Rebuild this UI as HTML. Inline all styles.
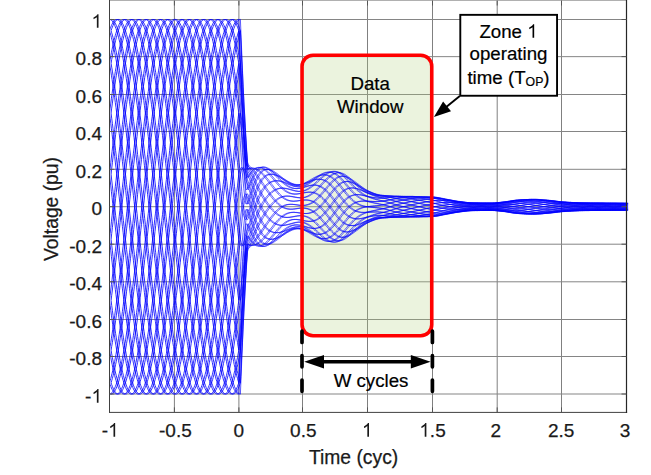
<!DOCTYPE html>
<html><head><meta charset="utf-8"><title>CVT transient</title>
<style>
html,body{margin:0;padding:0;background:#fff;}
body{width:651px;height:475px;overflow:hidden;}
svg{display:block;font-family:"Liberation Sans",sans-serif;}
.gv{stroke:#808080;stroke-width:1;}
.gh{stroke:#858585;stroke-width:1;}
.tk{stroke:#555;stroke-width:1;}
.tl{font-size:19px;fill:#1a1a1a;stroke:#1a1a1a;stroke-width:0.25;}
.al{font-size:19.3px;fill:#1a1a1a;stroke:#1a1a1a;stroke-width:0.25;}
.an{font-size:18.7px;fill:#000;stroke:#000;stroke-width:0.2;}
.cv path{fill:none;stroke:#0000ff;stroke-width:0.82;stroke-linejoin:round;}
.c2 path{stroke-width:0.65;}
</style></head><body>
<svg width="651" height="475" viewBox="0 0 651 475">
<rect x="0" y="0" width="651" height="475" fill="#fff"/>
<g><line x1="174.4" y1="0.5" x2="174.4" y2="412.4" class="gv"/><line x1="238.9" y1="0.5" x2="238.9" y2="412.4" class="gv"/><line x1="302.5" y1="0.5" x2="302.5" y2="412.4" class="gv"/><line x1="367.5" y1="0.5" x2="367.5" y2="412.4" class="gv"/><line x1="432.5" y1="0.5" x2="432.5" y2="412.4" class="gv"/><line x1="497.2" y1="0.5" x2="497.2" y2="412.4" class="gv"/><line x1="561.5" y1="0.5" x2="561.5" y2="412.4" class="gv"/><line x1="109.5" y1="19.50" x2="626.5" y2="19.50" class="gh"/><line x1="109.5" y1="56.65" x2="626.5" y2="56.65" class="gh"/><line x1="109.5" y1="94.50" x2="626.5" y2="94.50" class="gh"/><line x1="109.5" y1="131.50" x2="626.5" y2="131.50" class="gh"/><line x1="109.5" y1="169.30" x2="626.5" y2="169.30" class="gh"/><line x1="109.5" y1="206.70" x2="626.5" y2="206.70" class="gh"/><line x1="109.5" y1="244.20" x2="626.5" y2="244.20" class="gh"/><line x1="109.5" y1="281.80" x2="626.5" y2="281.80" class="gh"/><line x1="109.5" y1="319.50" x2="626.5" y2="319.50" class="gh"/><line x1="109.5" y1="356.50" x2="626.5" y2="356.50" class="gh"/><line x1="109.5" y1="394.00" x2="626.5" y2="394.00" class="gh"/></g>
<rect x="302.05" y="55.3" width="129.7" height="280.4" rx="11" ry="11" fill="rgba(175,207,123,0.25)"/>
<g class="cv" id="cv">
<path d="M109.5,19.4 L110.1,19.5 L110.8,19.8 L111.4,20.3 L112.1,20.9 L112.7,21.8 L113.4,22.8 L114.0,24.0 L114.7,25.3 L115.3,26.9 L116.0,28.6 L116.6,30.5 L117.3,32.6 L117.9,34.9 L118.5,37.3 L119.2,39.9 L119.8,42.6 L120.5,45.5 L121.1,48.6 L121.8,51.8 L122.4,55.2 L123.1,58.8 L123.7,62.4 L124.4,66.3 L125.0,70.2 L125.7,74.3 L126.3,78.5 L126.9,82.9 L127.6,87.4 L128.2,92.0 L128.9,96.7 L129.5,101.5 L130.2,106.4 L130.8,111.4 L131.5,116.5 L132.1,121.7 L132.8,127.0 L133.4,132.4 L134.1,137.8 L134.7,143.3 L135.4,148.9 L136.0,154.5 L136.6,160.2 L137.3,165.9 L137.9,171.7 L138.6,177.4 L139.2,183.3 L139.9,189.1 L140.5,195.0 L141.2,200.9 L141.8,206.8 L142.5,212.6 L143.1,218.5 L143.8,224.4 L144.4,230.2 L145.0,236.1 L145.7,241.8 L146.3,247.6 L147.0,253.3 L147.6,259.0 L148.3,264.6 L148.9,270.2 L149.6,275.7 L150.2,281.1 L150.9,286.5 L151.5,291.8 L152.2,297.0 L152.8,302.1 L153.4,307.1 L154.1,312.0 L154.7,316.8 L155.4,321.5 L156.0,326.1 L156.7,330.6 L157.3,335.0 L158.0,339.2 L158.6,343.3 L159.3,347.2 L159.9,351.1 L160.6,354.7 L161.2,358.3 L161.8,361.7 L162.5,364.9 L163.1,368.0 L163.8,370.9 L164.4,373.6 L165.1,376.2 L165.7,378.6 L166.4,380.9 L167.0,383.0 L167.7,384.9 L168.3,386.6 L169.0,388.2 L169.6,389.5 L170.2,390.7 L170.9,391.7 L171.5,392.6 L172.2,393.2 L172.8,393.7 L173.5,394.0 L174.1,394.1 L174.8,394.0 L175.4,393.7 L176.1,393.2 L176.7,392.6 L177.4,391.7 L178.0,390.7 L178.6,389.5 L179.3,388.2 L179.9,386.6 L180.6,384.9 L181.2,383.0 L181.9,380.9 L182.5,378.6 L183.2,376.2 L183.8,373.6 L184.5,370.9 L185.1,368.0 L185.8,364.9 L186.4,361.7 L187.1,358.3 L187.7,354.7 L188.3,351.1 L189.0,347.2 L189.6,343.3 L190.3,339.2 L190.9,335.0 L191.6,330.6 L192.2,326.1 L192.9,321.5 L193.5,316.8 L194.2,312.0 L194.8,307.1 L195.5,302.1 L196.1,297.0 L196.7,291.8 L197.4,286.5 L198.0,281.1 L198.7,275.7 L199.3,270.2 L200.0,264.6 L200.6,259.0 L201.3,253.3 L201.9,247.6 L202.6,241.8 L203.2,236.1 L203.9,230.2 L204.5,224.4 L205.1,218.5 L205.8,212.6 L206.4,206.7 L207.1,200.9 L207.7,195.0 L208.4,189.1 L209.0,183.3 L209.7,177.4 L210.3,171.7 L211.0,165.9 L211.6,160.2 L212.3,154.5 L212.9,148.9 L213.5,143.3 L214.2,137.8 L214.8,132.4 L215.5,127.0 L216.1,121.7 L216.8,116.5 L217.4,111.4 L218.1,106.4 L218.7,101.5 L219.4,96.7 L220.0,92.0 L220.7,87.4 L221.3,82.9 L221.9,78.5 L222.6,74.3 L223.2,70.2 L223.9,66.3 L224.5,62.4 L225.2,58.8 L225.8,55.2 L226.5,51.8 L227.1,48.6 L227.8,45.5 L228.4,42.6 L229.1,39.9 L229.7,37.3 L230.3,34.9 L231.0,32.6 L231.6,30.5 L232.3,28.6 L232.9,26.9 L233.6,25.3 L234.2,24.0 L234.9,22.8 L235.5,21.8 L236.2,20.9 L236.8,20.3 L237.5,19.8 L238.1,19.5 L238.8,19.4"/>
<path d="M109.5,30.7 L110.1,32.8 L110.8,35.1 L111.4,37.6 L112.1,40.2 L112.7,42.9 L113.4,45.9 L114.0,49.0 L114.7,52.2 L115.3,55.6 L116.0,59.2 L116.6,62.9 L117.3,66.7 L117.9,70.7 L118.5,74.8 L119.2,79.0 L119.8,83.4 L120.5,87.9 L121.1,92.5 L121.8,97.2 L122.4,102.0 L123.1,106.9 L123.7,112.0 L124.4,117.1 L125.0,122.3 L125.7,127.6 L126.3,133.0 L126.9,138.4 L127.6,143.9 L128.2,149.5 L128.9,155.1 L129.5,160.8 L130.2,166.5 L130.8,172.3 L131.5,178.1 L132.1,183.9 L132.8,189.8 L133.4,195.6 L134.1,201.5 L134.7,207.4 L135.4,213.3 L136.0,219.2 L136.6,225.0 L137.3,230.9 L137.9,236.7 L138.6,242.5 L139.2,248.2 L139.9,254.0 L140.5,259.6 L141.2,265.3 L141.8,270.8 L142.5,276.3 L143.1,281.7 L143.8,287.1 L144.4,292.4 L145.0,297.6 L145.7,302.7 L146.3,307.7 L147.0,312.6 L147.6,317.4 L148.3,322.1 L148.9,326.6 L149.6,331.1 L150.2,335.4 L150.9,339.7 L151.5,343.7 L152.2,347.7 L152.8,351.5 L153.4,355.1 L154.1,358.7 L154.7,362.0 L155.4,365.2 L156.0,368.3 L156.7,371.2 L157.3,373.9 L158.0,376.5 L158.6,378.9 L159.3,381.1 L159.9,383.2 L160.6,385.1 L161.2,386.8 L161.8,388.3 L162.5,389.7 L163.1,390.9 L163.8,391.8 L164.4,392.7 L165.1,393.3 L165.7,393.7 L166.4,394.0 L167.0,394.0 L167.7,393.9 L168.3,393.6 L169.0,393.2 L169.6,392.5 L170.2,391.6 L170.9,390.6 L171.5,389.4 L172.2,388.0 L172.8,386.4 L173.5,384.7 L174.1,382.8 L174.8,380.7 L175.4,378.4 L176.1,375.9 L176.7,373.3 L177.4,370.6 L178.0,367.6 L178.6,364.5 L179.3,361.3 L179.9,357.9 L180.6,354.3 L181.2,350.6 L181.9,346.8 L182.5,342.8 L183.2,338.7 L183.8,334.5 L184.5,330.1 L185.1,325.6 L185.8,321.0 L186.4,316.3 L187.1,311.5 L187.7,306.6 L188.3,301.5 L189.0,296.4 L189.6,291.2 L190.3,285.9 L190.9,280.5 L191.6,275.1 L192.2,269.6 L192.9,264.0 L193.5,258.4 L194.2,252.7 L194.8,247.0 L195.5,241.2 L196.1,235.4 L196.7,229.6 L197.4,223.7 L198.0,217.9 L198.7,212.0 L199.3,206.1 L200.0,200.2 L200.6,194.3 L201.3,188.5 L201.9,182.6 L202.6,176.8 L203.2,171.0 L203.9,165.3 L204.5,159.5 L205.1,153.9 L205.8,148.2 L206.4,142.7 L207.1,137.2 L207.7,131.8 L208.4,126.4 L209.0,121.1 L209.7,115.9 L210.3,110.8 L211.0,105.8 L211.6,100.9 L212.3,96.1 L212.9,91.4 L213.5,86.9 L214.2,82.4 L214.8,78.1 L215.5,73.8 L216.1,69.8 L216.8,65.8 L217.4,62.0 L218.1,58.4 L218.7,54.8 L219.4,51.5 L220.0,48.3 L220.7,45.2 L221.3,42.3 L221.9,39.6 L222.6,37.0 L223.2,34.6 L223.9,32.4 L224.5,30.3 L225.2,28.4 L225.8,26.7 L226.5,25.2 L227.1,23.8 L227.8,22.6 L228.4,21.7 L229.1,20.8 L229.7,20.2 L230.3,19.8 L231.0,19.5 L231.6,19.5 L232.3,19.6 L232.9,19.9 L233.6,20.3 L234.2,21.0 L234.9,21.9 L235.5,22.9 L236.2,24.1 L236.8,25.5 L237.5,27.1 L238.1,28.8 L238.8,30.7"/>
<path d="M109.5,63.3 L110.1,67.1 L110.8,71.1 L111.4,75.2 L112.1,79.5 L112.7,83.9 L113.4,88.4 L114.0,93.0 L114.7,97.7 L115.3,102.6 L116.0,107.5 L116.6,112.5 L117.3,117.7 L117.9,122.9 L118.5,128.2 L119.2,133.6 L119.8,139.0 L120.5,144.5 L121.1,150.1 L121.8,155.8 L122.4,161.4 L123.1,167.2 L123.7,172.9 L124.4,178.7 L125.0,184.6 L125.7,190.4 L126.3,196.3 L126.9,202.2 L127.6,208.1 L128.2,213.9 L128.9,219.8 L129.5,225.7 L130.2,231.5 L130.8,237.3 L131.5,243.1 L132.1,248.9 L132.8,254.6 L133.4,260.3 L134.1,265.9 L134.7,271.4 L135.4,276.9 L136.0,282.3 L136.6,287.7 L137.3,292.9 L137.9,298.1 L138.6,303.2 L139.2,308.2 L139.9,313.1 L140.5,317.9 L141.2,322.6 L141.8,327.1 L142.5,331.6 L143.1,335.9 L143.8,340.1 L144.4,344.2 L145.0,348.1 L145.7,351.9 L146.3,355.5 L147.0,359.0 L147.6,362.4 L148.3,365.6 L148.9,368.6 L149.6,371.5 L150.2,374.2 L150.9,376.8 L151.5,379.2 L152.2,381.4 L152.8,383.4 L153.4,385.3 L154.1,387.0 L154.7,388.5 L155.4,389.8 L156.0,391.0 L156.7,391.9 L157.3,392.7 L158.0,393.3 L158.6,393.8 L159.3,394.0 L159.9,394.0 L160.6,393.9 L161.2,393.6 L161.8,393.1 L162.5,392.4 L163.1,391.5 L163.8,390.5 L164.4,389.2 L165.1,387.8 L165.7,386.2 L166.4,384.5 L167.0,382.5 L167.7,380.4 L168.3,378.1 L169.0,375.7 L169.6,373.0 L170.2,370.2 L170.9,367.3 L171.5,364.2 L172.2,360.9 L172.8,357.5 L173.5,353.9 L174.1,350.2 L174.8,346.4 L175.4,342.4 L176.1,338.3 L176.7,334.0 L177.4,329.6 L178.0,325.1 L178.6,320.5 L179.3,315.8 L179.9,310.9 L180.6,306.0 L181.2,301.0 L181.9,295.8 L182.5,290.6 L183.2,285.3 L183.8,279.9 L184.5,274.5 L185.1,269.0 L185.8,263.4 L186.4,257.7 L187.1,252.1 L187.7,246.3 L188.3,240.6 L189.0,234.8 L189.6,228.9 L190.3,223.1 L190.9,217.2 L191.6,211.3 L192.2,205.4 L192.9,199.6 L193.5,193.7 L194.2,187.8 L194.8,182.0 L195.5,176.2 L196.1,170.4 L196.7,164.6 L197.4,158.9 L198.0,153.2 L198.7,147.6 L199.3,142.1 L200.0,136.6 L200.6,131.2 L201.3,125.8 L201.9,120.6 L202.6,115.4 L203.2,110.3 L203.9,105.3 L204.5,100.4 L205.1,95.6 L205.8,90.9 L206.4,86.4 L207.1,81.9 L207.7,77.6 L208.4,73.4 L209.0,69.3 L209.7,65.4 L210.3,61.6 L211.0,58.0 L211.6,54.5 L212.3,51.1 L212.9,47.9 L213.5,44.9 L214.2,42.0 L214.8,39.3 L215.5,36.7 L216.1,34.3 L216.8,32.1 L217.4,30.1 L218.1,28.2 L218.7,26.5 L219.4,25.0 L220.0,23.7 L220.7,22.5 L221.3,21.6 L221.9,20.8 L222.6,20.2 L223.2,19.7 L223.9,19.5 L224.5,19.5 L225.2,19.6 L225.8,19.9 L226.5,20.4 L227.1,21.1 L227.8,22.0 L228.4,23.0 L229.1,24.3 L229.7,25.7 L230.3,27.3 L231.0,29.0 L231.6,31.0 L232.3,33.1 L232.9,35.4 L233.6,37.8 L234.2,40.5 L234.9,43.3 L235.5,46.2 L236.2,49.3 L236.8,52.6 L237.5,56.0 L238.1,59.6 L238.8,63.3"/>
<path d="M109.5,113.1 L110.1,118.2 L110.8,123.5 L111.4,128.8 L112.1,134.2 L112.7,139.6 L113.4,145.2 L114.0,150.7 L114.7,156.4 L115.3,162.1 L116.0,167.8 L116.6,173.6 L117.3,179.4 L117.9,185.2 L118.5,191.1 L119.2,196.9 L119.8,202.8 L120.5,208.7 L121.1,214.6 L121.8,220.5 L122.4,226.3 L123.1,232.2 L123.7,238.0 L124.4,243.8 L125.0,249.5 L125.7,255.2 L126.3,260.9 L126.9,266.5 L127.6,272.0 L128.2,277.5 L128.9,282.9 L129.5,288.3 L130.2,293.5 L130.8,298.7 L131.5,303.8 L132.1,308.8 L132.8,313.6 L133.4,318.4 L134.1,323.1 L134.7,327.6 L135.4,332.1 L136.0,336.4 L136.6,340.6 L137.3,344.6 L137.9,348.5 L138.6,352.3 L139.2,355.9 L139.9,359.4 L140.5,362.8 L141.2,365.9 L141.8,369.0 L142.5,371.8 L143.1,374.5 L143.8,377.0 L144.4,379.4 L145.0,381.6 L145.7,383.6 L146.3,385.5 L147.0,387.2 L147.6,388.6 L148.3,390.0 L148.9,391.1 L149.6,392.0 L150.2,392.8 L150.9,393.4 L151.5,393.8 L152.2,394.0 L152.8,394.0 L153.4,393.9 L154.1,393.5 L154.7,393.0 L155.4,392.3 L156.0,391.4 L156.7,390.4 L157.3,389.1 L158.0,387.7 L158.6,386.1 L159.3,384.3 L159.9,382.3 L160.6,380.2 L161.2,377.9 L161.8,375.4 L162.5,372.7 L163.1,369.9 L163.8,367.0 L164.4,363.8 L165.1,360.6 L165.7,357.1 L166.4,353.5 L167.0,349.8 L167.7,345.9 L168.3,341.9 L169.0,337.8 L169.6,333.5 L170.2,329.1 L170.9,324.6 L171.5,320.0 L172.2,315.2 L172.8,310.4 L173.5,305.4 L174.1,300.4 L174.8,295.3 L175.4,290.0 L176.1,284.7 L176.7,279.3 L177.4,273.9 L178.0,268.3 L178.6,262.8 L179.3,257.1 L179.9,251.4 L180.6,245.7 L181.2,239.9 L181.9,234.1 L182.5,228.3 L183.2,222.4 L183.8,216.6 L184.5,210.7 L185.1,204.8 L185.8,198.9 L186.4,193.0 L187.1,187.2 L187.7,181.3 L188.3,175.5 L189.0,169.7 L189.6,164.0 L190.3,158.3 L190.9,152.6 L191.6,147.0 L192.2,141.5 L192.9,136.0 L193.5,130.6 L194.2,125.2 L194.8,120.0 L195.5,114.8 L196.1,109.7 L196.7,104.7 L197.4,99.9 L198.0,95.1 L198.7,90.4 L199.3,85.9 L200.0,81.4 L200.6,77.1 L201.3,72.9 L201.9,68.9 L202.6,65.0 L203.2,61.2 L203.9,57.6 L204.5,54.1 L205.1,50.7 L205.8,47.6 L206.4,44.5 L207.1,41.7 L207.7,39.0 L208.4,36.5 L209.0,34.1 L209.7,31.9 L210.3,29.9 L211.0,28.0 L211.6,26.3 L212.3,24.9 L212.9,23.5 L213.5,22.4 L214.2,21.5 L214.8,20.7 L215.5,20.1 L216.1,19.7 L216.8,19.5 L217.4,19.5 L218.1,19.6 L218.7,20.0 L219.4,20.5 L220.0,21.2 L220.7,22.1 L221.3,23.1 L221.9,24.4 L222.6,25.8 L223.2,27.4 L223.9,29.2 L224.5,31.2 L225.2,33.3 L225.8,35.6 L226.5,38.1 L227.1,40.8 L227.8,43.6 L228.4,46.5 L229.1,49.7 L229.7,52.9 L230.3,56.4 L231.0,60.0 L231.6,63.7 L232.3,67.6 L232.9,71.6 L233.6,75.7 L234.2,80.0 L234.9,84.4 L235.5,88.9 L236.2,93.5 L236.8,98.3 L237.5,103.1 L238.1,108.1 L238.8,113.1"/>
<path d="M109.5,174.2 L110.1,180.0 L110.8,185.9 L111.4,191.7 L112.1,197.6 L112.7,203.5 L113.4,209.4 L114.0,215.2 L114.7,221.1 L115.3,227.0 L116.0,232.8 L116.6,238.6 L117.3,244.4 L117.9,250.2 L118.5,255.9 L119.2,261.5 L119.8,267.1 L120.5,272.6 L121.1,278.1 L121.8,283.5 L122.4,288.9 L123.1,294.1 L123.7,299.3 L124.4,304.3 L125.0,309.3 L125.7,314.2 L126.3,318.9 L126.9,323.6 L127.6,328.1 L128.2,332.6 L128.9,336.9 L129.5,341.0 L130.2,345.1 L130.8,349.0 L131.5,352.7 L132.1,356.3 L132.8,359.8 L133.4,363.1 L134.1,366.3 L134.7,369.3 L135.4,372.1 L136.0,374.8 L136.6,377.3 L137.3,379.7 L137.9,381.8 L138.6,383.8 L139.2,385.7 L139.9,387.3 L140.5,388.8 L141.2,390.1 L141.8,391.2 L142.5,392.1 L143.1,392.9 L143.8,393.4 L144.4,393.8 L145.0,394.0 L145.7,394.0 L146.3,393.9 L147.0,393.5 L147.6,393.0 L148.3,392.2 L148.9,391.3 L149.6,390.2 L150.2,389.0 L150.9,387.5 L151.5,385.9 L152.2,384.1 L152.8,382.1 L153.4,379.9 L154.1,377.6 L154.7,375.1 L155.4,372.4 L156.0,369.6 L156.7,366.6 L157.3,363.5 L158.0,360.2 L158.6,356.7 L159.3,353.1 L159.9,349.4 L160.6,345.5 L161.2,341.5 L161.8,337.3 L162.5,333.0 L163.1,328.6 L163.8,324.1 L164.4,319.5 L165.1,314.7 L165.7,309.9 L166.4,304.9 L167.0,299.8 L167.7,294.7 L168.3,289.4 L169.0,284.1 L169.6,278.7 L170.2,273.3 L170.9,267.7 L171.5,262.1 L172.2,256.5 L172.8,250.8 L173.5,245.1 L174.1,239.3 L174.8,233.5 L175.4,227.6 L176.1,221.8 L176.7,215.9 L177.4,210.0 L178.0,204.1 L178.6,198.3 L179.3,192.4 L179.9,186.5 L180.6,180.7 L181.2,174.9 L181.9,169.1 L182.5,163.3 L183.2,157.6 L183.8,152.0 L184.5,146.4 L185.1,140.9 L185.8,135.4 L186.4,130.0 L187.1,124.6 L187.7,119.4 L188.3,114.2 L189.0,109.2 L189.6,104.2 L190.3,99.3 L190.9,94.6 L191.6,89.9 L192.2,85.4 L192.9,80.9 L193.5,76.6 L194.2,72.5 L194.8,68.4 L195.5,64.5 L196.1,60.8 L196.7,57.2 L197.4,53.7 L198.0,50.4 L198.7,47.2 L199.3,44.2 L200.0,41.4 L200.6,38.7 L201.3,36.2 L201.9,33.8 L202.6,31.7 L203.2,29.7 L203.9,27.8 L204.5,26.2 L205.1,24.7 L205.8,23.4 L206.4,22.3 L207.1,21.4 L207.7,20.6 L208.4,20.1 L209.0,19.7 L209.7,19.5 L210.3,19.5 L211.0,19.6 L211.6,20.0 L212.3,20.5 L212.9,21.3 L213.5,22.2 L214.2,23.3 L214.8,24.5 L215.5,26.0 L216.1,27.6 L216.8,29.4 L217.4,31.4 L218.1,33.6 L218.7,35.9 L219.4,38.4 L220.0,41.1 L220.7,43.9 L221.3,46.9 L221.9,50.0 L222.6,53.3 L223.2,56.8 L223.9,60.4 L224.5,64.1 L225.2,68.0 L225.8,72.0 L226.5,76.2 L227.1,80.5 L227.8,84.9 L228.4,89.4 L229.1,94.0 L229.7,98.8 L230.3,103.6 L231.0,108.6 L231.6,113.7 L232.3,118.8 L232.9,124.1 L233.6,129.4 L234.2,134.8 L234.9,140.2 L235.5,145.8 L236.2,151.4 L236.8,157.0 L237.5,162.7 L238.1,168.4 L238.8,174.2"/>
<path d="M109.5,239.3 L110.1,245.1 L110.8,250.8 L111.4,256.5 L112.1,262.1 L112.7,267.7 L113.4,273.3 L114.0,278.7 L114.7,284.1 L115.3,289.4 L116.0,294.7 L116.6,299.8 L117.3,304.9 L117.9,309.9 L118.5,314.7 L119.2,319.5 L119.8,324.1 L120.5,328.6 L121.1,333.0 L121.8,337.3 L122.4,341.5 L123.1,345.5 L123.7,349.4 L124.4,353.1 L125.0,356.7 L125.7,360.2 L126.3,363.5 L126.9,366.6 L127.6,369.6 L128.2,372.4 L128.9,375.1 L129.5,377.6 L130.2,379.9 L130.8,382.1 L131.5,384.1 L132.1,385.9 L132.8,387.5 L133.4,389.0 L134.1,390.2 L134.7,391.3 L135.4,392.2 L136.0,393.0 L136.6,393.5 L137.3,393.9 L137.9,394.0 L138.6,394.0 L139.2,393.8 L139.9,393.4 L140.5,392.9 L141.2,392.1 L141.8,391.2 L142.5,390.1 L143.1,388.8 L143.8,387.3 L144.4,385.7 L145.0,383.8 L145.7,381.8 L146.3,379.7 L147.0,377.3 L147.6,374.8 L148.3,372.1 L148.9,369.3 L149.6,366.3 L150.2,363.1 L150.9,359.8 L151.5,356.3 L152.2,352.7 L152.8,349.0 L153.4,345.1 L154.1,341.0 L154.7,336.9 L155.4,332.6 L156.0,328.1 L156.7,323.6 L157.3,318.9 L158.0,314.2 L158.6,309.3 L159.3,304.3 L159.9,299.3 L160.6,294.1 L161.2,288.9 L161.8,283.5 L162.5,278.1 L163.1,272.6 L163.8,267.1 L164.4,261.5 L165.1,255.9 L165.7,250.2 L166.4,244.4 L167.0,238.6 L167.7,232.8 L168.3,227.0 L169.0,221.1 L169.6,215.2 L170.2,209.4 L170.9,203.5 L171.5,197.6 L172.2,191.7 L172.8,185.9 L173.5,180.0 L174.1,174.2 L174.8,168.4 L175.4,162.7 L176.1,157.0 L176.7,151.4 L177.4,145.8 L178.0,140.2 L178.6,134.8 L179.3,129.4 L179.9,124.1 L180.6,118.8 L181.2,113.7 L181.9,108.6 L182.5,103.6 L183.2,98.8 L183.8,94.0 L184.5,89.4 L185.1,84.9 L185.8,80.5 L186.4,76.2 L187.1,72.0 L187.7,68.0 L188.3,64.1 L189.0,60.4 L189.6,56.8 L190.3,53.3 L190.9,50.0 L191.6,46.9 L192.2,43.9 L192.9,41.1 L193.5,38.4 L194.2,35.9 L194.8,33.6 L195.5,31.4 L196.1,29.4 L196.7,27.6 L197.4,26.0 L198.0,24.5 L198.7,23.3 L199.3,22.2 L200.0,21.3 L200.6,20.5 L201.3,20.0 L201.9,19.6 L202.6,19.5 L203.2,19.5 L203.9,19.7 L204.5,20.1 L205.1,20.6 L205.8,21.4 L206.4,22.3 L207.1,23.4 L207.7,24.7 L208.4,26.2 L209.0,27.8 L209.7,29.7 L210.3,31.7 L211.0,33.8 L211.6,36.2 L212.3,38.7 L212.9,41.4 L213.5,44.2 L214.2,47.2 L214.8,50.4 L215.5,53.7 L216.1,57.2 L216.8,60.8 L217.4,64.5 L218.1,68.4 L218.7,72.5 L219.4,76.6 L220.0,80.9 L220.7,85.4 L221.3,89.9 L221.9,94.6 L222.6,99.3 L223.2,104.2 L223.9,109.2 L224.5,114.2 L225.2,119.4 L225.8,124.6 L226.5,130.0 L227.1,135.4 L227.8,140.9 L228.4,146.4 L229.1,152.0 L229.7,157.6 L230.3,163.3 L231.0,169.1 L231.6,174.9 L232.3,180.7 L232.9,186.5 L233.6,192.4 L234.2,198.3 L234.9,204.1 L235.5,210.0 L236.2,215.9 L236.8,221.8 L237.5,227.6 L238.1,233.5 L238.8,239.3"/>
<path d="M109.5,300.4 L110.1,305.4 L110.8,310.4 L111.4,315.2 L112.1,320.0 L112.7,324.6 L113.4,329.1 L114.0,333.5 L114.7,337.8 L115.3,341.9 L116.0,345.9 L116.6,349.8 L117.3,353.5 L117.9,357.1 L118.5,360.6 L119.2,363.8 L119.8,367.0 L120.5,369.9 L121.1,372.7 L121.8,375.4 L122.4,377.9 L123.1,380.2 L123.7,382.3 L124.4,384.3 L125.0,386.1 L125.7,387.7 L126.3,389.1 L126.9,390.4 L127.6,391.4 L128.2,392.3 L128.9,393.0 L129.5,393.5 L130.2,393.9 L130.8,394.0 L131.5,394.0 L132.1,393.8 L132.8,393.4 L133.4,392.8 L134.1,392.0 L134.7,391.1 L135.4,390.0 L136.0,388.6 L136.6,387.2 L137.3,385.5 L137.9,383.6 L138.6,381.6 L139.2,379.4 L139.9,377.0 L140.5,374.5 L141.2,371.8 L141.8,369.0 L142.5,365.9 L143.1,362.8 L143.8,359.4 L144.4,355.9 L145.0,352.3 L145.7,348.5 L146.3,344.6 L147.0,340.6 L147.6,336.4 L148.3,332.1 L148.9,327.6 L149.6,323.1 L150.2,318.4 L150.9,313.6 L151.5,308.8 L152.2,303.8 L152.8,298.7 L153.4,293.5 L154.1,288.3 L154.7,282.9 L155.4,277.5 L156.0,272.0 L156.7,266.5 L157.3,260.9 L158.0,255.2 L158.6,249.5 L159.3,243.8 L159.9,238.0 L160.6,232.2 L161.2,226.3 L161.8,220.5 L162.5,214.6 L163.1,208.7 L163.8,202.8 L164.4,196.9 L165.1,191.1 L165.7,185.2 L166.4,179.4 L167.0,173.6 L167.7,167.8 L168.3,162.1 L169.0,156.4 L169.6,150.7 L170.2,145.2 L170.9,139.6 L171.5,134.2 L172.2,128.8 L172.8,123.5 L173.5,118.2 L174.1,113.1 L174.8,108.1 L175.4,103.1 L176.1,98.3 L176.7,93.5 L177.4,88.9 L178.0,84.4 L178.6,80.0 L179.3,75.7 L179.9,71.6 L180.6,67.6 L181.2,63.7 L181.9,60.0 L182.5,56.4 L183.2,52.9 L183.8,49.7 L184.5,46.5 L185.1,43.6 L185.8,40.8 L186.4,38.1 L187.1,35.6 L187.7,33.3 L188.3,31.2 L189.0,29.2 L189.6,27.4 L190.3,25.8 L190.9,24.4 L191.6,23.1 L192.2,22.1 L192.9,21.2 L193.5,20.5 L194.2,20.0 L194.8,19.6 L195.5,19.5 L196.1,19.5 L196.7,19.7 L197.4,20.1 L198.0,20.7 L198.7,21.5 L199.3,22.4 L200.0,23.5 L200.6,24.9 L201.3,26.3 L201.9,28.0 L202.6,29.9 L203.2,31.9 L203.9,34.1 L204.5,36.5 L205.1,39.0 L205.8,41.7 L206.4,44.5 L207.1,47.6 L207.7,50.7 L208.4,54.1 L209.0,57.6 L209.7,61.2 L210.3,65.0 L211.0,68.9 L211.6,72.9 L212.3,77.1 L212.9,81.4 L213.5,85.9 L214.2,90.4 L214.8,95.1 L215.5,99.9 L216.1,104.7 L216.8,109.7 L217.4,114.8 L218.1,120.0 L218.7,125.2 L219.4,130.6 L220.0,136.0 L220.7,141.5 L221.3,147.0 L221.9,152.6 L222.6,158.3 L223.2,164.0 L223.9,169.7 L224.5,175.5 L225.2,181.3 L225.8,187.2 L226.5,193.0 L227.1,198.9 L227.8,204.8 L228.4,210.7 L229.1,216.6 L229.7,222.4 L230.3,228.3 L231.0,234.1 L231.6,239.9 L232.3,245.7 L232.9,251.4 L233.6,257.1 L234.2,262.8 L234.9,268.3 L235.5,273.9 L236.2,279.3 L236.8,284.7 L237.5,290.0 L238.1,295.3 L238.8,300.4"/>
<path d="M109.5,350.2 L110.1,353.9 L110.8,357.5 L111.4,360.9 L112.1,364.2 L112.7,367.3 L113.4,370.2 L114.0,373.0 L114.7,375.7 L115.3,378.1 L116.0,380.4 L116.6,382.5 L117.3,384.5 L117.9,386.2 L118.5,387.8 L119.2,389.2 L119.8,390.5 L120.5,391.5 L121.1,392.4 L121.8,393.1 L122.4,393.6 L123.1,393.9 L123.7,394.0 L124.4,394.0 L125.0,393.8 L125.7,393.3 L126.3,392.7 L126.9,391.9 L127.6,391.0 L128.2,389.8 L128.9,388.5 L129.5,387.0 L130.2,385.3 L130.8,383.4 L131.5,381.4 L132.1,379.2 L132.8,376.8 L133.4,374.2 L134.1,371.5 L134.7,368.6 L135.4,365.6 L136.0,362.4 L136.6,359.0 L137.3,355.5 L137.9,351.9 L138.6,348.1 L139.2,344.2 L139.9,340.1 L140.5,335.9 L141.2,331.6 L141.8,327.1 L142.5,322.6 L143.1,317.9 L143.8,313.1 L144.4,308.2 L145.0,303.2 L145.7,298.1 L146.3,292.9 L147.0,287.7 L147.6,282.3 L148.3,276.9 L148.9,271.4 L149.6,265.9 L150.2,260.3 L150.9,254.6 L151.5,248.9 L152.2,243.1 L152.8,237.3 L153.4,231.5 L154.1,225.7 L154.7,219.8 L155.4,213.9 L156.0,208.1 L156.7,202.2 L157.3,196.3 L158.0,190.4 L158.6,184.6 L159.3,178.7 L159.9,172.9 L160.6,167.2 L161.2,161.4 L161.8,155.8 L162.5,150.1 L163.1,144.5 L163.8,139.0 L164.4,133.6 L165.1,128.2 L165.7,122.9 L166.4,117.7 L167.0,112.5 L167.7,107.5 L168.3,102.6 L169.0,97.7 L169.6,93.0 L170.2,88.4 L170.9,83.9 L171.5,79.5 L172.2,75.2 L172.8,71.1 L173.5,67.1 L174.1,63.3 L174.8,59.6 L175.4,56.0 L176.1,52.6 L176.7,49.3 L177.4,46.2 L178.0,43.3 L178.6,40.5 L179.3,37.8 L179.9,35.4 L180.6,33.1 L181.2,31.0 L181.9,29.0 L182.5,27.3 L183.2,25.7 L183.8,24.3 L184.5,23.0 L185.1,22.0 L185.8,21.1 L186.4,20.4 L187.1,19.9 L187.7,19.6 L188.3,19.5 L189.0,19.5 L189.6,19.7 L190.3,20.2 L190.9,20.8 L191.6,21.6 L192.2,22.5 L192.9,23.7 L193.5,25.0 L194.2,26.5 L194.8,28.2 L195.5,30.1 L196.1,32.1 L196.7,34.3 L197.4,36.7 L198.0,39.3 L198.7,42.0 L199.3,44.9 L200.0,47.9 L200.6,51.1 L201.3,54.5 L201.9,58.0 L202.6,61.6 L203.2,65.4 L203.9,69.3 L204.5,73.4 L205.1,77.6 L205.8,81.9 L206.4,86.4 L207.1,90.9 L207.7,95.6 L208.4,100.4 L209.0,105.3 L209.7,110.3 L210.3,115.4 L211.0,120.6 L211.6,125.8 L212.3,131.2 L212.9,136.6 L213.5,142.1 L214.2,147.6 L214.8,153.2 L215.5,158.9 L216.1,164.6 L216.8,170.4 L217.4,176.2 L218.1,182.0 L218.7,187.8 L219.4,193.7 L220.0,199.6 L220.7,205.4 L221.3,211.3 L221.9,217.2 L222.6,223.1 L223.2,228.9 L223.9,234.8 L224.5,240.6 L225.2,246.3 L225.8,252.1 L226.5,257.7 L227.1,263.4 L227.8,269.0 L228.4,274.5 L229.1,279.9 L229.7,285.3 L230.3,290.6 L231.0,295.8 L231.6,301.0 L232.3,306.0 L232.9,310.9 L233.6,315.8 L234.2,320.5 L234.9,325.1 L235.5,329.6 L236.2,334.0 L236.8,338.3 L237.5,342.4 L238.1,346.4 L238.8,350.2"/>
<path d="M109.5,382.8 L110.1,384.7 L110.8,386.4 L111.4,388.0 L112.1,389.4 L112.7,390.6 L113.4,391.6 L114.0,392.5 L114.7,393.2 L115.3,393.6 L116.0,393.9 L116.6,394.0 L117.3,394.0 L117.9,393.7 L118.5,393.3 L119.2,392.7 L119.8,391.8 L120.5,390.9 L121.1,389.7 L121.8,388.3 L122.4,386.8 L123.1,385.1 L123.7,383.2 L124.4,381.1 L125.0,378.9 L125.7,376.5 L126.3,373.9 L126.9,371.2 L127.6,368.3 L128.2,365.2 L128.9,362.0 L129.5,358.7 L130.2,355.1 L130.8,351.5 L131.5,347.7 L132.1,343.7 L132.8,339.7 L133.4,335.4 L134.1,331.1 L134.7,326.6 L135.4,322.1 L136.0,317.4 L136.6,312.6 L137.3,307.7 L137.9,302.7 L138.6,297.6 L139.2,292.4 L139.9,287.1 L140.5,281.7 L141.2,276.3 L141.8,270.8 L142.5,265.3 L143.1,259.6 L143.8,254.0 L144.4,248.2 L145.0,242.5 L145.7,236.7 L146.3,230.9 L147.0,225.0 L147.6,219.2 L148.3,213.3 L148.9,207.4 L149.6,201.5 L150.2,195.6 L150.9,189.8 L151.5,183.9 L152.2,178.1 L152.8,172.3 L153.4,166.5 L154.1,160.8 L154.7,155.1 L155.4,149.5 L156.0,143.9 L156.7,138.4 L157.3,133.0 L158.0,127.6 L158.6,122.3 L159.3,117.1 L159.9,112.0 L160.6,106.9 L161.2,102.0 L161.8,97.2 L162.5,92.5 L163.1,87.9 L163.8,83.4 L164.4,79.0 L165.1,74.8 L165.7,70.7 L166.4,66.7 L167.0,62.9 L167.7,59.2 L168.3,55.6 L169.0,52.2 L169.6,49.0 L170.2,45.9 L170.9,42.9 L171.5,40.2 L172.2,37.6 L172.8,35.1 L173.5,32.8 L174.1,30.7 L174.8,28.8 L175.4,27.1 L176.1,25.5 L176.7,24.1 L177.4,22.9 L178.0,21.9 L178.6,21.0 L179.3,20.3 L179.9,19.9 L180.6,19.6 L181.2,19.5 L181.9,19.5 L182.5,19.8 L183.2,20.2 L183.8,20.8 L184.5,21.7 L185.1,22.6 L185.8,23.8 L186.4,25.2 L187.1,26.7 L187.7,28.4 L188.3,30.3 L189.0,32.4 L189.6,34.6 L190.3,37.0 L190.9,39.6 L191.6,42.3 L192.2,45.2 L192.9,48.3 L193.5,51.5 L194.2,54.8 L194.8,58.4 L195.5,62.0 L196.1,65.8 L196.7,69.8 L197.4,73.8 L198.0,78.1 L198.7,82.4 L199.3,86.9 L200.0,91.4 L200.6,96.1 L201.3,100.9 L201.9,105.8 L202.6,110.8 L203.2,115.9 L203.9,121.1 L204.5,126.4 L205.1,131.8 L205.8,137.2 L206.4,142.7 L207.1,148.2 L207.7,153.9 L208.4,159.5 L209.0,165.3 L209.7,171.0 L210.3,176.8 L211.0,182.6 L211.6,188.5 L212.3,194.3 L212.9,200.2 L213.5,206.1 L214.2,212.0 L214.8,217.9 L215.5,223.7 L216.1,229.6 L216.8,235.4 L217.4,241.2 L218.1,247.0 L218.7,252.7 L219.4,258.4 L220.0,264.0 L220.7,269.6 L221.3,275.1 L221.9,280.5 L222.6,285.9 L223.2,291.2 L223.9,296.4 L224.5,301.5 L225.2,306.6 L225.8,311.5 L226.5,316.3 L227.1,321.0 L227.8,325.6 L228.4,330.1 L229.1,334.5 L229.7,338.7 L230.3,342.8 L231.0,346.8 L231.6,350.6 L232.3,354.3 L232.9,357.9 L233.6,361.3 L234.2,364.5 L234.9,367.6 L235.5,370.6 L236.2,373.3 L236.8,375.9 L237.5,378.4 L238.1,380.7 L238.8,382.8"/>
<path d="M109.5,394.1 L110.1,394.0 L110.8,393.7 L111.4,393.2 L112.1,392.6 L112.7,391.7 L113.4,390.7 L114.0,389.5 L114.7,388.2 L115.3,386.6 L116.0,384.9 L116.6,383.0 L117.3,380.9 L117.9,378.6 L118.5,376.2 L119.2,373.6 L119.8,370.9 L120.5,368.0 L121.1,364.9 L121.8,361.7 L122.4,358.3 L123.1,354.7 L123.7,351.1 L124.4,347.2 L125.0,343.3 L125.7,339.2 L126.3,335.0 L126.9,330.6 L127.6,326.1 L128.2,321.5 L128.9,316.8 L129.5,312.0 L130.2,307.1 L130.8,302.1 L131.5,297.0 L132.1,291.8 L132.8,286.5 L133.4,281.1 L134.1,275.7 L134.7,270.2 L135.4,264.6 L136.0,259.0 L136.6,253.3 L137.3,247.6 L137.9,241.8 L138.6,236.1 L139.2,230.2 L139.9,224.4 L140.5,218.5 L141.2,212.6 L141.8,206.7 L142.5,200.9 L143.1,195.0 L143.8,189.1 L144.4,183.3 L145.0,177.4 L145.7,171.7 L146.3,165.9 L147.0,160.2 L147.6,154.5 L148.3,148.9 L148.9,143.3 L149.6,137.8 L150.2,132.4 L150.9,127.0 L151.5,121.7 L152.2,116.5 L152.8,111.4 L153.4,106.4 L154.1,101.5 L154.7,96.7 L155.4,92.0 L156.0,87.4 L156.7,82.9 L157.3,78.5 L158.0,74.3 L158.6,70.2 L159.3,66.3 L159.9,62.4 L160.6,58.8 L161.2,55.2 L161.8,51.8 L162.5,48.6 L163.1,45.5 L163.8,42.6 L164.4,39.9 L165.1,37.3 L165.7,34.9 L166.4,32.6 L167.0,30.5 L167.7,28.6 L168.3,26.9 L169.0,25.3 L169.6,24.0 L170.2,22.8 L170.9,21.8 L171.5,20.9 L172.2,20.3 L172.8,19.8 L173.5,19.5 L174.1,19.4 L174.8,19.5 L175.4,19.8 L176.1,20.3 L176.7,20.9 L177.4,21.8 L178.0,22.8 L178.6,24.0 L179.3,25.3 L179.9,26.9 L180.6,28.6 L181.2,30.5 L181.9,32.6 L182.5,34.9 L183.2,37.3 L183.8,39.9 L184.5,42.6 L185.1,45.5 L185.8,48.6 L186.4,51.8 L187.1,55.2 L187.7,58.8 L188.3,62.4 L189.0,66.3 L189.6,70.2 L190.3,74.3 L190.9,78.5 L191.6,82.9 L192.2,87.4 L192.9,92.0 L193.5,96.7 L194.2,101.5 L194.8,106.4 L195.5,111.4 L196.1,116.5 L196.7,121.7 L197.4,127.0 L198.0,132.4 L198.7,137.8 L199.3,143.3 L200.0,148.9 L200.6,154.5 L201.3,160.2 L201.9,165.9 L202.6,171.7 L203.2,177.4 L203.9,183.3 L204.5,189.1 L205.1,195.0 L205.8,200.9 L206.4,206.8 L207.1,212.6 L207.7,218.5 L208.4,224.4 L209.0,230.2 L209.7,236.1 L210.3,241.8 L211.0,247.6 L211.6,253.3 L212.3,259.0 L212.9,264.6 L213.5,270.2 L214.2,275.7 L214.8,281.1 L215.5,286.5 L216.1,291.8 L216.8,297.0 L217.4,302.1 L218.1,307.1 L218.7,312.0 L219.4,316.8 L220.0,321.5 L220.7,326.1 L221.3,330.6 L221.9,335.0 L222.6,339.2 L223.2,343.3 L223.9,347.2 L224.5,351.1 L225.2,354.7 L225.8,358.3 L226.5,361.7 L227.1,364.9 L227.8,368.0 L228.4,370.9 L229.1,373.6 L229.7,376.2 L230.3,378.6 L231.0,380.9 L231.6,383.0 L232.3,384.9 L232.9,386.6 L233.6,388.2 L234.2,389.5 L234.9,390.7 L235.5,391.7 L236.2,392.6 L236.8,393.2 L237.5,393.7 L238.1,394.0 L238.8,394.1"/>
<path d="M109.5,382.8 L110.1,380.7 L110.8,378.4 L111.4,375.9 L112.1,373.3 L112.7,370.6 L113.4,367.6 L114.0,364.5 L114.7,361.3 L115.3,357.9 L116.0,354.3 L116.6,350.6 L117.3,346.8 L117.9,342.8 L118.5,338.7 L119.2,334.5 L119.8,330.1 L120.5,325.6 L121.1,321.0 L121.8,316.3 L122.4,311.5 L123.1,306.6 L123.7,301.5 L124.4,296.4 L125.0,291.2 L125.7,285.9 L126.3,280.5 L126.9,275.1 L127.6,269.6 L128.2,264.0 L128.9,258.4 L129.5,252.7 L130.2,247.0 L130.8,241.2 L131.5,235.4 L132.1,229.6 L132.8,223.7 L133.4,217.9 L134.1,212.0 L134.7,206.1 L135.4,200.2 L136.0,194.3 L136.6,188.5 L137.3,182.6 L137.9,176.8 L138.6,171.0 L139.2,165.3 L139.9,159.5 L140.5,153.9 L141.2,148.2 L141.8,142.7 L142.5,137.2 L143.1,131.8 L143.8,126.4 L144.4,121.1 L145.0,115.9 L145.7,110.8 L146.3,105.8 L147.0,100.9 L147.6,96.1 L148.3,91.4 L148.9,86.9 L149.6,82.4 L150.2,78.1 L150.9,73.8 L151.5,69.8 L152.2,65.8 L152.8,62.0 L153.4,58.4 L154.1,54.8 L154.7,51.5 L155.4,48.3 L156.0,45.2 L156.7,42.3 L157.3,39.6 L158.0,37.0 L158.6,34.6 L159.3,32.4 L159.9,30.3 L160.6,28.4 L161.2,26.7 L161.8,25.2 L162.5,23.8 L163.1,22.6 L163.8,21.7 L164.4,20.8 L165.1,20.2 L165.7,19.8 L166.4,19.5 L167.0,19.5 L167.7,19.6 L168.3,19.9 L169.0,20.3 L169.6,21.0 L170.2,21.9 L170.9,22.9 L171.5,24.1 L172.2,25.5 L172.8,27.1 L173.5,28.8 L174.1,30.7 L174.8,32.8 L175.4,35.1 L176.1,37.6 L176.7,40.2 L177.4,42.9 L178.0,45.9 L178.6,49.0 L179.3,52.2 L179.9,55.6 L180.6,59.2 L181.2,62.9 L181.9,66.7 L182.5,70.7 L183.2,74.8 L183.8,79.0 L184.5,83.4 L185.1,87.9 L185.8,92.5 L186.4,97.2 L187.1,102.0 L187.7,106.9 L188.3,112.0 L189.0,117.1 L189.6,122.3 L190.3,127.6 L190.9,133.0 L191.6,138.4 L192.2,143.9 L192.9,149.5 L193.5,155.1 L194.2,160.8 L194.8,166.5 L195.5,172.3 L196.1,178.1 L196.7,183.9 L197.4,189.8 L198.0,195.6 L198.7,201.5 L199.3,207.4 L200.0,213.3 L200.6,219.2 L201.3,225.0 L201.9,230.9 L202.6,236.7 L203.2,242.5 L203.9,248.2 L204.5,254.0 L205.1,259.6 L205.8,265.3 L206.4,270.8 L207.1,276.3 L207.7,281.7 L208.4,287.1 L209.0,292.4 L209.7,297.6 L210.3,302.7 L211.0,307.7 L211.6,312.6 L212.3,317.4 L212.9,322.1 L213.5,326.6 L214.2,331.1 L214.8,335.4 L215.5,339.7 L216.1,343.7 L216.8,347.7 L217.4,351.5 L218.1,355.1 L218.7,358.7 L219.4,362.0 L220.0,365.2 L220.7,368.3 L221.3,371.2 L221.9,373.9 L222.6,376.5 L223.2,378.9 L223.9,381.1 L224.5,383.2 L225.2,385.1 L225.8,386.8 L226.5,388.3 L227.1,389.7 L227.8,390.9 L228.4,391.8 L229.1,392.7 L229.7,393.3 L230.3,393.7 L231.0,394.0 L231.6,394.0 L232.3,393.9 L232.9,393.6 L233.6,393.2 L234.2,392.5 L234.9,391.6 L235.5,390.6 L236.2,389.4 L236.8,388.0 L237.5,386.4 L238.1,384.7 L238.8,382.8"/>
<path d="M109.5,350.2 L110.1,346.4 L110.8,342.4 L111.4,338.3 L112.1,334.0 L112.7,329.6 L113.4,325.1 L114.0,320.5 L114.7,315.8 L115.3,310.9 L116.0,306.0 L116.6,301.0 L117.3,295.8 L117.9,290.6 L118.5,285.3 L119.2,279.9 L119.8,274.5 L120.5,269.0 L121.1,263.4 L121.8,257.7 L122.4,252.1 L123.1,246.3 L123.7,240.6 L124.4,234.8 L125.0,228.9 L125.7,223.1 L126.3,217.2 L126.9,211.3 L127.6,205.4 L128.2,199.6 L128.9,193.7 L129.5,187.8 L130.2,182.0 L130.8,176.2 L131.5,170.4 L132.1,164.6 L132.8,158.9 L133.4,153.2 L134.1,147.6 L134.7,142.1 L135.4,136.6 L136.0,131.2 L136.6,125.8 L137.3,120.6 L137.9,115.4 L138.6,110.3 L139.2,105.3 L139.9,100.4 L140.5,95.6 L141.2,90.9 L141.8,86.4 L142.5,81.9 L143.1,77.6 L143.8,73.4 L144.4,69.3 L145.0,65.4 L145.7,61.6 L146.3,58.0 L147.0,54.5 L147.6,51.1 L148.3,47.9 L148.9,44.9 L149.6,42.0 L150.2,39.3 L150.9,36.7 L151.5,34.3 L152.2,32.1 L152.8,30.1 L153.4,28.2 L154.1,26.5 L154.7,25.0 L155.4,23.7 L156.0,22.5 L156.7,21.6 L157.3,20.8 L158.0,20.2 L158.6,19.7 L159.3,19.5 L159.9,19.5 L160.6,19.6 L161.2,19.9 L161.8,20.4 L162.5,21.1 L163.1,22.0 L163.8,23.0 L164.4,24.3 L165.1,25.7 L165.7,27.3 L166.4,29.0 L167.0,31.0 L167.7,33.1 L168.3,35.4 L169.0,37.8 L169.6,40.5 L170.2,43.3 L170.9,46.2 L171.5,49.3 L172.2,52.6 L172.8,56.0 L173.5,59.6 L174.1,63.3 L174.8,67.1 L175.4,71.1 L176.1,75.2 L176.7,79.5 L177.4,83.9 L178.0,88.4 L178.6,93.0 L179.3,97.7 L179.9,102.6 L180.6,107.5 L181.2,112.5 L181.9,117.7 L182.5,122.9 L183.2,128.2 L183.8,133.6 L184.5,139.0 L185.1,144.5 L185.8,150.1 L186.4,155.8 L187.1,161.4 L187.7,167.2 L188.3,172.9 L189.0,178.7 L189.6,184.6 L190.3,190.4 L190.9,196.3 L191.6,202.2 L192.2,208.1 L192.9,213.9 L193.5,219.8 L194.2,225.7 L194.8,231.5 L195.5,237.3 L196.1,243.1 L196.7,248.9 L197.4,254.6 L198.0,260.3 L198.7,265.9 L199.3,271.4 L200.0,276.9 L200.6,282.3 L201.3,287.7 L201.9,292.9 L202.6,298.1 L203.2,303.2 L203.9,308.2 L204.5,313.1 L205.1,317.9 L205.8,322.6 L206.4,327.1 L207.1,331.6 L207.7,335.9 L208.4,340.1 L209.0,344.2 L209.7,348.1 L210.3,351.9 L211.0,355.5 L211.6,359.0 L212.3,362.4 L212.9,365.6 L213.5,368.6 L214.2,371.5 L214.8,374.2 L215.5,376.8 L216.1,379.2 L216.8,381.4 L217.4,383.4 L218.1,385.3 L218.7,387.0 L219.4,388.5 L220.0,389.8 L220.7,391.0 L221.3,391.9 L221.9,392.7 L222.6,393.3 L223.2,393.8 L223.9,394.0 L224.5,394.0 L225.2,393.9 L225.8,393.6 L226.5,393.1 L227.1,392.4 L227.8,391.5 L228.4,390.5 L229.1,389.2 L229.7,387.8 L230.3,386.2 L231.0,384.5 L231.6,382.5 L232.3,380.4 L232.9,378.1 L233.6,375.7 L234.2,373.0 L234.9,370.2 L235.5,367.3 L236.2,364.2 L236.8,360.9 L237.5,357.5 L238.1,353.9 L238.8,350.2"/>
<path d="M109.5,300.4 L110.1,295.3 L110.8,290.0 L111.4,284.7 L112.1,279.3 L112.7,273.9 L113.4,268.3 L114.0,262.8 L114.7,257.1 L115.3,251.4 L116.0,245.7 L116.6,239.9 L117.3,234.1 L117.9,228.3 L118.5,222.4 L119.2,216.6 L119.8,210.7 L120.5,204.8 L121.1,198.9 L121.8,193.0 L122.4,187.2 L123.1,181.3 L123.7,175.5 L124.4,169.7 L125.0,164.0 L125.7,158.3 L126.3,152.6 L126.9,147.0 L127.6,141.5 L128.2,136.0 L128.9,130.6 L129.5,125.2 L130.2,120.0 L130.8,114.8 L131.5,109.7 L132.1,104.7 L132.8,99.9 L133.4,95.1 L134.1,90.4 L134.7,85.9 L135.4,81.4 L136.0,77.1 L136.6,72.9 L137.3,68.9 L137.9,65.0 L138.6,61.2 L139.2,57.6 L139.9,54.1 L140.5,50.7 L141.2,47.6 L141.8,44.5 L142.5,41.7 L143.1,39.0 L143.8,36.5 L144.4,34.1 L145.0,31.9 L145.7,29.9 L146.3,28.0 L147.0,26.3 L147.6,24.9 L148.3,23.5 L148.9,22.4 L149.6,21.5 L150.2,20.7 L150.9,20.1 L151.5,19.7 L152.2,19.5 L152.8,19.5 L153.4,19.6 L154.1,20.0 L154.7,20.5 L155.4,21.2 L156.0,22.1 L156.7,23.1 L157.3,24.4 L158.0,25.8 L158.6,27.4 L159.3,29.2 L159.9,31.2 L160.6,33.3 L161.2,35.6 L161.8,38.1 L162.5,40.8 L163.1,43.6 L163.8,46.5 L164.4,49.7 L165.1,52.9 L165.7,56.4 L166.4,60.0 L167.0,63.7 L167.7,67.6 L168.3,71.6 L169.0,75.7 L169.6,80.0 L170.2,84.4 L170.9,88.9 L171.5,93.5 L172.2,98.3 L172.8,103.1 L173.5,108.1 L174.1,113.1 L174.8,118.2 L175.4,123.5 L176.1,128.8 L176.7,134.2 L177.4,139.6 L178.0,145.2 L178.6,150.7 L179.3,156.4 L179.9,162.1 L180.6,167.8 L181.2,173.6 L181.9,179.4 L182.5,185.2 L183.2,191.1 L183.8,196.9 L184.5,202.8 L185.1,208.7 L185.8,214.6 L186.4,220.5 L187.1,226.3 L187.7,232.2 L188.3,238.0 L189.0,243.8 L189.6,249.5 L190.3,255.2 L190.9,260.9 L191.6,266.5 L192.2,272.0 L192.9,277.5 L193.5,282.9 L194.2,288.3 L194.8,293.5 L195.5,298.7 L196.1,303.8 L196.7,308.8 L197.4,313.6 L198.0,318.4 L198.7,323.1 L199.3,327.6 L200.0,332.1 L200.6,336.4 L201.3,340.6 L201.9,344.6 L202.6,348.5 L203.2,352.3 L203.9,355.9 L204.5,359.4 L205.1,362.8 L205.8,365.9 L206.4,369.0 L207.1,371.8 L207.7,374.5 L208.4,377.0 L209.0,379.4 L209.7,381.6 L210.3,383.6 L211.0,385.5 L211.6,387.2 L212.3,388.6 L212.9,390.0 L213.5,391.1 L214.2,392.0 L214.8,392.8 L215.5,393.4 L216.1,393.8 L216.8,394.0 L217.4,394.0 L218.1,393.9 L218.7,393.5 L219.4,393.0 L220.0,392.3 L220.7,391.4 L221.3,390.4 L221.9,389.1 L222.6,387.7 L223.2,386.1 L223.9,384.3 L224.5,382.3 L225.2,380.2 L225.8,377.9 L226.5,375.4 L227.1,372.7 L227.8,369.9 L228.4,367.0 L229.1,363.8 L229.7,360.6 L230.3,357.1 L231.0,353.5 L231.6,349.8 L232.3,345.9 L232.9,341.9 L233.6,337.8 L234.2,333.5 L234.9,329.1 L235.5,324.6 L236.2,320.0 L236.8,315.2 L237.5,310.4 L238.1,305.4 L238.8,300.4"/>
<path d="M109.5,239.3 L110.1,233.5 L110.8,227.6 L111.4,221.8 L112.1,215.9 L112.7,210.0 L113.4,204.1 L114.0,198.3 L114.7,192.4 L115.3,186.5 L116.0,180.7 L116.6,174.9 L117.3,169.1 L117.9,163.3 L118.5,157.6 L119.2,152.0 L119.8,146.4 L120.5,140.9 L121.1,135.4 L121.8,130.0 L122.4,124.6 L123.1,119.4 L123.7,114.2 L124.4,109.2 L125.0,104.2 L125.7,99.3 L126.3,94.6 L126.9,89.9 L127.6,85.4 L128.2,80.9 L128.9,76.6 L129.5,72.5 L130.2,68.4 L130.8,64.5 L131.5,60.8 L132.1,57.2 L132.8,53.7 L133.4,50.4 L134.1,47.2 L134.7,44.2 L135.4,41.4 L136.0,38.7 L136.6,36.2 L137.3,33.8 L137.9,31.7 L138.6,29.7 L139.2,27.8 L139.9,26.2 L140.5,24.7 L141.2,23.4 L141.8,22.3 L142.5,21.4 L143.1,20.6 L143.8,20.1 L144.4,19.7 L145.0,19.5 L145.7,19.5 L146.3,19.6 L147.0,20.0 L147.6,20.5 L148.3,21.3 L148.9,22.2 L149.6,23.3 L150.2,24.5 L150.9,26.0 L151.5,27.6 L152.2,29.4 L152.8,31.4 L153.4,33.6 L154.1,35.9 L154.7,38.4 L155.4,41.1 L156.0,43.9 L156.7,46.9 L157.3,50.0 L158.0,53.3 L158.6,56.8 L159.3,60.4 L159.9,64.1 L160.6,68.0 L161.2,72.0 L161.8,76.2 L162.5,80.5 L163.1,84.9 L163.8,89.4 L164.4,94.0 L165.1,98.8 L165.7,103.6 L166.4,108.6 L167.0,113.7 L167.7,118.8 L168.3,124.1 L169.0,129.4 L169.6,134.8 L170.2,140.2 L170.9,145.8 L171.5,151.4 L172.2,157.0 L172.8,162.7 L173.5,168.4 L174.1,174.2 L174.8,180.0 L175.4,185.9 L176.1,191.7 L176.7,197.6 L177.4,203.5 L178.0,209.4 L178.6,215.2 L179.3,221.1 L179.9,227.0 L180.6,232.8 L181.2,238.6 L181.9,244.4 L182.5,250.2 L183.2,255.9 L183.8,261.5 L184.5,267.1 L185.1,272.6 L185.8,278.1 L186.4,283.5 L187.1,288.9 L187.7,294.1 L188.3,299.3 L189.0,304.3 L189.6,309.3 L190.3,314.2 L190.9,318.9 L191.6,323.6 L192.2,328.1 L192.9,332.6 L193.5,336.9 L194.2,341.0 L194.8,345.1 L195.5,349.0 L196.1,352.7 L196.7,356.3 L197.4,359.8 L198.0,363.1 L198.7,366.3 L199.3,369.3 L200.0,372.1 L200.6,374.8 L201.3,377.3 L201.9,379.7 L202.6,381.8 L203.2,383.8 L203.9,385.7 L204.5,387.3 L205.1,388.8 L205.8,390.1 L206.4,391.2 L207.1,392.1 L207.7,392.9 L208.4,393.4 L209.0,393.8 L209.7,394.0 L210.3,394.0 L211.0,393.9 L211.6,393.5 L212.3,393.0 L212.9,392.2 L213.5,391.3 L214.2,390.2 L214.8,389.0 L215.5,387.5 L216.1,385.9 L216.8,384.1 L217.4,382.1 L218.1,379.9 L218.7,377.6 L219.4,375.1 L220.0,372.4 L220.7,369.6 L221.3,366.6 L221.9,363.5 L222.6,360.2 L223.2,356.7 L223.9,353.1 L224.5,349.4 L225.2,345.5 L225.8,341.5 L226.5,337.3 L227.1,333.0 L227.8,328.6 L228.4,324.1 L229.1,319.5 L229.7,314.7 L230.3,309.9 L231.0,304.9 L231.6,299.8 L232.3,294.7 L232.9,289.4 L233.6,284.1 L234.2,278.7 L234.9,273.3 L235.5,267.7 L236.2,262.1 L236.8,256.5 L237.5,250.8 L238.1,245.1 L238.8,239.3"/>
<path d="M109.5,174.2 L110.1,168.4 L110.8,162.7 L111.4,157.0 L112.1,151.4 L112.7,145.8 L113.4,140.2 L114.0,134.8 L114.7,129.4 L115.3,124.1 L116.0,118.8 L116.6,113.7 L117.3,108.6 L117.9,103.6 L118.5,98.8 L119.2,94.0 L119.8,89.4 L120.5,84.9 L121.1,80.5 L121.8,76.2 L122.4,72.0 L123.1,68.0 L123.7,64.1 L124.4,60.4 L125.0,56.8 L125.7,53.3 L126.3,50.0 L126.9,46.9 L127.6,43.9 L128.2,41.1 L128.9,38.4 L129.5,35.9 L130.2,33.6 L130.8,31.4 L131.5,29.4 L132.1,27.6 L132.8,26.0 L133.4,24.5 L134.1,23.3 L134.7,22.2 L135.4,21.3 L136.0,20.5 L136.6,20.0 L137.3,19.6 L137.9,19.5 L138.6,19.5 L139.2,19.7 L139.9,20.1 L140.5,20.6 L141.2,21.4 L141.8,22.3 L142.5,23.4 L143.1,24.7 L143.8,26.2 L144.4,27.8 L145.0,29.7 L145.7,31.7 L146.3,33.8 L147.0,36.2 L147.6,38.7 L148.3,41.4 L148.9,44.2 L149.6,47.2 L150.2,50.4 L150.9,53.7 L151.5,57.2 L152.2,60.8 L152.8,64.5 L153.4,68.4 L154.1,72.5 L154.7,76.6 L155.4,80.9 L156.0,85.4 L156.7,89.9 L157.3,94.6 L158.0,99.3 L158.6,104.2 L159.3,109.2 L159.9,114.2 L160.6,119.4 L161.2,124.6 L161.8,130.0 L162.5,135.4 L163.1,140.9 L163.8,146.4 L164.4,152.0 L165.1,157.6 L165.7,163.3 L166.4,169.1 L167.0,174.9 L167.7,180.7 L168.3,186.5 L169.0,192.4 L169.6,198.3 L170.2,204.1 L170.9,210.0 L171.5,215.9 L172.2,221.8 L172.8,227.6 L173.5,233.5 L174.1,239.3 L174.8,245.1 L175.4,250.8 L176.1,256.5 L176.7,262.1 L177.4,267.7 L178.0,273.3 L178.6,278.7 L179.3,284.1 L179.9,289.4 L180.6,294.7 L181.2,299.8 L181.9,304.9 L182.5,309.9 L183.2,314.7 L183.8,319.5 L184.5,324.1 L185.1,328.6 L185.8,333.0 L186.4,337.3 L187.1,341.5 L187.7,345.5 L188.3,349.4 L189.0,353.1 L189.6,356.7 L190.3,360.2 L190.9,363.5 L191.6,366.6 L192.2,369.6 L192.9,372.4 L193.5,375.1 L194.2,377.6 L194.8,379.9 L195.5,382.1 L196.1,384.1 L196.7,385.9 L197.4,387.5 L198.0,389.0 L198.7,390.2 L199.3,391.3 L200.0,392.2 L200.6,393.0 L201.3,393.5 L201.9,393.9 L202.6,394.0 L203.2,394.0 L203.9,393.8 L204.5,393.4 L205.1,392.9 L205.8,392.1 L206.4,391.2 L207.1,390.1 L207.7,388.8 L208.4,387.3 L209.0,385.7 L209.7,383.8 L210.3,381.8 L211.0,379.7 L211.6,377.3 L212.3,374.8 L212.9,372.1 L213.5,369.3 L214.2,366.3 L214.8,363.1 L215.5,359.8 L216.1,356.3 L216.8,352.7 L217.4,349.0 L218.1,345.1 L218.7,341.0 L219.4,336.9 L220.0,332.6 L220.7,328.1 L221.3,323.6 L221.9,318.9 L222.6,314.2 L223.2,309.3 L223.9,304.3 L224.5,299.3 L225.2,294.1 L225.8,288.9 L226.5,283.5 L227.1,278.1 L227.8,272.6 L228.4,267.1 L229.1,261.5 L229.7,255.9 L230.3,250.2 L231.0,244.4 L231.6,238.6 L232.3,232.8 L232.9,227.0 L233.6,221.1 L234.2,215.2 L234.9,209.4 L235.5,203.5 L236.2,197.6 L236.8,191.7 L237.5,185.9 L238.1,180.0 L238.8,174.2"/>
<path d="M109.5,113.1 L110.1,108.1 L110.8,103.1 L111.4,98.3 L112.1,93.5 L112.7,88.9 L113.4,84.4 L114.0,80.0 L114.7,75.7 L115.3,71.6 L116.0,67.6 L116.6,63.7 L117.3,60.0 L117.9,56.4 L118.5,52.9 L119.2,49.7 L119.8,46.5 L120.5,43.6 L121.1,40.8 L121.8,38.1 L122.4,35.6 L123.1,33.3 L123.7,31.2 L124.4,29.2 L125.0,27.4 L125.7,25.8 L126.3,24.4 L126.9,23.1 L127.6,22.1 L128.2,21.2 L128.9,20.5 L129.5,20.0 L130.2,19.6 L130.8,19.5 L131.5,19.5 L132.1,19.7 L132.8,20.1 L133.4,20.7 L134.1,21.5 L134.7,22.4 L135.4,23.5 L136.0,24.9 L136.6,26.3 L137.3,28.0 L137.9,29.9 L138.6,31.9 L139.2,34.1 L139.9,36.5 L140.5,39.0 L141.2,41.7 L141.8,44.5 L142.5,47.6 L143.1,50.7 L143.8,54.1 L144.4,57.6 L145.0,61.2 L145.7,65.0 L146.3,68.9 L147.0,72.9 L147.6,77.1 L148.3,81.4 L148.9,85.9 L149.6,90.4 L150.2,95.1 L150.9,99.9 L151.5,104.7 L152.2,109.7 L152.8,114.8 L153.4,120.0 L154.1,125.2 L154.7,130.6 L155.4,136.0 L156.0,141.5 L156.7,147.0 L157.3,152.6 L158.0,158.3 L158.6,164.0 L159.3,169.7 L159.9,175.5 L160.6,181.3 L161.2,187.2 L161.8,193.0 L162.5,198.9 L163.1,204.8 L163.8,210.7 L164.4,216.6 L165.1,222.4 L165.7,228.3 L166.4,234.1 L167.0,239.9 L167.7,245.7 L168.3,251.4 L169.0,257.1 L169.6,262.8 L170.2,268.3 L170.9,273.9 L171.5,279.3 L172.2,284.7 L172.8,290.0 L173.5,295.3 L174.1,300.4 L174.8,305.4 L175.4,310.4 L176.1,315.2 L176.7,320.0 L177.4,324.6 L178.0,329.1 L178.6,333.5 L179.3,337.8 L179.9,341.9 L180.6,345.9 L181.2,349.8 L181.9,353.5 L182.5,357.1 L183.2,360.6 L183.8,363.8 L184.5,367.0 L185.1,369.9 L185.8,372.7 L186.4,375.4 L187.1,377.9 L187.7,380.2 L188.3,382.3 L189.0,384.3 L189.6,386.1 L190.3,387.7 L190.9,389.1 L191.6,390.4 L192.2,391.4 L192.9,392.3 L193.5,393.0 L194.2,393.5 L194.8,393.9 L195.5,394.0 L196.1,394.0 L196.7,393.8 L197.4,393.4 L198.0,392.8 L198.7,392.0 L199.3,391.1 L200.0,390.0 L200.6,388.6 L201.3,387.2 L201.9,385.5 L202.6,383.6 L203.2,381.6 L203.9,379.4 L204.5,377.0 L205.1,374.5 L205.8,371.8 L206.4,369.0 L207.1,365.9 L207.7,362.8 L208.4,359.4 L209.0,355.9 L209.7,352.3 L210.3,348.5 L211.0,344.6 L211.6,340.6 L212.3,336.4 L212.9,332.1 L213.5,327.6 L214.2,323.1 L214.8,318.4 L215.5,313.6 L216.1,308.8 L216.8,303.8 L217.4,298.7 L218.1,293.5 L218.7,288.3 L219.4,282.9 L220.0,277.5 L220.7,272.0 L221.3,266.5 L221.9,260.9 L222.6,255.2 L223.2,249.5 L223.9,243.8 L224.5,238.0 L225.2,232.2 L225.8,226.3 L226.5,220.5 L227.1,214.6 L227.8,208.7 L228.4,202.8 L229.1,196.9 L229.7,191.1 L230.3,185.2 L231.0,179.4 L231.6,173.6 L232.3,167.8 L232.9,162.1 L233.6,156.4 L234.2,150.7 L234.9,145.2 L235.5,139.6 L236.2,134.2 L236.8,128.8 L237.5,123.5 L238.1,118.2 L238.8,113.1"/>
<path d="M109.5,63.3 L110.1,59.6 L110.8,56.0 L111.4,52.6 L112.1,49.3 L112.7,46.2 L113.4,43.3 L114.0,40.5 L114.7,37.8 L115.3,35.4 L116.0,33.1 L116.6,31.0 L117.3,29.0 L117.9,27.3 L118.5,25.7 L119.2,24.3 L119.8,23.0 L120.5,22.0 L121.1,21.1 L121.8,20.4 L122.4,19.9 L123.1,19.6 L123.7,19.5 L124.4,19.5 L125.0,19.7 L125.7,20.2 L126.3,20.8 L126.9,21.6 L127.6,22.5 L128.2,23.7 L128.9,25.0 L129.5,26.5 L130.2,28.2 L130.8,30.1 L131.5,32.1 L132.1,34.3 L132.8,36.7 L133.4,39.3 L134.1,42.0 L134.7,44.9 L135.4,47.9 L136.0,51.1 L136.6,54.5 L137.3,58.0 L137.9,61.6 L138.6,65.4 L139.2,69.3 L139.9,73.4 L140.5,77.6 L141.2,81.9 L141.8,86.4 L142.5,90.9 L143.1,95.6 L143.8,100.4 L144.4,105.3 L145.0,110.3 L145.7,115.4 L146.3,120.6 L147.0,125.8 L147.6,131.2 L148.3,136.6 L148.9,142.1 L149.6,147.6 L150.2,153.2 L150.9,158.9 L151.5,164.6 L152.2,170.4 L152.8,176.2 L153.4,182.0 L154.1,187.8 L154.7,193.7 L155.4,199.6 L156.0,205.4 L156.7,211.3 L157.3,217.2 L158.0,223.1 L158.6,228.9 L159.3,234.8 L159.9,240.6 L160.6,246.3 L161.2,252.1 L161.8,257.7 L162.5,263.4 L163.1,269.0 L163.8,274.5 L164.4,279.9 L165.1,285.3 L165.7,290.6 L166.4,295.8 L167.0,301.0 L167.7,306.0 L168.3,310.9 L169.0,315.8 L169.6,320.5 L170.2,325.1 L170.9,329.6 L171.5,334.0 L172.2,338.3 L172.8,342.4 L173.5,346.4 L174.1,350.2 L174.8,353.9 L175.4,357.5 L176.1,360.9 L176.7,364.2 L177.4,367.3 L178.0,370.2 L178.6,373.0 L179.3,375.7 L179.9,378.1 L180.6,380.4 L181.2,382.5 L181.9,384.5 L182.5,386.2 L183.2,387.8 L183.8,389.2 L184.5,390.5 L185.1,391.5 L185.8,392.4 L186.4,393.1 L187.1,393.6 L187.7,393.9 L188.3,394.0 L189.0,394.0 L189.6,393.8 L190.3,393.3 L190.9,392.7 L191.6,391.9 L192.2,391.0 L192.9,389.8 L193.5,388.5 L194.2,387.0 L194.8,385.3 L195.5,383.4 L196.1,381.4 L196.7,379.2 L197.4,376.8 L198.0,374.2 L198.7,371.5 L199.3,368.6 L200.0,365.6 L200.6,362.4 L201.3,359.0 L201.9,355.5 L202.6,351.9 L203.2,348.1 L203.9,344.2 L204.5,340.1 L205.1,335.9 L205.8,331.6 L206.4,327.1 L207.1,322.6 L207.7,317.9 L208.4,313.1 L209.0,308.2 L209.7,303.2 L210.3,298.1 L211.0,292.9 L211.6,287.7 L212.3,282.3 L212.9,276.9 L213.5,271.4 L214.2,265.9 L214.8,260.3 L215.5,254.6 L216.1,248.9 L216.8,243.1 L217.4,237.3 L218.1,231.5 L218.7,225.7 L219.4,219.8 L220.0,213.9 L220.7,208.1 L221.3,202.2 L221.9,196.3 L222.6,190.4 L223.2,184.6 L223.9,178.7 L224.5,172.9 L225.2,167.2 L225.8,161.4 L226.5,155.8 L227.1,150.1 L227.8,144.5 L228.4,139.0 L229.1,133.6 L229.7,128.2 L230.3,122.9 L231.0,117.7 L231.6,112.5 L232.3,107.5 L232.9,102.6 L233.6,97.7 L234.2,93.0 L234.9,88.4 L235.5,83.9 L236.2,79.5 L236.8,75.2 L237.5,71.1 L238.1,67.1 L238.8,63.3"/>
<path d="M109.5,30.7 L110.1,28.8 L110.8,27.1 L111.4,25.5 L112.1,24.1 L112.7,22.9 L113.4,21.9 L114.0,21.0 L114.7,20.3 L115.3,19.9 L116.0,19.6 L116.6,19.5 L117.3,19.5 L117.9,19.8 L118.5,20.2 L119.2,20.8 L119.8,21.7 L120.5,22.6 L121.1,23.8 L121.8,25.2 L122.4,26.7 L123.1,28.4 L123.7,30.3 L124.4,32.4 L125.0,34.6 L125.7,37.0 L126.3,39.6 L126.9,42.3 L127.6,45.2 L128.2,48.3 L128.9,51.5 L129.5,54.8 L130.2,58.4 L130.8,62.0 L131.5,65.8 L132.1,69.8 L132.8,73.8 L133.4,78.1 L134.1,82.4 L134.7,86.9 L135.4,91.4 L136.0,96.1 L136.6,100.9 L137.3,105.8 L137.9,110.8 L138.6,115.9 L139.2,121.1 L139.9,126.4 L140.5,131.8 L141.2,137.2 L141.8,142.7 L142.5,148.2 L143.1,153.9 L143.8,159.5 L144.4,165.3 L145.0,171.0 L145.7,176.8 L146.3,182.6 L147.0,188.5 L147.6,194.3 L148.3,200.2 L148.9,206.1 L149.6,212.0 L150.2,217.9 L150.9,223.7 L151.5,229.6 L152.2,235.4 L152.8,241.2 L153.4,247.0 L154.1,252.7 L154.7,258.4 L155.4,264.0 L156.0,269.6 L156.7,275.1 L157.3,280.5 L158.0,285.9 L158.6,291.2 L159.3,296.4 L159.9,301.5 L160.6,306.6 L161.2,311.5 L161.8,316.3 L162.5,321.0 L163.1,325.6 L163.8,330.1 L164.4,334.5 L165.1,338.7 L165.7,342.8 L166.4,346.8 L167.0,350.6 L167.7,354.3 L168.3,357.9 L169.0,361.3 L169.6,364.5 L170.2,367.6 L170.9,370.6 L171.5,373.3 L172.2,375.9 L172.8,378.4 L173.5,380.7 L174.1,382.8 L174.8,384.7 L175.4,386.4 L176.1,388.0 L176.7,389.4 L177.4,390.6 L178.0,391.6 L178.6,392.5 L179.3,393.2 L179.9,393.6 L180.6,393.9 L181.2,394.0 L181.9,394.0 L182.5,393.7 L183.2,393.3 L183.8,392.7 L184.5,391.8 L185.1,390.9 L185.8,389.7 L186.4,388.3 L187.1,386.8 L187.7,385.1 L188.3,383.2 L189.0,381.1 L189.6,378.9 L190.3,376.5 L190.9,373.9 L191.6,371.2 L192.2,368.3 L192.9,365.2 L193.5,362.0 L194.2,358.7 L194.8,355.1 L195.5,351.5 L196.1,347.7 L196.7,343.7 L197.4,339.7 L198.0,335.4 L198.7,331.1 L199.3,326.6 L200.0,322.1 L200.6,317.4 L201.3,312.6 L201.9,307.7 L202.6,302.7 L203.2,297.6 L203.9,292.4 L204.5,287.1 L205.1,281.7 L205.8,276.3 L206.4,270.8 L207.1,265.3 L207.7,259.6 L208.4,254.0 L209.0,248.2 L209.7,242.5 L210.3,236.7 L211.0,230.9 L211.6,225.0 L212.3,219.2 L212.9,213.3 L213.5,207.4 L214.2,201.5 L214.8,195.6 L215.5,189.8 L216.1,183.9 L216.8,178.1 L217.4,172.3 L218.1,166.5 L218.7,160.8 L219.4,155.1 L220.0,149.5 L220.7,143.9 L221.3,138.4 L221.9,133.0 L222.6,127.6 L223.2,122.3 L223.9,117.1 L224.5,112.0 L225.2,106.9 L225.8,102.0 L226.5,97.2 L227.1,92.5 L227.8,87.9 L228.4,83.4 L229.1,79.0 L229.7,74.8 L230.3,70.7 L231.0,66.7 L231.6,62.9 L232.3,59.2 L232.9,55.6 L233.6,52.2 L234.2,49.0 L234.9,45.9 L235.5,42.9 L236.2,40.2 L236.8,37.6 L237.5,35.1 L238.1,32.8 L238.8,30.7"/>
</g>
<use href="#cv" transform="translate(1.6,0)"/>
<g class="cv c2" id="cw">
<path d="M238.8,19.4 L239.5,37.1 L240.2,54.2 L240.9,70.7 L241.6,86.7 L242.3,102.1 L243.1,116.9 L243.8,130.8 L244.5,143.9 L245.2,155.9 L245.9,166.1 L246.6,169.1 L247.4,168.9 L248.1,168.6 L248.8,168.4 L249.5,168.3 L250.2,168.2 L251.0,168.1 L251.7,168.1 L252.4,168.2 L253.1,168.3 L253.8,168.5 L254.5,168.8 L255.3,169.0 L256.0,169.4 L256.7,169.8 L257.4,170.2 L258.1,170.7 L258.9,171.3 L259.6,171.8 L260.3,172.5 L261.0,173.2 L261.7,173.9 L262.4,174.6 L263.2,175.4 L263.9,176.2 L264.6,177.1 L265.3,177.9 L266.0,178.8 L266.8,179.7 L267.5,180.6 L268.2,181.6 L268.9,182.5 L269.6,183.5 L270.3,184.4 L271.1,185.4 L271.8,186.3 L272.5,187.2 L273.2,188.2 L273.9,189.1 L274.7,190.0 L275.4,190.8 L276.1,191.7 L276.8,192.5 L277.5,193.3 L278.2,194.0 L279.0,194.7 L279.7,195.4 L280.4,196.1 L281.1,196.7 L281.8,197.3 L282.6,197.8 L283.3,198.3 L284.0,198.8 L284.7,199.2 L285.4,199.5 L286.1,199.9 L286.9,200.2 L287.6,200.4 L288.3,200.6 L289.0,200.8 L289.7,200.9 L290.4,201.0 L291.2,201.1 L291.9,201.2 L292.6,201.2 L293.3,201.2 L294.0,201.1 L294.8,201.1 L295.5,201.0 L296.2,200.9 L296.9,200.9 L297.6,200.8 L298.3,200.6 L299.1,200.5 L299.8,200.4 L300.5,200.3 L301.2,200.2 L301.9,200.2 L302.7,200.1 L303.4,200.0 L304.1,200.0 L304.8,200.0 L305.5,200.0 L306.2,200.0 L307.0,200.1 L307.7,200.2 L308.4,200.3 L309.1,200.5 L309.8,200.7 L310.6,200.9 L311.3,201.2 L312.0,201.5 L312.7,201.8 L313.4,202.2 L314.1,202.7 L314.9,203.1 L315.6,203.7 L316.3,204.2 L317.0,204.8 L317.7,205.4 L318.5,206.1 L319.2,206.8 L319.9,207.5 L320.6,208.3 L321.3,209.1 L322.0,209.9 L322.8,210.7 L323.5,211.6 L324.2,212.5 L324.9,213.3 L325.6,214.3 L326.4,215.2 L327.1,216.1 L327.8,217.0 L328.5,217.9 L329.2,218.9 L329.9,219.8 L330.7,220.7 L331.4,221.6 L332.1,222.5 L332.8,223.3 L333.5,224.2 L334.3,225.0 L335.0,225.8 L335.7,226.5 L336.4,227.3 L337.1,227.9 L337.8,228.6 L338.6,229.1 L339.3,229.7 L340.0,230.1 L340.7,230.6 L341.4,230.9 L342.1,231.2 L342.9,231.5 L343.6,231.7 L344.3,231.8 L345.0,231.9 L345.7,232.0 L346.5,232.0 L347.2,231.9 L347.9,231.8 L348.6,231.7 L349.3,231.5 L350.0,231.3 L350.8,231.1 L351.5,230.8 L352.2,230.6 L352.9,230.2 L353.6,229.9 L354.4,229.6 L355.1,229.2 L355.8,228.9 L356.5,228.5 L357.2,228.1 L357.9,227.6 L358.7,227.2 L359.4,226.7 L360.1,226.3 L360.8,225.8 L361.5,225.4 L362.3,225.0 L363.0,224.5 L363.7,224.1 L364.4,223.7 L365.1,223.3 L365.8,223.0 L366.6,222.6 L367.3,222.3 L368.0,222.0 L368.7,221.7 L369.4,221.4 L370.2,221.1 L370.9,220.8 L371.6,220.5 L372.3,220.3 L373.0,220.0 L373.7,219.8 L374.5,219.5 L375.2,219.3 L375.9,219.1 L376.6,218.9 L377.3,218.8 L378.1,218.6 L378.8,218.5 L379.5,218.4 L380.2,218.3 L380.9,218.2 L381.6,218.2 L382.4,218.1 L383.1,218.0 L383.8,218.0 L384.5,217.9 L385.2,217.9 L386.0,217.8 L386.7,217.7 L387.4,217.7 L388.1,217.6 L388.8,217.5 L389.5,217.4 L390.3,217.4 L391.0,217.3 L391.7,217.2 L392.4,217.1 L393.1,217.0 L393.9,216.9 L394.6,216.9 L395.3,216.8 L396.0,216.7 L396.7,216.6 L397.4,216.5 L398.2,216.4 L398.9,216.3 L399.6,216.2 L400.3,216.1 L401.0,216.0 L401.7,215.9 L402.5,215.8 L403.2,215.7 L403.9,215.7 L404.6,215.6 L405.3,215.5 L406.1,215.4 L406.8,215.3 L407.5,215.1 L408.2,215.0 L408.9,214.9 L409.6,214.8 L410.4,214.7 L411.1,214.6 L411.8,214.5 L412.5,214.3 L413.2,214.2 L414.0,214.1 L414.7,214.0 L415.4,213.8 L416.1,213.7 L416.8,213.6 L417.5,213.4 L418.3,213.3 L419.0,213.2 L419.7,213.0 L420.4,212.9 L421.1,212.8 L421.9,212.6 L422.6,212.5 L423.3,212.3 L424.0,212.2 L424.7,212.0 L425.4,211.9 L426.2,211.7 L426.9,211.6 L427.6,211.4 L428.3,211.3 L429.0,211.1 L429.8,211.0 L430.5,210.8 L431.2,210.7 L431.9,210.5 L432.6,210.3 L433.3,210.2 L434.1,210.0 L434.8,209.8 L435.5,209.7 L436.2,209.5 L436.9,209.3 L437.7,209.1 L438.4,209.0 L439.1,208.8 L439.8,208.6 L440.5,208.4 L441.2,208.3 L442.0,208.1 L442.7,208.0 L443.4,207.8 L444.1,207.7 L444.8,207.5 L445.6,207.4 L446.3,207.3 L447.0,207.2 L447.7,207.0 L448.4,206.9 L449.1,206.8 L449.9,206.7 L450.6,206.6 L451.3,206.5 L452.0,206.4 L452.7,206.3 L453.4,206.2 L454.2,206.1 L454.9,206.1 L455.6,206.0 L456.3,205.9 L457.0,205.8 L457.8,205.8 L458.5,205.7 L459.2,205.6 L459.9,205.6 L460.6,205.5 L461.3,205.5 L462.1,205.4 L462.8,205.4 L463.5,205.3 L464.2,205.3 L464.9,205.3 L465.7,205.2 L466.4,205.2 L467.1,205.1 L467.8,205.1 L468.5,205.1 L469.2,205.0 L470.0,205.0 L470.7,204.9 L471.4,204.9 L472.1,204.8 L472.8,204.8 L473.6,204.8 L474.3,204.7 L475.0,204.7 L475.7,204.6 L476.4,204.6 L477.1,204.5 L477.9,204.5 L478.6,204.4 L479.3,204.4 L480.0,204.3 L480.7,204.3 L481.5,204.3 L482.2,204.2 L482.9,204.2 L483.6,204.1 L484.3,204.1 L485.0,204.1 L485.8,204.0 L486.5,204.0 L487.2,203.9 L487.9,203.9 L488.6,203.9 L489.4,203.8 L490.1,203.8 L490.8,203.8 L491.5,203.7 L492.2,203.7 L492.9,203.6 L493.7,203.5 L494.4,203.5 L495.1,203.4 L495.8,203.3 L496.5,203.2 L497.2,203.1 L498.0,203.0 L498.7,202.9 L499.4,202.8 L500.1,202.7 L500.8,202.6 L501.6,202.5 L502.3,202.4 L503.0,202.3 L503.7,202.2 L504.4,202.1 L505.1,202.0 L505.9,201.8 L506.6,201.7 L507.3,201.6 L508.0,201.4 L508.7,201.3 L509.5,201.2 L510.2,201.0 L510.9,200.9 L511.6,200.7 L512.3,200.6 L513.0,200.5 L513.8,200.4 L514.5,200.3 L515.2,200.2 L515.9,200.1 L516.6,200.0 L517.4,200.0 L518.1,199.9 L518.8,199.9 L519.5,199.8 L520.2,199.7 L520.9,199.7 L521.7,199.7 L522.4,199.6 L523.1,199.6 L523.8,199.6 L524.5,199.5 L525.3,199.5 L526.0,199.5 L526.7,199.5 L527.4,199.5 L528.1,199.5 L528.8,199.5 L529.6,199.5 L530.3,199.5 L531.0,199.5 L531.7,199.5 L532.4,199.6 L533.2,199.6 L533.9,199.6 L534.6,199.7 L535.3,199.8 L536.0,199.8 L536.7,199.9 L537.5,200.0 L538.2,200.1 L538.9,200.2 L539.6,200.3 L540.3,200.4 L541.1,200.5 L541.8,200.6 L542.5,200.7 L543.2,200.8 L543.9,200.9 L544.6,201.0 L545.4,201.1 L546.1,201.2 L546.8,201.4 L547.5,201.5 L548.2,201.6 L549.0,201.7 L549.7,201.8 L550.4,201.9 L551.1,202.1 L551.8,202.2 L552.5,202.3 L553.3,202.4 L554.0,202.6 L554.7,202.7 L555.4,202.8 L556.1,203.0 L556.8,203.1 L557.6,203.2 L558.3,203.4 L559.0,203.5 L559.7,203.6 L560.4,203.7 L561.2,203.8 L561.9,203.9 L562.6,204.0 L563.3,204.1 L564.0,204.2 L564.7,204.3 L565.5,204.3 L566.2,204.4 L566.9,204.5 L567.6,204.6 L568.3,204.7 L569.1,204.8 L569.8,204.8 L570.5,204.9 L571.2,205.0 L571.9,205.1 L572.6,205.2 L573.4,205.2 L574.1,205.3 L574.8,205.4 L575.5,205.4 L576.2,205.5 L577.0,205.6 L577.7,205.7 L578.4,205.7 L579.1,205.8 L579.8,205.9 L580.5,205.9 L581.3,206.0 L582.0,206.1 L582.7,206.1 L583.4,206.2 L584.1,206.2 L584.9,206.3 L585.6,206.4 L586.3,206.4 L587.0,206.5 L587.7,206.6 L588.4,206.6 L589.2,206.7 L589.9,206.7 L590.6,206.8 L591.3,206.9 L592.0,206.9 L592.8,207.0 L593.5,207.0 L594.2,207.1 L594.9,207.2 L595.6,207.2 L596.3,207.3 L597.1,207.3 L597.8,207.4 L598.5,207.5 L599.2,207.5 L599.9,207.6 L600.7,207.6 L601.4,207.7 L602.1,207.7 L602.8,207.8 L603.5,207.9 L604.2,207.9 L605.0,208.0 L605.7,208.0 L606.4,208.1 L607.1,208.1 L607.8,208.2 L608.5,208.2 L609.3,208.3 L610.0,208.3 L610.7,208.4 L611.4,208.4 L612.1,208.5 L612.9,208.5 L613.6,208.6 L614.3,208.6 L615.0,208.7 L615.7,208.7 L616.4,208.8 L617.2,208.8 L617.9,208.9 L618.6,208.9 L619.3,208.9 L620.0,209.0 L620.8,209.0 L621.5,209.1 L622.2,209.1 L622.9,209.2 L623.6,209.2 L624.3,209.2 L625.1,209.3 L625.8,209.3 L626.5,209.3"/>
<path d="M238.8,30.7 L239.5,45.1 L240.2,59.4 L240.9,73.6 L241.6,87.6 L242.3,101.3 L243.1,114.7 L243.8,127.7 L244.5,140.1 L245.2,151.6 L245.9,161.7 L246.6,165.1 L247.4,165.5 L248.1,166.0 L248.8,166.7 L249.5,167.4 L250.2,168.1 L251.0,168.9 L251.7,169.8 L252.4,170.6 L253.1,171.6 L253.8,172.5 L254.5,173.4 L255.3,174.4 L256.0,175.4 L256.7,176.4 L257.4,177.4 L258.1,178.4 L258.9,179.4 L259.6,180.4 L260.3,181.5 L261.0,182.5 L261.7,183.5 L262.4,184.6 L263.2,185.6 L263.9,186.7 L264.6,187.7 L265.3,188.7 L266.0,189.8 L266.8,190.8 L267.5,191.8 L268.2,192.8 L268.9,193.8 L269.6,194.8 L270.3,195.7 L271.1,196.7 L271.8,197.6 L272.5,198.5 L273.2,199.3 L273.9,200.2 L274.7,201.0 L275.4,201.8 L276.1,202.5 L276.8,203.2 L277.5,203.9 L278.2,204.5 L279.0,205.1 L279.7,205.7 L280.4,206.2 L281.1,206.6 L281.8,207.1 L282.6,207.5 L283.3,207.8 L284.0,208.1 L284.7,208.4 L285.4,208.6 L286.1,208.8 L286.9,208.9 L287.6,209.0 L288.3,209.1 L289.0,209.2 L289.7,209.2 L290.4,209.2 L291.2,209.2 L291.9,209.1 L292.6,209.1 L293.3,209.0 L294.0,208.9 L294.8,208.8 L295.5,208.7 L296.2,208.6 L296.9,208.5 L297.6,208.4 L298.3,208.3 L299.1,208.2 L299.8,208.1 L300.5,208.1 L301.2,208.1 L301.9,208.1 L302.7,208.1 L303.4,208.1 L304.1,208.2 L304.8,208.3 L305.5,208.4 L306.2,208.6 L307.0,208.8 L307.7,209.0 L308.4,209.3 L309.1,209.6 L309.8,209.9 L310.6,210.3 L311.3,210.7 L312.0,211.2 L312.7,211.7 L313.4,212.2 L314.1,212.8 L314.9,213.4 L315.6,214.0 L316.3,214.7 L317.0,215.4 L317.7,216.1 L318.5,216.9 L319.2,217.7 L319.9,218.5 L320.6,219.3 L321.3,220.1 L322.0,221.0 L322.8,221.8 L323.5,222.7 L324.2,223.5 L324.9,224.4 L325.6,225.3 L326.4,226.1 L327.1,227.0 L327.8,227.8 L328.5,228.6 L329.2,229.4 L329.9,230.2 L330.7,231.0 L331.4,231.7 L332.1,232.4 L332.8,233.0 L333.5,233.7 L334.3,234.2 L335.0,234.8 L335.7,235.3 L336.4,235.8 L337.1,236.2 L337.8,236.5 L338.6,236.8 L339.3,237.0 L340.0,237.2 L340.7,237.3 L341.4,237.3 L342.1,237.3 L342.9,237.2 L343.6,237.1 L344.3,237.0 L345.0,236.7 L345.7,236.5 L346.5,236.2 L347.2,235.8 L347.9,235.5 L348.6,235.1 L349.3,234.6 L350.0,234.2 L350.8,233.7 L351.5,233.2 L352.2,232.7 L352.9,232.2 L353.6,231.7 L354.4,231.1 L355.1,230.6 L355.8,230.1 L356.5,229.6 L357.2,229.0 L357.9,228.4 L358.7,227.9 L359.4,227.3 L360.1,226.8 L360.8,226.3 L361.5,225.7 L362.3,225.2 L363.0,224.7 L363.7,224.3 L364.4,223.8 L365.1,223.4 L365.8,223.0 L366.6,222.6 L367.3,222.2 L368.0,221.9 L368.7,221.6 L369.4,221.2 L370.2,220.9 L370.9,220.6 L371.6,220.3 L372.3,220.0 L373.0,219.8 L373.7,219.5 L374.5,219.2 L375.2,219.0 L375.9,218.8 L376.6,218.6 L377.3,218.4 L378.1,218.2 L378.8,218.0 L379.5,217.9 L380.2,217.7 L380.9,217.6 L381.6,217.5 L382.4,217.4 L383.1,217.3 L383.8,217.2 L384.5,217.1 L385.2,217.0 L386.0,216.8 L386.7,216.7 L387.4,216.6 L388.1,216.4 L388.8,216.3 L389.5,216.2 L390.3,216.0 L391.0,215.8 L391.7,215.7 L392.4,215.5 L393.1,215.4 L393.9,215.2 L394.6,215.1 L395.3,214.9 L396.0,214.8 L396.7,214.6 L397.4,214.5 L398.2,214.3 L398.9,214.2 L399.6,214.1 L400.3,213.9 L401.0,213.8 L401.7,213.6 L402.5,213.5 L403.2,213.4 L403.9,213.2 L404.6,213.1 L405.3,213.0 L406.1,212.8 L406.8,212.7 L407.5,212.5 L408.2,212.4 L408.9,212.2 L409.6,212.1 L410.4,211.9 L411.1,211.8 L411.8,211.6 L412.5,211.5 L413.2,211.3 L414.0,211.2 L414.7,211.0 L415.4,210.9 L416.1,210.7 L416.8,210.6 L417.5,210.4 L418.3,210.2 L419.0,210.1 L419.7,209.9 L420.4,209.8 L421.1,209.6 L421.9,209.4 L422.6,209.3 L423.3,209.1 L424.0,209.0 L424.7,208.8 L425.4,208.6 L426.2,208.5 L426.9,208.3 L427.6,208.1 L428.3,208.0 L429.0,207.8 L429.8,207.7 L430.5,207.5 L431.2,207.3 L431.9,207.2 L432.6,207.0 L433.3,206.9 L434.1,206.7 L434.8,206.6 L435.5,206.4 L436.2,206.3 L436.9,206.1 L437.7,206.0 L438.4,205.9 L439.1,205.7 L439.8,205.6 L440.5,205.5 L441.2,205.4 L442.0,205.3 L442.7,205.2 L443.4,205.1 L444.1,205.0 L444.8,204.9 L445.6,204.8 L446.3,204.7 L447.0,204.7 L447.7,204.6 L448.4,204.5 L449.1,204.5 L449.9,204.4 L450.6,204.4 L451.3,204.3 L452.0,204.3 L452.7,204.2 L453.4,204.2 L454.2,204.2 L454.9,204.1 L455.6,204.1 L456.3,204.1 L457.0,204.1 L457.8,204.0 L458.5,204.0 L459.2,204.0 L459.9,204.0 L460.6,204.0 L461.3,203.9 L462.1,203.9 L462.8,203.9 L463.5,203.9 L464.2,203.9 L464.9,203.9 L465.7,203.9 L466.4,203.9 L467.1,203.9 L467.8,203.9 L468.5,203.9 L469.2,203.9 L470.0,203.9 L470.7,203.9 L471.4,203.8 L472.1,203.8 L472.8,203.8 L473.6,203.7 L474.3,203.7 L475.0,203.7 L475.7,203.6 L476.4,203.6 L477.1,203.6 L477.9,203.6 L478.6,203.5 L479.3,203.5 L480.0,203.5 L480.7,203.5 L481.5,203.4 L482.2,203.4 L482.9,203.4 L483.6,203.4 L484.3,203.3 L485.0,203.3 L485.8,203.3 L486.5,203.3 L487.2,203.3 L487.9,203.2 L488.6,203.2 L489.4,203.2 L490.1,203.2 L490.8,203.2 L491.5,203.1 L492.2,203.1 L492.9,203.1 L493.7,203.0 L494.4,203.0 L495.1,202.9 L495.8,202.8 L496.5,202.7 L497.2,202.7 L498.0,202.6 L498.7,202.5 L499.4,202.4 L500.1,202.3 L500.8,202.2 L501.6,202.1 L502.3,202.0 L503.0,202.0 L503.7,201.9 L504.4,201.8 L505.1,201.7 L505.9,201.6 L506.6,201.5 L507.3,201.4 L508.0,201.3 L508.7,201.2 L509.5,201.1 L510.2,200.9 L510.9,200.8 L511.6,200.7 L512.3,200.6 L513.0,200.5 L513.8,200.5 L514.5,200.4 L515.2,200.3 L515.9,200.3 L516.6,200.3 L517.4,200.3 L518.1,200.2 L518.8,200.2 L519.5,200.2 L520.2,200.2 L520.9,200.2 L521.7,200.2 L522.4,200.2 L523.1,200.2 L523.8,200.2 L524.5,200.2 L525.3,200.2 L526.0,200.3 L526.7,200.3 L527.4,200.3 L528.1,200.4 L528.8,200.4 L529.6,200.5 L530.3,200.5 L531.0,200.6 L531.7,200.6 L532.4,200.7 L533.2,200.8 L533.9,200.9 L534.6,201.0 L535.3,201.1 L536.0,201.2 L536.7,201.3 L537.5,201.4 L538.2,201.5 L538.9,201.6 L539.6,201.7 L540.3,201.8 L541.1,202.0 L541.8,202.1 L542.5,202.2 L543.2,202.3 L543.9,202.5 L544.6,202.6 L545.4,202.7 L546.1,202.8 L546.8,203.0 L547.5,203.1 L548.2,203.2 L549.0,203.3 L549.7,203.4 L550.4,203.6 L551.1,203.7 L551.8,203.8 L552.5,203.9 L553.3,204.1 L554.0,204.2 L554.7,204.3 L555.4,204.4 L556.1,204.6 L556.8,204.7 L557.6,204.8 L558.3,204.9 L559.0,205.0 L559.7,205.1 L560.4,205.2 L561.2,205.3 L561.9,205.4 L562.6,205.5 L563.3,205.6 L564.0,205.7 L564.7,205.8 L565.5,205.8 L566.2,205.9 L566.9,206.0 L567.6,206.1 L568.3,206.2 L569.1,206.2 L569.8,206.3 L570.5,206.4 L571.2,206.4 L571.9,206.5 L572.6,206.6 L573.4,206.7 L574.1,206.7 L574.8,206.8 L575.5,206.9 L576.2,206.9 L577.0,207.0 L577.7,207.0 L578.4,207.1 L579.1,207.2 L579.8,207.2 L580.5,207.3 L581.3,207.4 L582.0,207.4 L582.7,207.5 L583.4,207.5 L584.1,207.6 L584.9,207.7 L585.6,207.7 L586.3,207.8 L587.0,207.8 L587.7,207.9 L588.4,207.9 L589.2,208.0 L589.9,208.1 L590.6,208.1 L591.3,208.2 L592.0,208.2 L592.8,208.3 L593.5,208.3 L594.2,208.4 L594.9,208.4 L595.6,208.5 L596.3,208.5 L597.1,208.6 L597.8,208.6 L598.5,208.7 L599.2,208.7 L599.9,208.8 L600.7,208.8 L601.4,208.9 L602.1,208.9 L602.8,209.0 L603.5,209.0 L604.2,209.1 L605.0,209.1 L605.7,209.1 L606.4,209.2 L607.1,209.2 L607.8,209.3 L608.5,209.3 L609.3,209.3 L610.0,209.4 L610.7,209.4 L611.4,209.4 L612.1,209.5 L612.9,209.5 L613.6,209.6 L614.3,209.6 L615.0,209.6 L615.7,209.6 L616.4,209.7 L617.2,209.7 L617.9,209.7 L618.6,209.8 L619.3,209.8 L620.0,209.8 L620.8,209.8 L621.5,209.9 L622.2,209.9 L622.9,209.9 L623.6,209.9 L624.3,210.0 L625.1,210.0 L625.8,210.0 L626.5,210.0"/>
<path d="M238.8,63.3 L239.5,72.7 L240.2,82.5 L240.9,92.5 L241.6,102.8 L242.3,113.3 L243.1,123.7 L243.8,134.1 L244.5,144.3 L245.2,153.9 L245.9,162.6 L246.6,166.1 L247.4,167.2 L248.1,168.4 L248.8,169.8 L249.5,171.2 L250.2,172.7 L251.0,174.3 L251.7,175.8 L252.4,177.4 L253.1,179.0 L253.8,180.6 L254.5,182.2 L255.3,183.7 L256.0,185.2 L256.7,186.7 L257.4,188.1 L258.1,189.5 L258.9,190.9 L259.6,192.2 L260.3,193.5 L261.0,194.8 L261.7,196.0 L262.4,197.2 L263.2,198.4 L263.9,199.5 L264.6,200.6 L265.3,201.7 L266.0,202.7 L266.8,203.8 L267.5,204.7 L268.2,205.7 L268.9,206.6 L269.6,207.5 L270.3,208.3 L271.1,209.2 L271.8,210.0 L272.5,210.7 L273.2,211.4 L273.9,212.1 L274.7,212.7 L275.4,213.3 L276.1,213.9 L276.8,214.4 L277.5,214.9 L278.2,215.3 L279.0,215.7 L279.7,216.0 L280.4,216.3 L281.1,216.6 L281.8,216.8 L282.6,217.0 L283.3,217.2 L284.0,217.3 L284.7,217.4 L285.4,217.4 L286.1,217.4 L286.9,217.4 L287.6,217.4 L288.3,217.3 L289.0,217.3 L289.7,217.2 L290.4,217.0 L291.2,216.9 L291.9,216.8 L292.6,216.7 L293.3,216.5 L294.0,216.4 L294.8,216.3 L295.5,216.1 L296.2,216.0 L296.9,215.9 L297.6,215.8 L298.3,215.8 L299.1,215.7 L299.8,215.7 L300.5,215.7 L301.2,215.7 L301.9,215.8 L302.7,215.9 L303.4,216.0 L304.1,216.2 L304.8,216.4 L305.5,216.6 L306.2,216.9 L307.0,217.2 L307.7,217.5 L308.4,217.9 L309.1,218.3 L309.8,218.8 L310.6,219.3 L311.3,219.8 L312.0,220.3 L312.7,220.9 L313.4,221.5 L314.1,222.2 L314.9,222.8 L315.6,223.5 L316.3,224.2 L317.0,225.0 L317.7,225.7 L318.5,226.5 L319.2,227.2 L319.9,228.0 L320.6,228.8 L321.3,229.6 L322.0,230.3 L322.8,231.1 L323.5,231.9 L324.2,232.6 L324.9,233.3 L325.6,234.1 L326.4,234.7 L327.1,235.4 L327.8,236.1 L328.5,236.7 L329.2,237.2 L329.9,237.8 L330.7,238.3 L331.4,238.7 L332.1,239.2 L332.8,239.6 L333.5,239.9 L334.3,240.2 L335.0,240.4 L335.7,240.6 L336.4,240.8 L337.1,240.9 L337.8,240.9 L338.6,240.8 L339.3,240.7 L340.0,240.5 L340.7,240.3 L341.4,240.0 L342.1,239.7 L342.9,239.3 L343.6,238.9 L344.3,238.4 L345.0,237.9 L345.7,237.4 L346.5,236.8 L347.2,236.2 L347.9,235.6 L348.6,235.0 L349.3,234.4 L350.0,233.7 L350.8,233.0 L351.5,232.4 L352.2,231.7 L352.9,231.1 L353.6,230.4 L354.4,229.8 L355.1,229.1 L355.8,228.5 L356.5,227.9 L357.2,227.3 L357.9,226.6 L358.7,226.0 L359.4,225.5 L360.1,224.9 L360.8,224.3 L361.5,223.8 L362.3,223.3 L363.0,222.8 L363.7,222.3 L364.4,221.9 L365.1,221.5 L365.8,221.1 L366.6,220.7 L367.3,220.3 L368.0,220.0 L368.7,219.7 L369.4,219.4 L370.2,219.1 L370.9,218.8 L371.6,218.5 L372.3,218.2 L373.0,217.9 L373.7,217.7 L374.5,217.4 L375.2,217.2 L375.9,217.0 L376.6,216.8 L377.3,216.6 L378.1,216.4 L378.8,216.2 L379.5,216.0 L380.2,215.9 L380.9,215.7 L381.6,215.6 L382.4,215.5 L383.1,215.3 L383.8,215.2 L384.5,215.0 L385.2,214.8 L386.0,214.7 L386.7,214.5 L387.4,214.3 L388.1,214.1 L388.8,213.9 L389.5,213.7 L390.3,213.5 L391.0,213.3 L391.7,213.1 L392.4,212.9 L393.1,212.7 L393.9,212.5 L394.6,212.3 L395.3,212.1 L396.0,211.9 L396.7,211.7 L397.4,211.6 L398.2,211.4 L398.9,211.2 L399.6,211.0 L400.3,210.9 L401.0,210.7 L401.7,210.5 L402.5,210.4 L403.2,210.2 L403.9,210.0 L404.6,209.9 L405.3,209.7 L406.1,209.6 L406.8,209.4 L407.5,209.2 L408.2,209.1 L408.9,208.9 L409.6,208.7 L410.4,208.6 L411.1,208.4 L411.8,208.2 L412.5,208.1 L413.2,207.9 L414.0,207.7 L414.7,207.6 L415.4,207.4 L416.1,207.2 L416.8,207.1 L417.5,206.9 L418.3,206.7 L419.0,206.6 L419.7,206.4 L420.4,206.3 L421.1,206.1 L421.9,205.9 L422.6,205.8 L423.3,205.6 L424.0,205.5 L424.7,205.3 L425.4,205.1 L426.2,205.0 L426.9,204.8 L427.6,204.7 L428.3,204.5 L429.0,204.4 L429.8,204.2 L430.5,204.1 L431.2,204.0 L431.9,203.8 L432.6,203.7 L433.3,203.5 L434.1,203.4 L434.8,203.3 L435.5,203.2 L436.2,203.1 L436.9,203.0 L437.7,202.9 L438.4,202.9 L439.1,202.8 L439.8,202.7 L440.5,202.7 L441.2,202.6 L442.0,202.6 L442.7,202.6 L443.4,202.5 L444.1,202.5 L444.8,202.5 L445.6,202.5 L446.3,202.4 L447.0,202.4 L447.7,202.4 L448.4,202.4 L449.1,202.4 L449.9,202.4 L450.6,202.4 L451.3,202.4 L452.0,202.4 L452.7,202.5 L453.4,202.5 L454.2,202.5 L454.9,202.5 L455.6,202.6 L456.3,202.6 L457.0,202.6 L457.8,202.6 L458.5,202.6 L459.2,202.7 L459.9,202.7 L460.6,202.7 L461.3,202.8 L462.1,202.8 L462.8,202.8 L463.5,202.9 L464.2,202.9 L464.9,202.9 L465.7,203.0 L466.4,203.0 L467.1,203.0 L467.8,203.1 L468.5,203.1 L469.2,203.1 L470.0,203.1 L470.7,203.1 L471.4,203.1 L472.1,203.1 L472.8,203.1 L473.6,203.1 L474.3,203.1 L475.0,203.1 L475.7,203.0 L476.4,203.0 L477.1,203.0 L477.9,203.0 L478.6,203.0 L479.3,203.0 L480.0,203.0 L480.7,203.0 L481.5,203.0 L482.2,203.0 L482.9,203.0 L483.6,203.0 L484.3,203.0 L485.0,203.0 L485.8,203.0 L486.5,203.0 L487.2,203.0 L487.9,203.0 L488.6,203.0 L489.4,203.0 L490.1,203.0 L490.8,203.0 L491.5,203.0 L492.2,203.0 L492.9,203.0 L493.7,202.9 L494.4,202.9 L495.1,202.9 L495.8,202.8 L496.5,202.8 L497.2,202.7 L498.0,202.6 L498.7,202.6 L499.4,202.5 L500.1,202.4 L500.8,202.4 L501.6,202.3 L502.3,202.3 L503.0,202.2 L503.7,202.2 L504.4,202.1 L505.1,202.0 L505.9,202.0 L506.6,201.9 L507.3,201.8 L508.0,201.8 L508.7,201.7 L509.5,201.6 L510.2,201.6 L510.9,201.5 L511.6,201.4 L512.3,201.4 L513.0,201.3 L513.8,201.3 L514.5,201.3 L515.2,201.3 L515.9,201.3 L516.6,201.3 L517.4,201.3 L518.1,201.3 L518.8,201.4 L519.5,201.4 L520.2,201.4 L520.9,201.5 L521.7,201.5 L522.4,201.6 L523.1,201.6 L523.8,201.7 L524.5,201.7 L525.3,201.8 L526.0,201.8 L526.7,201.9 L527.4,202.0 L528.1,202.1 L528.8,202.1 L529.6,202.2 L530.3,202.3 L531.0,202.4 L531.7,202.5 L532.4,202.6 L533.2,202.7 L533.9,202.8 L534.6,202.9 L535.3,203.0 L536.0,203.1 L536.7,203.3 L537.5,203.4 L538.2,203.5 L538.9,203.6 L539.6,203.8 L540.3,203.9 L541.1,204.0 L541.8,204.2 L542.5,204.3 L543.2,204.4 L543.9,204.5 L544.6,204.7 L545.4,204.8 L546.1,204.9 L546.8,205.0 L547.5,205.1 L548.2,205.3 L549.0,205.4 L549.7,205.5 L550.4,205.6 L551.1,205.7 L551.8,205.8 L552.5,205.9 L553.3,206.0 L554.0,206.1 L554.7,206.2 L555.4,206.3 L556.1,206.4 L556.8,206.5 L557.6,206.6 L558.3,206.7 L559.0,206.8 L559.7,206.9 L560.4,206.9 L561.2,207.0 L561.9,207.1 L562.6,207.2 L563.3,207.2 L564.0,207.3 L564.7,207.4 L565.5,207.4 L566.2,207.5 L566.9,207.6 L567.6,207.6 L568.3,207.7 L569.1,207.8 L569.8,207.8 L570.5,207.9 L571.2,207.9 L571.9,208.0 L572.6,208.0 L573.4,208.1 L574.1,208.1 L574.8,208.2 L575.5,208.2 L576.2,208.3 L577.0,208.3 L577.7,208.4 L578.4,208.4 L579.1,208.5 L579.8,208.5 L580.5,208.6 L581.3,208.6 L582.0,208.7 L582.7,208.7 L583.4,208.8 L584.1,208.8 L584.9,208.9 L585.6,208.9 L586.3,209.0 L587.0,209.0 L587.7,209.1 L588.4,209.1 L589.2,209.2 L589.9,209.2 L590.6,209.2 L591.3,209.3 L592.0,209.3 L592.8,209.4 L593.5,209.4 L594.2,209.5 L594.9,209.5 L595.6,209.5 L596.3,209.6 L597.1,209.6 L597.8,209.6 L598.5,209.7 L599.2,209.7 L599.9,209.7 L600.7,209.8 L601.4,209.8 L602.1,209.8 L602.8,209.9 L603.5,209.9 L604.2,209.9 L605.0,209.9 L605.7,210.0 L606.4,210.0 L607.1,210.0 L607.8,210.0 L608.5,210.1 L609.3,210.1 L610.0,210.1 L610.7,210.1 L611.4,210.1 L612.1,210.1 L612.9,210.2 L613.6,210.2 L614.3,210.2 L615.0,210.2 L615.7,210.2 L616.4,210.2 L617.2,210.2 L617.9,210.3 L618.6,210.3 L619.3,210.3 L620.0,210.3 L620.8,210.3 L621.5,210.3 L622.2,210.3 L622.9,210.3 L623.6,210.3 L624.3,210.3 L625.1,210.3 L625.8,210.3 L626.5,210.3"/>
<path d="M238.8,113.1 L239.5,116.4 L240.2,120.5 L240.9,125.3 L241.6,130.6 L242.3,136.5 L243.1,142.7 L243.8,149.3 L244.5,156.0 L245.2,162.6 L245.9,168.9 L246.6,171.9 L247.4,173.6 L248.1,175.4 L248.8,177.3 L249.5,179.3 L250.2,181.4 L251.0,183.5 L251.7,185.6 L252.4,187.7 L253.1,189.8 L253.8,191.9 L254.5,193.8 L255.3,195.7 L256.0,197.6 L256.7,199.4 L257.4,201.1 L258.1,202.7 L258.9,204.3 L259.6,205.8 L260.3,207.2 L261.0,208.5 L261.7,209.8 L262.4,211.0 L263.2,212.2 L263.9,213.3 L264.6,214.3 L265.3,215.3 L266.0,216.2 L266.8,217.1 L267.5,217.9 L268.2,218.7 L268.9,219.5 L269.6,220.1 L270.3,220.8 L271.1,221.4 L271.8,221.9 L272.5,222.5 L273.2,222.9 L273.9,223.4 L274.7,223.7 L275.4,224.1 L276.1,224.4 L276.8,224.6 L277.5,224.9 L278.2,225.0 L279.0,225.2 L279.7,225.3 L280.4,225.3 L281.1,225.4 L281.8,225.4 L282.6,225.3 L283.3,225.3 L284.0,225.2 L284.7,225.1 L285.4,225.0 L286.1,224.8 L286.9,224.6 L287.6,224.5 L288.3,224.3 L289.0,224.1 L289.7,223.9 L290.4,223.7 L291.2,223.5 L291.9,223.3 L292.6,223.1 L293.3,222.9 L294.0,222.7 L294.8,222.6 L295.5,222.4 L296.2,222.3 L296.9,222.2 L297.6,222.2 L298.3,222.1 L299.1,222.1 L299.8,222.2 L300.5,222.2 L301.2,222.3 L301.9,222.4 L302.7,222.6 L303.4,222.8 L304.1,223.0 L304.8,223.3 L305.5,223.6 L306.2,224.0 L307.0,224.3 L307.7,224.8 L308.4,225.2 L309.1,225.7 L309.8,226.2 L310.6,226.7 L311.3,227.3 L312.0,227.8 L312.7,228.4 L313.4,229.1 L314.1,229.7 L314.9,230.3 L315.6,231.0 L316.3,231.7 L317.0,232.3 L317.7,233.0 L318.5,233.7 L319.2,234.3 L319.9,235.0 L320.6,235.6 L321.3,236.3 L322.0,236.9 L322.8,237.5 L323.5,238.0 L324.2,238.6 L324.9,239.1 L325.6,239.5 L326.4,240.0 L327.1,240.4 L327.8,240.8 L328.5,241.1 L329.2,241.4 L329.9,241.6 L330.7,241.8 L331.4,242.0 L332.1,242.1 L332.8,242.1 L333.5,242.1 L334.3,242.1 L335.0,242.0 L335.7,241.9 L336.4,241.7 L337.1,241.4 L337.8,241.1 L338.6,240.7 L339.3,240.3 L340.0,239.8 L340.7,239.3 L341.4,238.7 L342.1,238.1 L342.9,237.5 L343.6,236.8 L344.3,236.1 L345.0,235.4 L345.7,234.6 L346.5,233.9 L347.2,233.1 L347.9,232.3 L348.6,231.5 L349.3,230.8 L350.0,230.0 L350.8,229.2 L351.5,228.5 L352.2,227.7 L352.9,227.0 L353.6,226.3 L354.4,225.6 L355.1,224.9 L355.8,224.3 L356.5,223.7 L357.2,223.0 L357.9,222.4 L358.7,221.9 L359.4,221.3 L360.1,220.8 L360.8,220.3 L361.5,219.8 L362.3,219.3 L363.0,218.9 L363.7,218.5 L364.4,218.1 L365.1,217.7 L365.8,217.4 L366.6,217.1 L367.3,216.8 L368.0,216.5 L368.7,216.2 L369.4,216.0 L370.2,215.7 L370.9,215.5 L371.6,215.2 L372.3,215.0 L373.0,214.8 L373.7,214.5 L374.5,214.3 L375.2,214.1 L375.9,213.9 L376.6,213.7 L377.3,213.6 L378.1,213.4 L378.8,213.2 L379.5,213.1 L380.2,212.9 L380.9,212.8 L381.6,212.6 L382.4,212.4 L383.1,212.3 L383.8,212.1 L384.5,211.9 L385.2,211.7 L386.0,211.5 L386.7,211.3 L387.4,211.1 L388.1,210.9 L388.8,210.7 L389.5,210.5 L390.3,210.2 L391.0,210.0 L391.7,209.8 L392.4,209.5 L393.1,209.3 L393.9,209.1 L394.6,208.9 L395.3,208.7 L396.0,208.4 L396.7,208.2 L397.4,208.0 L398.2,207.8 L398.9,207.7 L399.6,207.5 L400.3,207.3 L401.0,207.1 L401.7,207.0 L402.5,206.8 L403.2,206.6 L403.9,206.5 L404.6,206.3 L405.3,206.1 L406.1,206.0 L406.8,205.8 L407.5,205.6 L408.2,205.5 L408.9,205.3 L409.6,205.1 L410.4,205.0 L411.1,204.8 L411.8,204.7 L412.5,204.5 L413.2,204.3 L414.0,204.2 L414.7,204.0 L415.4,203.9 L416.1,203.7 L416.8,203.6 L417.5,203.4 L418.3,203.3 L419.0,203.1 L419.7,203.0 L420.4,202.8 L421.1,202.7 L421.9,202.5 L422.6,202.4 L423.3,202.3 L424.0,202.1 L424.7,202.0 L425.4,201.9 L426.2,201.7 L426.9,201.6 L427.6,201.5 L428.3,201.4 L429.0,201.2 L429.8,201.1 L430.5,201.0 L431.2,200.9 L431.9,200.8 L432.6,200.7 L433.3,200.6 L434.1,200.5 L434.8,200.5 L435.5,200.4 L436.2,200.4 L436.9,200.4 L437.7,200.3 L438.4,200.3 L439.1,200.3 L439.8,200.4 L440.5,200.4 L441.2,200.4 L442.0,200.4 L442.7,200.5 L443.4,200.5 L444.1,200.5 L444.8,200.6 L445.6,200.6 L446.3,200.7 L447.0,200.7 L447.7,200.7 L448.4,200.8 L449.1,200.9 L449.9,200.9 L450.6,201.0 L451.3,201.1 L452.0,201.1 L452.7,201.2 L453.4,201.3 L454.2,201.4 L454.9,201.4 L455.6,201.5 L456.3,201.6 L457.0,201.6 L457.8,201.7 L458.5,201.8 L459.2,201.8 L459.9,201.9 L460.6,202.0 L461.3,202.0 L462.1,202.1 L462.8,202.2 L463.5,202.3 L464.2,202.3 L464.9,202.4 L465.7,202.5 L466.4,202.5 L467.1,202.6 L467.8,202.7 L468.5,202.7 L469.2,202.7 L470.0,202.8 L470.7,202.8 L471.4,202.8 L472.1,202.8 L472.8,202.8 L473.6,202.9 L474.3,202.9 L475.0,202.9 L475.7,202.9 L476.4,202.9 L477.1,202.9 L477.9,202.9 L478.6,203.0 L479.3,203.0 L480.0,203.0 L480.7,203.0 L481.5,203.0 L482.2,203.0 L482.9,203.1 L483.6,203.1 L484.3,203.1 L485.0,203.1 L485.8,203.1 L486.5,203.2 L487.2,203.2 L487.9,203.2 L488.6,203.2 L489.4,203.3 L490.1,203.3 L490.8,203.3 L491.5,203.3 L492.2,203.3 L492.9,203.3 L493.7,203.3 L494.4,203.3 L495.1,203.3 L495.8,203.3 L496.5,203.2 L497.2,203.2 L498.0,203.2 L498.7,203.2 L499.4,203.1 L500.1,203.1 L500.8,203.1 L501.6,203.0 L502.3,203.0 L503.0,203.0 L503.7,203.0 L504.4,203.0 L505.1,203.0 L505.9,202.9 L506.6,202.9 L507.3,202.9 L508.0,202.9 L508.7,202.8 L509.5,202.8 L510.2,202.8 L510.9,202.8 L511.6,202.8 L512.3,202.8 L513.0,202.8 L513.8,202.8 L514.5,202.8 L515.2,202.9 L515.9,202.9 L516.6,203.0 L517.4,203.0 L518.1,203.1 L518.8,203.2 L519.5,203.2 L520.2,203.3 L520.9,203.4 L521.7,203.5 L522.4,203.6 L523.1,203.6 L523.8,203.7 L524.5,203.8 L525.3,203.9 L526.0,204.0 L526.7,204.1 L527.4,204.2 L528.1,204.3 L528.8,204.4 L529.6,204.5 L530.3,204.6 L531.0,204.7 L531.7,204.9 L532.4,205.0 L533.2,205.1 L533.9,205.2 L534.6,205.3 L535.3,205.5 L536.0,205.6 L536.7,205.7 L537.5,205.8 L538.2,205.9 L538.9,206.1 L539.6,206.2 L540.3,206.3 L541.1,206.4 L541.8,206.5 L542.5,206.6 L543.2,206.8 L543.9,206.9 L544.6,207.0 L545.4,207.1 L546.1,207.2 L546.8,207.3 L547.5,207.4 L548.2,207.5 L549.0,207.6 L549.7,207.7 L550.4,207.8 L551.1,207.8 L551.8,207.9 L552.5,208.0 L553.3,208.1 L554.0,208.1 L554.7,208.2 L555.4,208.3 L556.1,208.3 L556.8,208.4 L557.6,208.4 L558.3,208.5 L559.0,208.5 L559.7,208.6 L560.4,208.6 L561.2,208.7 L561.9,208.7 L562.6,208.8 L563.3,208.8 L564.0,208.9 L564.7,208.9 L565.5,209.0 L566.2,209.0 L566.9,209.0 L567.6,209.1 L568.3,209.1 L569.1,209.2 L569.8,209.2 L570.5,209.2 L571.2,209.3 L571.9,209.3 L572.6,209.3 L573.4,209.4 L574.1,209.4 L574.8,209.4 L575.5,209.5 L576.2,209.5 L577.0,209.5 L577.7,209.6 L578.4,209.6 L579.1,209.6 L579.8,209.6 L580.5,209.7 L581.3,209.7 L582.0,209.7 L582.7,209.8 L583.4,209.8 L584.1,209.8 L584.9,209.9 L585.6,209.9 L586.3,209.9 L587.0,210.0 L587.7,210.0 L588.4,210.0 L589.2,210.0 L589.9,210.1 L590.6,210.1 L591.3,210.1 L592.0,210.1 L592.8,210.2 L593.5,210.2 L594.2,210.2 L594.9,210.2 L595.6,210.2 L596.3,210.3 L597.1,210.3 L597.8,210.3 L598.5,210.3 L599.2,210.3 L599.9,210.3 L600.7,210.3 L601.4,210.4 L602.1,210.4 L602.8,210.4 L603.5,210.4 L604.2,210.4 L605.0,210.4 L605.7,210.4 L606.4,210.4 L607.1,210.4 L607.8,210.4 L608.5,210.4 L609.3,210.4 L610.0,210.4 L610.7,210.4 L611.4,210.4 L612.1,210.4 L612.9,210.4 L613.6,210.4 L614.3,210.4 L615.0,210.4 L615.7,210.4 L616.4,210.4 L617.2,210.4 L617.9,210.3 L618.6,210.3 L619.3,210.3 L620.0,210.3 L620.8,210.3 L621.5,210.3 L622.2,210.3 L622.9,210.2 L623.6,210.2 L624.3,210.2 L625.1,210.2 L625.8,210.2 L626.5,210.2"/>
<path d="M238.8,174.2 L239.5,171.1 L240.2,168.9 L240.9,167.8 L241.6,167.6 L242.3,168.1 L243.1,169.4 L243.8,171.4 L244.5,173.8 L245.2,176.7 L245.9,179.7 L246.6,182.0 L247.4,184.0 L248.1,186.1 L248.8,188.4 L249.5,190.8 L250.2,193.2 L251.0,195.6 L251.7,198.0 L252.4,200.4 L253.1,202.7 L253.8,204.9 L254.5,207.1 L255.3,209.1 L256.0,211.1 L256.7,213.0 L257.4,214.7 L258.1,216.4 L258.9,217.9 L259.6,219.4 L260.3,220.8 L261.0,222.0 L261.7,223.2 L262.4,224.3 L263.2,225.3 L263.9,226.2 L264.6,227.1 L265.3,227.8 L266.0,228.6 L266.8,229.2 L267.5,229.8 L268.2,230.3 L268.9,230.8 L269.6,231.2 L270.3,231.5 L271.1,231.8 L271.8,232.1 L272.5,232.3 L273.2,232.5 L273.9,232.6 L274.7,232.7 L275.4,232.7 L276.1,232.7 L276.8,232.7 L277.5,232.7 L278.2,232.6 L279.0,232.4 L279.7,232.3 L280.4,232.1 L281.1,231.9 L281.8,231.7 L282.6,231.4 L283.3,231.2 L284.0,230.9 L284.7,230.6 L285.4,230.3 L286.1,230.0 L286.9,229.7 L287.6,229.4 L288.3,229.1 L289.0,228.8 L289.7,228.5 L290.4,228.2 L291.2,228.0 L291.9,227.7 L292.6,227.5 L293.3,227.3 L294.0,227.1 L294.8,227.0 L295.5,226.8 L296.2,226.8 L296.9,226.7 L297.6,226.7 L298.3,226.7 L299.1,226.7 L299.8,226.8 L300.5,226.9 L301.2,227.0 L301.9,227.2 L302.7,227.4 L303.4,227.7 L304.1,228.0 L304.8,228.3 L305.5,228.6 L306.2,229.0 L307.0,229.4 L307.7,229.8 L308.4,230.3 L309.1,230.7 L309.8,231.2 L310.6,231.7 L311.3,232.3 L312.0,232.8 L312.7,233.3 L313.4,233.9 L314.1,234.4 L314.9,235.0 L315.6,235.5 L316.3,236.1 L317.0,236.6 L317.7,237.1 L318.5,237.6 L319.2,238.1 L319.9,238.6 L320.6,239.0 L321.3,239.4 L322.0,239.8 L322.8,240.1 L323.5,240.4 L324.2,240.7 L324.9,240.9 L325.6,241.1 L326.4,241.2 L327.1,241.3 L327.8,241.4 L328.5,241.4 L329.2,241.3 L329.9,241.2 L330.7,241.1 L331.4,240.9 L332.1,240.7 L332.8,240.4 L333.5,240.1 L334.3,239.7 L335.0,239.3 L335.7,238.9 L336.4,238.4 L337.1,237.8 L337.8,237.2 L338.6,236.6 L339.3,235.9 L340.0,235.1 L340.7,234.4 L341.4,233.6 L342.1,232.8 L342.9,231.9 L343.6,231.1 L344.3,230.2 L345.0,229.4 L345.7,228.5 L346.5,227.6 L347.2,226.8 L347.9,225.9 L348.6,225.1 L349.3,224.3 L350.0,223.5 L350.8,222.7 L351.5,221.9 L352.2,221.2 L352.9,220.5 L353.6,219.8 L354.4,219.2 L355.1,218.6 L355.8,218.0 L356.5,217.4 L357.2,216.9 L357.9,216.4 L358.7,215.9 L359.4,215.4 L360.1,215.0 L360.8,214.6 L361.5,214.2 L362.3,213.9 L363.0,213.5 L363.7,213.2 L364.4,213.0 L365.1,212.7 L365.8,212.5 L366.6,212.2 L367.3,212.0 L368.0,211.8 L368.7,211.6 L369.4,211.4 L370.2,211.3 L370.9,211.1 L371.6,210.9 L372.3,210.8 L373.0,210.6 L373.7,210.5 L374.5,210.3 L375.2,210.2 L375.9,210.0 L376.6,209.9 L377.3,209.8 L378.1,209.6 L378.8,209.5 L379.5,209.3 L380.2,209.2 L380.9,209.1 L381.6,208.9 L382.4,208.7 L383.1,208.6 L383.8,208.4 L384.5,208.2 L385.2,208.0 L386.0,207.8 L386.7,207.6 L387.4,207.4 L388.1,207.2 L388.8,207.0 L389.5,206.7 L390.3,206.5 L391.0,206.3 L391.7,206.1 L392.4,205.8 L393.1,205.6 L393.9,205.4 L394.6,205.2 L395.3,205.0 L396.0,204.8 L396.7,204.6 L397.4,204.4 L398.2,204.2 L398.9,204.0 L399.6,203.8 L400.3,203.7 L401.0,203.5 L401.7,203.4 L402.5,203.2 L403.2,203.1 L403.9,202.9 L404.6,202.8 L405.3,202.6 L406.1,202.5 L406.8,202.3 L407.5,202.2 L408.2,202.0 L408.9,201.9 L409.6,201.7 L410.4,201.6 L411.1,201.5 L411.8,201.3 L412.5,201.2 L413.2,201.1 L414.0,200.9 L414.7,200.8 L415.4,200.7 L416.1,200.6 L416.8,200.4 L417.5,200.3 L418.3,200.2 L419.0,200.1 L419.7,200.0 L420.4,199.9 L421.1,199.8 L421.9,199.6 L422.6,199.5 L423.3,199.4 L424.0,199.3 L424.7,199.3 L425.4,199.2 L426.2,199.1 L426.9,199.0 L427.6,198.9 L428.3,198.8 L429.0,198.8 L429.8,198.7 L430.5,198.6 L431.2,198.6 L431.9,198.5 L432.6,198.5 L433.3,198.4 L434.1,198.4 L434.8,198.4 L435.5,198.4 L436.2,198.4 L436.9,198.5 L437.7,198.5 L438.4,198.6 L439.1,198.7 L439.8,198.7 L440.5,198.8 L441.2,198.9 L442.0,199.0 L442.7,199.1 L443.4,199.2 L444.1,199.3 L444.8,199.4 L445.6,199.5 L446.3,199.6 L447.0,199.7 L447.7,199.8 L448.4,199.9 L449.1,200.0 L449.9,200.1 L450.6,200.3 L451.3,200.4 L452.0,200.5 L452.7,200.6 L453.4,200.7 L454.2,200.9 L454.9,201.0 L455.6,201.1 L456.3,201.2 L457.0,201.3 L457.8,201.4 L458.5,201.5 L459.2,201.6 L459.9,201.7 L460.6,201.8 L461.3,201.9 L462.1,202.0 L462.8,202.1 L463.5,202.2 L464.2,202.3 L464.9,202.4 L465.7,202.5 L466.4,202.6 L467.1,202.7 L467.8,202.7 L468.5,202.8 L469.2,202.9 L470.0,202.9 L470.7,203.0 L471.4,203.0 L472.1,203.0 L472.8,203.1 L473.6,203.1 L474.3,203.1 L475.0,203.2 L475.7,203.2 L476.4,203.2 L477.1,203.3 L477.9,203.3 L478.6,203.4 L479.3,203.4 L480.0,203.4 L480.7,203.5 L481.5,203.5 L482.2,203.5 L482.9,203.6 L483.6,203.6 L484.3,203.7 L485.0,203.7 L485.8,203.7 L486.5,203.8 L487.2,203.8 L487.9,203.8 L488.6,203.9 L489.4,203.9 L490.1,204.0 L490.8,204.0 L491.5,204.0 L492.2,204.1 L492.9,204.1 L493.7,204.1 L494.4,204.1 L495.1,204.1 L495.8,204.1 L496.5,204.2 L497.2,204.2 L498.0,204.2 L498.7,204.2 L499.4,204.2 L500.1,204.2 L500.8,204.2 L501.6,204.2 L502.3,204.2 L503.0,204.3 L503.7,204.3 L504.4,204.3 L505.1,204.3 L505.9,204.4 L506.6,204.4 L507.3,204.4 L508.0,204.4 L508.7,204.5 L509.5,204.5 L510.2,204.5 L510.9,204.6 L511.6,204.6 L512.3,204.7 L513.0,204.7 L513.8,204.8 L514.5,204.9 L515.2,205.0 L515.9,205.0 L516.6,205.1 L517.4,205.2 L518.1,205.3 L518.8,205.4 L519.5,205.5 L520.2,205.6 L520.9,205.7 L521.7,205.8 L522.4,205.9 L523.1,206.0 L523.8,206.2 L524.5,206.3 L525.3,206.4 L526.0,206.5 L526.7,206.6 L527.4,206.7 L528.1,206.8 L528.8,207.0 L529.6,207.1 L530.3,207.2 L531.0,207.3 L531.7,207.4 L532.4,207.6 L533.2,207.7 L533.9,207.8 L534.6,207.9 L535.3,208.0 L536.0,208.1 L536.7,208.3 L537.5,208.4 L538.2,208.5 L538.9,208.6 L539.6,208.7 L540.3,208.8 L541.1,208.9 L541.8,208.9 L542.5,209.0 L543.2,209.1 L543.9,209.2 L544.6,209.3 L545.4,209.3 L546.1,209.4 L546.8,209.5 L547.5,209.6 L548.2,209.6 L549.0,209.7 L549.7,209.7 L550.4,209.8 L551.1,209.8 L551.8,209.9 L552.5,209.9 L553.3,210.0 L554.0,210.0 L554.7,210.0 L555.4,210.0 L556.1,210.0 L556.8,210.0 L557.6,210.1 L558.3,210.1 L559.0,210.1 L559.7,210.1 L560.4,210.1 L561.2,210.1 L561.9,210.1 L562.6,210.2 L563.3,210.2 L564.0,210.2 L564.7,210.2 L565.5,210.2 L566.2,210.2 L566.9,210.2 L567.6,210.3 L568.3,210.3 L569.1,210.3 L569.8,210.3 L570.5,210.3 L571.2,210.3 L571.9,210.3 L572.6,210.3 L573.4,210.3 L574.1,210.3 L574.8,210.3 L575.5,210.3 L576.2,210.4 L577.0,210.4 L577.7,210.4 L578.4,210.4 L579.1,210.4 L579.8,210.4 L580.5,210.4 L581.3,210.4 L582.0,210.4 L582.7,210.4 L583.4,210.5 L584.1,210.5 L584.9,210.5 L585.6,210.5 L586.3,210.5 L587.0,210.5 L587.7,210.5 L588.4,210.5 L589.2,210.5 L589.9,210.5 L590.6,210.5 L591.3,210.5 L592.0,210.5 L592.8,210.5 L593.5,210.5 L594.2,210.5 L594.9,210.5 L595.6,210.5 L596.3,210.5 L597.1,210.5 L597.8,210.5 L598.5,210.5 L599.2,210.5 L599.9,210.5 L600.7,210.5 L601.4,210.5 L602.1,210.5 L602.8,210.5 L603.5,210.4 L604.2,210.4 L605.0,210.4 L605.7,210.4 L606.4,210.4 L607.1,210.4 L607.8,210.3 L608.5,210.3 L609.3,210.3 L610.0,210.3 L610.7,210.3 L611.4,210.2 L612.1,210.2 L612.9,210.2 L613.6,210.2 L614.3,210.1 L615.0,210.1 L615.7,210.1 L616.4,210.1 L617.2,210.0 L617.9,210.0 L618.6,210.0 L619.3,209.9 L620.0,209.9 L620.8,209.9 L621.5,209.8 L622.2,209.8 L622.9,209.8 L623.6,209.7 L624.3,209.7 L625.1,209.7 L625.8,209.6 L626.5,209.6"/>
<path d="M238.8,239.3 L239.5,230.0 L240.2,221.9 L240.9,215.0 L241.6,209.2 L242.3,204.5 L243.1,200.6 L243.8,197.7 L244.5,195.6 L245.2,194.3 L245.9,193.8 L246.6,195.1 L247.4,197.1 L248.1,199.4 L248.8,201.7 L249.5,204.1 L250.2,206.6 L251.0,209.0 L251.7,211.4 L252.4,213.7 L253.1,216.0 L253.8,218.2 L254.5,220.3 L255.3,222.2 L256.0,224.1 L256.7,225.8 L257.4,227.4 L258.1,228.9 L258.9,230.3 L259.6,231.5 L260.3,232.7 L261.0,233.7 L261.7,234.6 L262.4,235.5 L263.2,236.2 L263.9,236.8 L264.6,237.4 L265.3,237.9 L266.0,238.3 L266.8,238.6 L267.5,238.8 L268.2,239.0 L268.9,239.2 L269.6,239.3 L270.3,239.3 L271.1,239.3 L271.8,239.2 L272.5,239.1 L273.2,238.9 L273.9,238.8 L274.7,238.5 L275.4,238.3 L276.1,238.0 L276.8,237.7 L277.5,237.3 L278.2,237.0 L279.0,236.6 L279.7,236.2 L280.4,235.8 L281.1,235.4 L281.8,235.0 L282.6,234.5 L283.3,234.1 L284.0,233.7 L284.7,233.2 L285.4,232.8 L286.1,232.4 L286.9,232.0 L287.6,231.6 L288.3,231.2 L289.0,230.9 L289.7,230.5 L290.4,230.2 L291.2,229.9 L291.9,229.7 L292.6,229.4 L293.3,229.2 L294.0,229.1 L294.8,228.9 L295.5,228.8 L296.2,228.8 L296.9,228.7 L297.6,228.7 L298.3,228.8 L299.1,228.9 L299.8,229.0 L300.5,229.1 L301.2,229.3 L301.9,229.5 L302.7,229.7 L303.4,230.0 L304.1,230.3 L304.8,230.6 L305.5,231.0 L306.2,231.3 L307.0,231.7 L307.7,232.1 L308.4,232.5 L309.1,232.9 L309.8,233.3 L310.6,233.8 L311.3,234.2 L312.0,234.6 L312.7,235.0 L313.4,235.5 L314.1,235.9 L314.9,236.2 L315.6,236.6 L316.3,237.0 L317.0,237.3 L317.7,237.6 L318.5,237.9 L319.2,238.1 L319.9,238.3 L320.6,238.5 L321.3,238.6 L322.0,238.7 L322.8,238.7 L323.5,238.7 L324.2,238.7 L324.9,238.6 L325.6,238.5 L326.4,238.3 L327.1,238.1 L327.8,237.8 L328.5,237.5 L329.2,237.1 L329.9,236.7 L330.7,236.3 L331.4,235.8 L332.1,235.2 L332.8,234.7 L333.5,234.0 L334.3,233.4 L335.0,232.7 L335.7,232.0 L336.4,231.2 L337.1,230.5 L337.8,229.6 L338.6,228.8 L339.3,227.9 L340.0,227.0 L340.7,226.1 L341.4,225.2 L342.1,224.3 L342.9,223.3 L343.6,222.4 L344.3,221.5 L345.0,220.6 L345.7,219.7 L346.5,218.9 L347.2,218.0 L347.9,217.2 L348.6,216.4 L349.3,215.7 L350.0,214.9 L350.8,214.2 L351.5,213.6 L352.2,212.9 L352.9,212.3 L353.6,211.8 L354.4,211.2 L355.1,210.8 L355.8,210.3 L356.5,209.9 L357.2,209.5 L357.9,209.1 L358.7,208.8 L359.4,208.5 L360.1,208.2 L360.8,208.0 L361.5,207.7 L362.3,207.5 L363.0,207.4 L363.7,207.2 L364.4,207.1 L365.1,206.9 L365.8,206.8 L366.6,206.7 L367.3,206.6 L368.0,206.5 L368.7,206.4 L369.4,206.4 L370.2,206.3 L370.9,206.2 L371.6,206.1 L372.3,206.1 L373.0,206.0 L373.7,205.9 L374.5,205.9 L375.2,205.8 L375.9,205.7 L376.6,205.7 L377.3,205.6 L378.1,205.5 L378.8,205.4 L379.5,205.3 L380.2,205.2 L380.9,205.1 L381.6,204.9 L382.4,204.8 L383.1,204.7 L383.8,204.5 L384.5,204.3 L385.2,204.2 L386.0,204.0 L386.7,203.8 L387.4,203.6 L388.1,203.4 L388.8,203.2 L389.5,203.0 L390.3,202.8 L391.0,202.6 L391.7,202.4 L392.4,202.2 L393.1,202.0 L393.9,201.8 L394.6,201.7 L395.3,201.5 L396.0,201.3 L396.7,201.1 L397.4,201.0 L398.2,200.8 L398.9,200.7 L399.6,200.6 L400.3,200.4 L401.0,200.3 L401.7,200.2 L402.5,200.1 L403.2,199.9 L403.9,199.8 L404.6,199.7 L405.3,199.6 L406.1,199.5 L406.8,199.4 L407.5,199.2 L408.2,199.1 L408.9,199.0 L409.6,198.9 L410.4,198.8 L411.1,198.7 L411.8,198.6 L412.5,198.5 L413.2,198.5 L414.0,198.4 L414.7,198.3 L415.4,198.2 L416.1,198.1 L416.8,198.1 L417.5,198.0 L418.3,197.9 L419.0,197.9 L419.7,197.8 L420.4,197.7 L421.1,197.7 L421.9,197.6 L422.6,197.6 L423.3,197.5 L424.0,197.5 L424.7,197.4 L425.4,197.4 L426.2,197.3 L426.9,197.3 L427.6,197.3 L428.3,197.3 L429.0,197.2 L429.8,197.2 L430.5,197.2 L431.2,197.2 L431.9,197.2 L432.6,197.2 L433.3,197.2 L434.1,197.3 L434.8,197.3 L435.5,197.4 L436.2,197.5 L436.9,197.6 L437.7,197.7 L438.4,197.8 L439.1,198.0 L439.8,198.1 L440.5,198.2 L441.2,198.4 L442.0,198.5 L442.7,198.7 L443.4,198.9 L444.1,199.0 L444.8,199.1 L445.6,199.3 L446.3,199.4 L447.0,199.6 L447.7,199.7 L448.4,199.9 L449.1,200.0 L449.9,200.2 L450.6,200.3 L451.3,200.5 L452.0,200.6 L452.7,200.8 L453.4,200.9 L454.2,201.1 L454.9,201.2 L455.6,201.4 L456.3,201.5 L457.0,201.6 L457.8,201.8 L458.5,201.9 L459.2,202.0 L459.9,202.1 L460.6,202.2 L461.3,202.3 L462.1,202.5 L462.8,202.6 L463.5,202.7 L464.2,202.8 L464.9,202.9 L465.7,203.0 L466.4,203.1 L467.1,203.2 L467.8,203.3 L468.5,203.4 L469.2,203.5 L470.0,203.5 L470.7,203.6 L471.4,203.7 L472.1,203.7 L472.8,203.8 L473.6,203.8 L474.3,203.9 L475.0,203.9 L475.7,204.0 L476.4,204.0 L477.1,204.1 L477.9,204.1 L478.6,204.2 L479.3,204.2 L480.0,204.3 L480.7,204.3 L481.5,204.4 L482.2,204.4 L482.9,204.5 L483.6,204.5 L484.3,204.6 L485.0,204.6 L485.8,204.7 L486.5,204.7 L487.2,204.8 L487.9,204.8 L488.6,204.9 L489.4,204.9 L490.1,205.0 L490.8,205.0 L491.5,205.1 L492.2,205.1 L492.9,205.2 L493.7,205.2 L494.4,205.3 L495.1,205.3 L495.8,205.3 L496.5,205.4 L497.2,205.4 L498.0,205.5 L498.7,205.5 L499.4,205.5 L500.1,205.6 L500.8,205.6 L501.6,205.7 L502.3,205.7 L503.0,205.8 L503.7,205.9 L504.4,205.9 L505.1,206.0 L505.9,206.1 L506.6,206.1 L507.3,206.2 L508.0,206.3 L508.7,206.4 L509.5,206.4 L510.2,206.5 L510.9,206.6 L511.6,206.7 L512.3,206.8 L513.0,206.9 L513.8,207.0 L514.5,207.1 L515.2,207.2 L515.9,207.3 L516.6,207.5 L517.4,207.6 L518.1,207.7 L518.8,207.8 L519.5,207.9 L520.2,208.0 L520.9,208.2 L521.7,208.3 L522.4,208.4 L523.1,208.5 L523.8,208.7 L524.5,208.8 L525.3,208.9 L526.0,209.0 L526.7,209.1 L527.4,209.3 L528.1,209.4 L528.8,209.5 L529.6,209.6 L530.3,209.7 L531.0,209.8 L531.7,210.0 L532.4,210.1 L533.2,210.2 L533.9,210.3 L534.6,210.4 L535.3,210.5 L536.0,210.5 L536.7,210.6 L537.5,210.7 L538.2,210.8 L538.9,210.9 L539.6,210.9 L540.3,211.0 L541.1,211.0 L541.8,211.1 L542.5,211.1 L543.2,211.2 L543.9,211.2 L544.6,211.3 L545.4,211.3 L546.1,211.3 L546.8,211.4 L547.5,211.4 L548.2,211.4 L549.0,211.4 L549.7,211.5 L550.4,211.5 L551.1,211.5 L551.8,211.5 L552.5,211.5 L553.3,211.4 L554.0,211.4 L554.7,211.4 L555.4,211.4 L556.1,211.3 L556.8,211.3 L557.6,211.3 L558.3,211.2 L559.0,211.2 L559.7,211.2 L560.4,211.2 L561.2,211.1 L561.9,211.1 L562.6,211.1 L563.3,211.1 L564.0,211.1 L564.7,211.1 L565.5,211.1 L566.2,211.0 L566.9,211.0 L567.6,211.0 L568.3,211.0 L569.1,211.0 L569.8,210.9 L570.5,210.9 L571.2,210.9 L571.9,210.9 L572.6,210.9 L573.4,210.9 L574.1,210.8 L574.8,210.8 L575.5,210.8 L576.2,210.8 L577.0,210.8 L577.7,210.7 L578.4,210.7 L579.1,210.7 L579.8,210.7 L580.5,210.7 L581.3,210.7 L582.0,210.7 L582.7,210.7 L583.4,210.6 L584.1,210.6 L584.9,210.6 L585.6,210.6 L586.3,210.6 L587.0,210.6 L587.7,210.6 L588.4,210.6 L589.2,210.5 L589.9,210.5 L590.6,210.5 L591.3,210.5 L592.0,210.5 L592.8,210.5 L593.5,210.4 L594.2,210.4 L594.9,210.4 L595.6,210.4 L596.3,210.3 L597.1,210.3 L597.8,210.3 L598.5,210.3 L599.2,210.2 L599.9,210.2 L600.7,210.2 L601.4,210.2 L602.1,210.1 L602.8,210.1 L603.5,210.1 L604.2,210.0 L605.0,210.0 L605.7,210.0 L606.4,209.9 L607.1,209.9 L607.8,209.8 L608.5,209.8 L609.3,209.8 L610.0,209.7 L610.7,209.7 L611.4,209.7 L612.1,209.6 L612.9,209.6 L613.6,209.5 L614.3,209.5 L615.0,209.4 L615.7,209.4 L616.4,209.4 L617.2,209.3 L617.9,209.3 L618.6,209.2 L619.3,209.2 L620.0,209.1 L620.8,209.1 L621.5,209.0 L622.2,209.0 L622.9,208.9 L623.6,208.9 L624.3,208.8 L625.1,208.8 L625.8,208.7 L626.5,208.7"/>
<path d="M238.8,300.4 L239.5,286.1 L240.2,273.1 L240.9,261.3 L241.6,250.6 L242.3,241.1 L243.1,232.6 L243.8,225.2 L244.5,218.8 L245.2,213.5 L245.9,209.5 L246.6,209.5 L247.4,211.5 L248.1,213.5 L248.8,215.6 L249.5,217.8 L250.2,220.0 L251.0,222.1 L251.7,224.2 L252.4,226.3 L253.1,228.2 L253.8,230.1 L254.5,231.8 L255.3,233.5 L256.0,235.0 L256.7,236.3 L257.4,237.6 L258.1,238.7 L258.9,239.8 L259.6,240.7 L260.3,241.4 L261.0,242.1 L261.7,242.7 L262.4,243.1 L263.2,243.5 L263.9,243.8 L264.6,244.0 L265.3,244.1 L266.0,244.2 L266.8,244.1 L267.5,244.0 L268.2,243.9 L268.9,243.7 L269.6,243.4 L270.3,243.1 L271.1,242.8 L271.8,242.4 L272.5,242.0 L273.2,241.5 L273.9,241.0 L274.7,240.5 L275.4,240.0 L276.1,239.5 L276.8,238.9 L277.5,238.3 L278.2,237.8 L279.0,237.2 L279.7,236.6 L280.4,236.0 L281.1,235.4 L281.8,234.8 L282.6,234.3 L283.3,233.7 L284.0,233.2 L284.7,232.7 L285.4,232.2 L286.1,231.7 L286.9,231.2 L287.6,230.8 L288.3,230.4 L289.0,230.0 L289.7,229.7 L290.4,229.4 L291.2,229.1 L291.9,228.8 L292.6,228.6 L293.3,228.5 L294.0,228.3 L294.8,228.2 L295.5,228.2 L296.2,228.1 L296.9,228.1 L297.6,228.2 L298.3,228.2 L299.1,228.4 L299.8,228.5 L300.5,228.6 L301.2,228.8 L301.9,229.0 L302.7,229.3 L303.4,229.5 L304.1,229.8 L304.8,230.1 L305.5,230.4 L306.2,230.7 L307.0,231.0 L307.7,231.3 L308.4,231.6 L309.1,231.9 L309.8,232.2 L310.6,232.5 L311.3,232.8 L312.0,233.1 L312.7,233.3 L313.4,233.6 L314.1,233.8 L314.9,233.9 L315.6,234.1 L316.3,234.2 L317.0,234.3 L317.7,234.3 L318.5,234.3 L319.2,234.3 L319.9,234.2 L320.6,234.1 L321.3,233.9 L322.0,233.7 L322.8,233.5 L323.5,233.2 L324.2,232.9 L324.9,232.5 L325.6,232.0 L326.4,231.6 L327.1,231.0 L327.8,230.5 L328.5,229.9 L329.2,229.2 L329.9,228.6 L330.7,227.9 L331.4,227.1 L332.1,226.3 L332.8,225.5 L333.5,224.7 L334.3,223.8 L335.0,223.0 L335.7,222.1 L336.4,221.2 L337.1,220.2 L337.8,219.3 L338.6,218.3 L339.3,217.4 L340.0,216.4 L340.7,215.5 L341.4,214.6 L342.1,213.7 L342.9,212.8 L343.6,211.9 L344.3,211.0 L345.0,210.2 L345.7,209.4 L346.5,208.7 L347.2,207.9 L347.9,207.2 L348.6,206.6 L349.3,206.0 L350.0,205.4 L350.8,204.9 L351.5,204.4 L352.2,203.9 L352.9,203.5 L353.6,203.1 L354.4,202.8 L355.1,202.5 L355.8,202.2 L356.5,201.9 L357.2,201.7 L357.9,201.6 L358.7,201.4 L359.4,201.3 L360.1,201.2 L360.8,201.2 L361.5,201.1 L362.3,201.1 L363.0,201.1 L363.7,201.1 L364.4,201.1 L365.1,201.2 L365.8,201.2 L366.6,201.2 L367.3,201.2 L368.0,201.3 L368.7,201.3 L369.4,201.3 L370.2,201.4 L370.9,201.4 L371.6,201.4 L372.3,201.5 L373.0,201.5 L373.7,201.5 L374.5,201.5 L375.2,201.6 L375.9,201.6 L376.6,201.6 L377.3,201.6 L378.1,201.5 L378.8,201.5 L379.5,201.4 L380.2,201.4 L380.9,201.3 L381.6,201.2 L382.4,201.1 L383.1,201.0 L383.8,200.9 L384.5,200.7 L385.2,200.6 L386.0,200.5 L386.7,200.3 L387.4,200.2 L388.1,200.1 L388.8,199.9 L389.5,199.8 L390.3,199.6 L391.0,199.5 L391.7,199.3 L392.4,199.2 L393.1,199.0 L393.9,198.9 L394.6,198.8 L395.3,198.6 L396.0,198.5 L396.7,198.4 L397.4,198.3 L398.2,198.2 L398.9,198.1 L399.6,198.0 L400.3,197.9 L401.0,197.9 L401.7,197.8 L402.5,197.7 L403.2,197.6 L403.9,197.6 L404.6,197.5 L405.3,197.4 L406.1,197.4 L406.8,197.3 L407.5,197.2 L408.2,197.2 L408.9,197.1 L409.6,197.1 L410.4,197.0 L411.1,197.0 L411.8,196.9 L412.5,196.9 L413.2,196.9 L414.0,196.8 L414.7,196.8 L415.4,196.8 L416.1,196.8 L416.8,196.7 L417.5,196.7 L418.3,196.7 L419.0,196.7 L419.7,196.7 L420.4,196.7 L421.1,196.7 L421.9,196.7 L422.6,196.7 L423.3,196.7 L424.0,196.7 L424.7,196.7 L425.4,196.7 L426.2,196.7 L426.9,196.8 L427.6,196.8 L428.3,196.8 L429.0,196.9 L429.8,196.9 L430.5,197.0 L431.2,197.0 L431.9,197.1 L432.6,197.1 L433.3,197.2 L434.1,197.3 L434.8,197.4 L435.5,197.5 L436.2,197.6 L436.9,197.8 L437.7,198.0 L438.4,198.1 L439.1,198.3 L439.8,198.5 L440.5,198.7 L441.2,198.9 L442.0,199.1 L442.7,199.2 L443.4,199.4 L444.1,199.6 L444.8,199.8 L445.6,200.0 L446.3,200.1 L447.0,200.3 L447.7,200.5 L448.4,200.6 L449.1,200.8 L449.9,201.0 L450.6,201.1 L451.3,201.3 L452.0,201.5 L452.7,201.7 L453.4,201.8 L454.2,202.0 L454.9,202.1 L455.6,202.3 L456.3,202.4 L457.0,202.6 L457.8,202.7 L458.5,202.8 L459.2,202.9 L459.9,203.1 L460.6,203.2 L461.3,203.3 L462.1,203.4 L462.8,203.6 L463.5,203.7 L464.2,203.8 L464.9,203.9 L465.7,204.0 L466.4,204.1 L467.1,204.2 L467.8,204.3 L468.5,204.4 L469.2,204.5 L470.0,204.5 L470.7,204.6 L471.4,204.7 L472.1,204.7 L472.8,204.8 L473.6,204.9 L474.3,204.9 L475.0,205.0 L475.7,205.0 L476.4,205.1 L477.1,205.2 L477.9,205.2 L478.6,205.3 L479.3,205.3 L480.0,205.4 L480.7,205.5 L481.5,205.5 L482.2,205.6 L482.9,205.6 L483.6,205.7 L484.3,205.8 L485.0,205.8 L485.8,205.9 L486.5,205.9 L487.2,206.0 L487.9,206.0 L488.6,206.1 L489.4,206.2 L490.1,206.2 L490.8,206.3 L491.5,206.3 L492.2,206.4 L492.9,206.5 L493.7,206.5 L494.4,206.6 L495.1,206.6 L495.8,206.7 L496.5,206.8 L497.2,206.8 L498.0,206.9 L498.7,207.0 L499.4,207.1 L500.1,207.1 L500.8,207.2 L501.6,207.3 L502.3,207.4 L503.0,207.5 L503.7,207.6 L504.4,207.6 L505.1,207.7 L505.9,207.8 L506.6,207.9 L507.3,208.1 L508.0,208.2 L508.7,208.3 L509.5,208.4 L510.2,208.5 L510.9,208.7 L511.6,208.8 L512.3,208.9 L513.0,209.1 L513.8,209.2 L514.5,209.3 L515.2,209.5 L515.9,209.6 L516.6,209.7 L517.4,209.8 L518.1,210.0 L518.8,210.1 L519.5,210.2 L520.2,210.3 L520.9,210.4 L521.7,210.6 L522.4,210.7 L523.1,210.8 L523.8,210.9 L524.5,211.0 L525.3,211.2 L526.0,211.3 L526.7,211.4 L527.4,211.5 L528.1,211.6 L528.8,211.7 L529.6,211.8 L530.3,211.9 L531.0,212.0 L531.7,212.1 L532.4,212.2 L533.2,212.2 L533.9,212.3 L534.6,212.4 L535.3,212.4 L536.0,212.5 L536.7,212.5 L537.5,212.6 L538.2,212.6 L538.9,212.6 L539.6,212.7 L540.3,212.7 L541.1,212.7 L541.8,212.7 L542.5,212.7 L543.2,212.7 L543.9,212.7 L544.6,212.7 L545.4,212.7 L546.1,212.7 L546.8,212.7 L547.5,212.7 L548.2,212.6 L549.0,212.6 L549.7,212.6 L550.4,212.6 L551.1,212.5 L551.8,212.5 L552.5,212.4 L553.3,212.4 L554.0,212.3 L554.7,212.2 L555.4,212.2 L556.1,212.1 L556.8,212.0 L557.6,212.0 L558.3,211.9 L559.0,211.8 L559.7,211.8 L560.4,211.7 L561.2,211.6 L561.9,211.6 L562.6,211.6 L563.3,211.5 L564.0,211.5 L564.7,211.4 L565.5,211.4 L566.2,211.3 L566.9,211.3 L567.6,211.2 L568.3,211.2 L569.1,211.2 L569.8,211.1 L570.5,211.1 L571.2,211.0 L571.9,211.0 L572.6,210.9 L573.4,210.9 L574.1,210.8 L574.8,210.8 L575.5,210.8 L576.2,210.7 L577.0,210.7 L577.7,210.6 L578.4,210.6 L579.1,210.6 L579.8,210.5 L580.5,210.5 L581.3,210.5 L582.0,210.4 L582.7,210.4 L583.4,210.4 L584.1,210.3 L584.9,210.3 L585.6,210.3 L586.3,210.2 L587.0,210.2 L587.7,210.2 L588.4,210.1 L589.2,210.1 L589.9,210.1 L590.6,210.0 L591.3,210.0 L592.0,210.0 L592.8,209.9 L593.5,209.9 L594.2,209.8 L594.9,209.8 L595.6,209.8 L596.3,209.7 L597.1,209.7 L597.8,209.6 L598.5,209.6 L599.2,209.5 L599.9,209.5 L600.7,209.5 L601.4,209.4 L602.1,209.4 L602.8,209.3 L603.5,209.3 L604.2,209.2 L605.0,209.2 L605.7,209.1 L606.4,209.1 L607.1,209.0 L607.8,209.0 L608.5,208.9 L609.3,208.9 L610.0,208.8 L610.7,208.8 L611.4,208.7 L612.1,208.7 L612.9,208.6 L613.6,208.6 L614.3,208.5 L615.0,208.5 L615.7,208.4 L616.4,208.3 L617.2,208.3 L617.9,208.2 L618.6,208.2 L619.3,208.1 L620.0,208.1 L620.8,208.0 L621.5,208.0 L622.2,207.9 L622.9,207.8 L623.6,207.8 L624.3,207.7 L625.1,207.7 L625.8,207.6 L626.5,207.6"/>
<path d="M238.8,350.2 L239.5,332.7 L240.2,316.2 L240.9,300.9 L241.6,286.7 L242.3,273.5 L243.1,261.4 L243.8,250.4 L244.5,240.5 L245.2,231.8 L245.9,224.8 L246.6,223.7 L247.4,225.2 L248.1,226.8 L248.8,228.5 L249.5,230.2 L250.2,231.8 L251.0,233.4 L251.7,235.0 L252.4,236.5 L253.1,237.9 L253.8,239.2 L254.5,240.4 L255.3,241.5 L256.0,242.4 L256.7,243.3 L257.4,244.1 L258.1,244.7 L258.9,245.3 L259.6,245.7 L260.3,246.0 L261.0,246.3 L261.7,246.4 L262.4,246.5 L263.2,246.4 L263.9,246.3 L264.6,246.1 L265.3,245.9 L266.0,245.5 L266.8,245.2 L267.5,244.7 L268.2,244.3 L268.9,243.7 L269.6,243.2 L270.3,242.6 L271.1,241.9 L271.8,241.3 L272.5,240.6 L273.2,239.9 L273.9,239.2 L274.7,238.5 L275.4,237.7 L276.1,237.0 L276.8,236.2 L277.5,235.5 L278.2,234.8 L279.0,234.1 L279.7,233.4 L280.4,232.7 L281.1,232.0 L281.8,231.3 L282.6,230.7 L283.3,230.1 L284.0,229.5 L284.7,229.0 L285.4,228.5 L286.1,228.0 L286.9,227.5 L287.6,227.1 L288.3,226.7 L289.0,226.4 L289.7,226.1 L290.4,225.8 L291.2,225.5 L291.9,225.4 L292.6,225.2 L293.3,225.1 L294.0,225.0 L294.8,224.9 L295.5,224.9 L296.2,224.9 L296.9,225.0 L297.6,225.0 L298.3,225.1 L299.1,225.2 L299.8,225.4 L300.5,225.5 L301.2,225.7 L301.9,225.9 L302.7,226.1 L303.4,226.3 L304.1,226.5 L304.8,226.7 L305.5,227.0 L306.2,227.2 L307.0,227.4 L307.7,227.6 L308.4,227.8 L309.1,227.9 L309.8,228.1 L310.6,228.2 L311.3,228.3 L312.0,228.4 L312.7,228.4 L313.4,228.4 L314.1,228.4 L314.9,228.4 L315.6,228.3 L316.3,228.1 L317.0,228.0 L317.7,227.7 L318.5,227.5 L319.2,227.2 L319.9,226.8 L320.6,226.5 L321.3,226.0 L322.0,225.6 L322.8,225.0 L323.5,224.5 L324.2,223.9 L324.9,223.2 L325.6,222.6 L326.4,221.8 L327.1,221.1 L327.8,220.3 L328.5,219.5 L329.2,218.7 L329.9,217.8 L330.7,216.9 L331.4,216.0 L332.1,215.1 L332.8,214.1 L333.5,213.2 L334.3,212.2 L335.0,211.3 L335.7,210.3 L336.4,209.3 L337.1,208.4 L337.8,207.4 L338.6,206.5 L339.3,205.6 L340.0,204.7 L340.7,203.8 L341.4,203.0 L342.1,202.2 L342.9,201.4 L343.6,200.7 L344.3,200.0 L345.0,199.4 L345.7,198.8 L346.5,198.2 L347.2,197.7 L347.9,197.2 L348.6,196.8 L349.3,196.4 L350.0,196.0 L350.8,195.7 L351.5,195.5 L352.2,195.3 L352.9,195.1 L353.6,194.9 L354.4,194.8 L355.1,194.7 L355.8,194.6 L356.5,194.6 L357.2,194.6 L357.9,194.7 L358.7,194.7 L359.4,194.8 L360.1,194.9 L360.8,195.1 L361.5,195.2 L362.3,195.4 L363.0,195.5 L363.7,195.7 L364.4,195.9 L365.1,196.0 L365.8,196.2 L366.6,196.4 L367.3,196.5 L368.0,196.7 L368.7,196.8 L369.4,196.9 L370.2,197.1 L370.9,197.2 L371.6,197.4 L372.3,197.5 L373.0,197.6 L373.7,197.7 L374.5,197.8 L375.2,197.9 L375.9,198.0 L376.6,198.1 L377.3,198.1 L378.1,198.2 L378.8,198.2 L379.5,198.2 L380.2,198.2 L380.9,198.2 L381.6,198.1 L382.4,198.1 L383.1,198.0 L383.8,197.9 L384.5,197.9 L385.2,197.8 L386.0,197.7 L386.7,197.7 L387.4,197.6 L388.1,197.5 L388.8,197.4 L389.5,197.3 L390.3,197.3 L391.0,197.2 L391.7,197.1 L392.4,197.0 L393.1,197.0 L393.9,196.9 L394.6,196.8 L395.3,196.8 L396.0,196.7 L396.7,196.7 L397.4,196.6 L398.2,196.6 L398.9,196.6 L399.6,196.5 L400.3,196.5 L401.0,196.5 L401.7,196.5 L402.5,196.4 L403.2,196.4 L403.9,196.4 L404.6,196.4 L405.3,196.4 L406.1,196.4 L406.8,196.4 L407.5,196.4 L408.2,196.4 L408.9,196.4 L409.6,196.4 L410.4,196.4 L411.1,196.4 L411.8,196.4 L412.5,196.4 L413.2,196.5 L414.0,196.5 L414.7,196.5 L415.4,196.6 L416.1,196.6 L416.8,196.6 L417.5,196.7 L418.3,196.7 L419.0,196.8 L419.7,196.8 L420.4,196.9 L421.1,196.9 L421.9,197.0 L422.6,197.0 L423.3,197.1 L424.0,197.1 L424.7,197.2 L425.4,197.3 L426.2,197.4 L426.9,197.4 L427.6,197.5 L428.3,197.6 L429.0,197.7 L429.8,197.8 L430.5,197.9 L431.2,198.0 L431.9,198.1 L432.6,198.2 L433.3,198.3 L434.1,198.4 L434.8,198.6 L435.5,198.7 L436.2,198.9 L436.9,199.1 L437.7,199.3 L438.4,199.5 L439.1,199.7 L439.8,199.9 L440.5,200.1 L441.2,200.3 L442.0,200.5 L442.7,200.7 L443.4,200.9 L444.1,201.1 L444.8,201.3 L445.6,201.4 L446.3,201.6 L447.0,201.8 L447.7,202.0 L448.4,202.1 L449.1,202.3 L449.9,202.5 L450.6,202.7 L451.3,202.8 L452.0,203.0 L452.7,203.1 L453.4,203.3 L454.2,203.4 L454.9,203.6 L455.6,203.7 L456.3,203.9 L457.0,204.0 L457.8,204.1 L458.5,204.2 L459.2,204.4 L459.9,204.5 L460.6,204.6 L461.3,204.7 L462.1,204.8 L462.8,204.9 L463.5,205.0 L464.2,205.1 L464.9,205.2 L465.7,205.3 L466.4,205.4 L467.1,205.5 L467.8,205.6 L468.5,205.7 L469.2,205.7 L470.0,205.8 L470.7,205.9 L471.4,205.9 L472.1,206.0 L472.8,206.1 L473.6,206.1 L474.3,206.2 L475.0,206.3 L475.7,206.3 L476.4,206.4 L477.1,206.4 L477.9,206.5 L478.6,206.6 L479.3,206.6 L480.0,206.7 L480.7,206.8 L481.5,206.8 L482.2,206.9 L482.9,206.9 L483.6,207.0 L484.3,207.1 L485.0,207.1 L485.8,207.2 L486.5,207.2 L487.2,207.3 L487.9,207.4 L488.6,207.4 L489.4,207.5 L490.1,207.5 L490.8,207.6 L491.5,207.6 L492.2,207.7 L492.9,207.8 L493.7,207.8 L494.4,207.9 L495.1,208.0 L495.8,208.1 L496.5,208.2 L497.2,208.2 L498.0,208.3 L498.7,208.4 L499.4,208.5 L500.1,208.6 L500.8,208.7 L501.6,208.8 L502.3,208.9 L503.0,209.0 L503.7,209.1 L504.4,209.3 L505.1,209.4 L505.9,209.5 L506.6,209.6 L507.3,209.8 L508.0,209.9 L508.7,210.0 L509.5,210.2 L510.2,210.3 L510.9,210.5 L511.6,210.6 L512.3,210.8 L513.0,210.9 L513.8,211.1 L514.5,211.2 L515.2,211.4 L515.9,211.5 L516.6,211.6 L517.4,211.7 L518.1,211.8 L518.8,211.9 L519.5,212.1 L520.2,212.2 L520.9,212.3 L521.7,212.4 L522.4,212.5 L523.1,212.6 L523.8,212.7 L524.5,212.8 L525.3,212.9 L526.0,213.0 L526.7,213.1 L527.4,213.1 L528.1,213.2 L528.8,213.3 L529.6,213.4 L530.3,213.4 L531.0,213.5 L531.7,213.6 L532.4,213.6 L533.2,213.7 L533.9,213.7 L534.6,213.7 L535.3,213.7 L536.0,213.7 L536.7,213.7 L537.5,213.7 L538.2,213.7 L538.9,213.7 L539.6,213.7 L540.3,213.7 L541.1,213.6 L541.8,213.6 L542.5,213.6 L543.2,213.5 L543.9,213.5 L544.6,213.4 L545.4,213.4 L546.1,213.3 L546.8,213.3 L547.5,213.2 L548.2,213.2 L549.0,213.1 L549.7,213.0 L550.4,213.0 L551.1,212.9 L551.8,212.8 L552.5,212.7 L553.3,212.6 L554.0,212.5 L554.7,212.4 L555.4,212.3 L556.1,212.2 L556.8,212.1 L557.6,212.0 L558.3,211.9 L559.0,211.8 L559.7,211.7 L560.4,211.6 L561.2,211.5 L561.9,211.5 L562.6,211.4 L563.3,211.3 L564.0,211.3 L564.7,211.2 L565.5,211.1 L566.2,211.1 L566.9,211.0 L567.6,210.9 L568.3,210.9 L569.1,210.8 L569.8,210.7 L570.5,210.7 L571.2,210.6 L571.9,210.5 L572.6,210.5 L573.4,210.4 L574.1,210.4 L574.8,210.3 L575.5,210.2 L576.2,210.2 L577.0,210.1 L577.7,210.1 L578.4,210.0 L579.1,210.0 L579.8,209.9 L580.5,209.9 L581.3,209.8 L582.0,209.8 L582.7,209.7 L583.4,209.7 L584.1,209.6 L584.9,209.6 L585.6,209.5 L586.3,209.5 L587.0,209.4 L587.7,209.4 L588.4,209.3 L589.2,209.3 L589.9,209.2 L590.6,209.2 L591.3,209.1 L592.0,209.1 L592.8,209.0 L593.5,209.0 L594.2,208.9 L594.9,208.9 L595.6,208.8 L596.3,208.7 L597.1,208.7 L597.8,208.6 L598.5,208.6 L599.2,208.5 L599.9,208.5 L600.7,208.4 L601.4,208.4 L602.1,208.3 L602.8,208.2 L603.5,208.2 L604.2,208.1 L605.0,208.1 L605.7,208.0 L606.4,208.0 L607.1,207.9 L607.8,207.8 L608.5,207.8 L609.3,207.7 L610.0,207.7 L610.7,207.6 L611.4,207.5 L612.1,207.5 L612.9,207.4 L613.6,207.4 L614.3,207.3 L615.0,207.3 L615.7,207.2 L616.4,207.1 L617.2,207.1 L617.9,207.0 L618.6,207.0 L619.3,206.9 L620.0,206.8 L620.8,206.8 L621.5,206.7 L622.2,206.7 L622.9,206.6 L623.6,206.6 L624.3,206.5 L625.1,206.4 L625.8,206.4 L626.5,206.3"/>
<path d="M238.8,382.8 L239.5,364.0 L240.2,346.2 L240.9,329.2 L241.6,313.2 L242.3,298.0 L243.1,283.7 L243.8,270.4 L244.5,258.1 L245.2,247.1 L245.9,238.0 L246.6,235.8 L247.4,236.7 L248.1,237.7 L248.8,238.7 L249.5,239.7 L250.2,240.6 L251.0,241.5 L251.7,242.3 L252.4,243.1 L253.1,243.7 L253.8,244.3 L254.5,244.9 L255.3,245.3 L256.0,245.6 L256.7,245.9 L257.4,246.0 L258.1,246.1 L258.9,246.1 L259.6,246.0 L260.3,245.9 L261.0,245.7 L261.7,245.4 L262.4,245.0 L263.2,244.5 L263.9,244.0 L264.6,243.5 L265.3,242.9 L266.0,242.3 L266.8,241.6 L267.5,240.9 L268.2,240.1 L268.9,239.3 L269.6,238.5 L270.3,237.7 L271.1,236.8 L271.8,236.0 L272.5,235.1 L273.2,234.3 L273.9,233.4 L274.7,232.6 L275.4,231.7 L276.1,230.9 L276.8,230.0 L277.5,229.2 L278.2,228.4 L279.0,227.7 L279.7,226.9 L280.4,226.2 L281.1,225.5 L281.8,224.9 L282.6,224.3 L283.3,223.7 L284.0,223.1 L284.7,222.6 L285.4,222.1 L286.1,221.7 L286.9,221.3 L287.6,220.9 L288.3,220.6 L289.0,220.4 L289.7,220.1 L290.4,219.9 L291.2,219.7 L291.9,219.6 L292.6,219.5 L293.3,219.5 L294.0,219.4 L294.8,219.4 L295.5,219.5 L296.2,219.5 L296.9,219.6 L297.6,219.7 L298.3,219.8 L299.1,219.9 L299.8,220.0 L300.5,220.2 L301.2,220.3 L301.9,220.5 L302.7,220.6 L303.4,220.7 L304.1,220.9 L304.8,221.0 L305.5,221.1 L306.2,221.2 L307.0,221.3 L307.7,221.3 L308.4,221.4 L309.1,221.4 L309.8,221.3 L310.6,221.3 L311.3,221.2 L312.0,221.1 L312.7,220.9 L313.4,220.7 L314.1,220.4 L314.9,220.2 L315.6,219.8 L316.3,219.5 L317.0,219.1 L317.7,218.6 L318.5,218.1 L319.2,217.6 L319.9,217.0 L320.6,216.4 L321.3,215.8 L322.0,215.1 L322.8,214.4 L323.5,213.6 L324.2,212.8 L324.9,212.0 L325.6,211.2 L326.4,210.3 L327.1,209.4 L327.8,208.5 L328.5,207.6 L329.2,206.6 L329.9,205.7 L330.7,204.7 L331.4,203.8 L332.1,202.8 L332.8,201.9 L333.5,200.9 L334.3,200.0 L335.0,199.0 L335.7,198.1 L336.4,197.2 L337.1,196.3 L337.8,195.5 L338.6,194.7 L339.3,193.9 L340.0,193.2 L340.7,192.5 L341.4,191.9 L342.1,191.3 L342.9,190.8 L343.6,190.3 L344.3,189.8 L345.0,189.4 L345.7,189.1 L346.5,188.8 L347.2,188.5 L347.9,188.3 L348.6,188.2 L349.3,188.1 L350.0,188.0 L350.8,187.9 L351.5,187.9 L352.2,188.0 L352.9,188.0 L353.6,188.1 L354.4,188.2 L355.1,188.4 L355.8,188.5 L356.5,188.7 L357.2,189.0 L357.9,189.2 L358.7,189.5 L359.4,189.8 L360.1,190.1 L360.8,190.4 L361.5,190.7 L362.3,191.0 L363.0,191.3 L363.7,191.6 L364.4,191.9 L365.1,192.2 L365.8,192.5 L366.6,192.8 L367.3,193.0 L368.0,193.3 L368.7,193.5 L369.4,193.7 L370.2,194.0 L370.9,194.2 L371.6,194.4 L372.3,194.6 L373.0,194.8 L373.7,195.0 L374.5,195.2 L375.2,195.4 L375.9,195.5 L376.6,195.7 L377.3,195.8 L378.1,195.9 L378.8,196.0 L379.5,196.0 L380.2,196.1 L380.9,196.1 L381.6,196.1 L382.4,196.1 L383.1,196.1 L383.8,196.1 L384.5,196.1 L385.2,196.1 L386.0,196.1 L386.7,196.1 L387.4,196.1 L388.1,196.1 L388.8,196.1 L389.5,196.1 L390.3,196.1 L391.0,196.1 L391.7,196.1 L392.4,196.1 L393.1,196.1 L393.9,196.1 L394.6,196.1 L395.3,196.1 L396.0,196.1 L396.7,196.1 L397.4,196.2 L398.2,196.2 L398.9,196.2 L399.6,196.3 L400.3,196.3 L401.0,196.4 L401.7,196.4 L402.5,196.4 L403.2,196.5 L403.9,196.5 L404.6,196.6 L405.3,196.6 L406.1,196.7 L406.8,196.7 L407.5,196.8 L408.2,196.8 L408.9,196.9 L409.6,196.9 L410.4,197.0 L411.1,197.1 L411.8,197.2 L412.5,197.2 L413.2,197.3 L414.0,197.4 L414.7,197.5 L415.4,197.6 L416.1,197.6 L416.8,197.7 L417.5,197.8 L418.3,197.9 L419.0,198.0 L419.7,198.1 L420.4,198.2 L421.1,198.3 L421.9,198.4 L422.6,198.5 L423.3,198.6 L424.0,198.8 L424.7,198.9 L425.4,199.0 L426.2,199.1 L426.9,199.2 L427.6,199.3 L428.3,199.5 L429.0,199.6 L429.8,199.7 L430.5,199.9 L431.2,200.0 L431.9,200.1 L432.6,200.3 L433.3,200.4 L434.1,200.6 L434.8,200.8 L435.5,200.9 L436.2,201.1 L436.9,201.3 L437.7,201.5 L438.4,201.7 L439.1,201.9 L439.8,202.1 L440.5,202.3 L441.2,202.5 L442.0,202.7 L442.7,202.9 L443.4,203.1 L444.1,203.2 L444.8,203.4 L445.6,203.6 L446.3,203.7 L447.0,203.9 L447.7,204.1 L448.4,204.2 L449.1,204.4 L449.9,204.5 L450.6,204.7 L451.3,204.8 L452.0,204.9 L452.7,205.1 L453.4,205.2 L454.2,205.3 L454.9,205.4 L455.6,205.6 L456.3,205.7 L457.0,205.8 L457.8,205.9 L458.5,206.0 L459.2,206.1 L459.9,206.2 L460.6,206.3 L461.3,206.3 L462.1,206.4 L462.8,206.5 L463.5,206.6 L464.2,206.7 L464.9,206.7 L465.7,206.8 L466.4,206.9 L467.1,206.9 L467.8,207.0 L468.5,207.1 L469.2,207.1 L470.0,207.2 L470.7,207.2 L471.4,207.3 L472.1,207.4 L472.8,207.4 L473.6,207.5 L474.3,207.5 L475.0,207.6 L475.7,207.7 L476.4,207.7 L477.1,207.8 L477.9,207.8 L478.6,207.9 L479.3,207.9 L480.0,208.0 L480.7,208.1 L481.5,208.1 L482.2,208.2 L482.9,208.2 L483.6,208.3 L484.3,208.3 L485.0,208.4 L485.8,208.4 L486.5,208.5 L487.2,208.5 L487.9,208.6 L488.6,208.6 L489.4,208.7 L490.1,208.7 L490.8,208.8 L491.5,208.8 L492.2,208.9 L492.9,209.0 L493.7,209.0 L494.4,209.1 L495.1,209.2 L495.8,209.3 L496.5,209.4 L497.2,209.5 L498.0,209.6 L498.7,209.7 L499.4,209.8 L500.1,209.9 L500.8,210.0 L501.6,210.1 L502.3,210.2 L503.0,210.3 L503.7,210.5 L504.4,210.6 L505.1,210.7 L505.9,210.8 L506.6,211.0 L507.3,211.1 L508.0,211.2 L508.7,211.4 L509.5,211.6 L510.2,211.7 L510.9,211.9 L511.6,212.0 L512.3,212.2 L513.0,212.3 L513.8,212.4 L514.5,212.6 L515.2,212.7 L515.9,212.8 L516.6,212.9 L517.4,213.0 L518.1,213.1 L518.8,213.2 L519.5,213.3 L520.2,213.4 L520.9,213.4 L521.7,213.5 L522.4,213.6 L523.1,213.7 L523.8,213.7 L524.5,213.8 L525.3,213.9 L526.0,213.9 L526.7,214.0 L527.4,214.0 L528.1,214.1 L528.8,214.1 L529.6,214.2 L530.3,214.2 L531.0,214.2 L531.7,214.2 L532.4,214.2 L533.2,214.2 L533.9,214.2 L534.6,214.2 L535.3,214.2 L536.0,214.1 L536.7,214.1 L537.5,214.1 L538.2,214.0 L538.9,214.0 L539.6,213.9 L540.3,213.8 L541.1,213.8 L541.8,213.7 L542.5,213.6 L543.2,213.5 L543.9,213.4 L544.6,213.4 L545.4,213.3 L546.1,213.2 L546.8,213.1 L547.5,213.0 L548.2,212.9 L549.0,212.8 L549.7,212.7 L550.4,212.6 L551.1,212.5 L551.8,212.4 L552.5,212.3 L553.3,212.2 L554.0,212.0 L554.7,211.9 L555.4,211.8 L556.1,211.7 L556.8,211.5 L557.6,211.4 L558.3,211.3 L559.0,211.2 L559.7,211.1 L560.4,211.0 L561.2,210.9 L561.9,210.8 L562.6,210.7 L563.3,210.6 L564.0,210.5 L564.7,210.4 L565.5,210.4 L566.2,210.3 L566.9,210.2 L567.6,210.1 L568.3,210.0 L569.1,210.0 L569.8,209.9 L570.5,209.8 L571.2,209.7 L571.9,209.7 L572.6,209.6 L573.4,209.5 L574.1,209.4 L574.8,209.4 L575.5,209.3 L576.2,209.2 L577.0,209.2 L577.7,209.1 L578.4,209.0 L579.1,209.0 L579.8,208.9 L580.5,208.8 L581.3,208.8 L582.0,208.7 L582.7,208.7 L583.4,208.6 L584.1,208.5 L584.9,208.5 L585.6,208.4 L586.3,208.4 L587.0,208.3 L587.7,208.2 L588.4,208.2 L589.2,208.1 L589.9,208.1 L590.6,208.0 L591.3,207.9 L592.0,207.9 L592.8,207.8 L593.5,207.8 L594.2,207.7 L594.9,207.6 L595.6,207.6 L596.3,207.5 L597.1,207.5 L597.8,207.4 L598.5,207.3 L599.2,207.3 L599.9,207.2 L600.7,207.2 L601.4,207.1 L602.1,207.0 L602.8,207.0 L603.5,206.9 L604.2,206.9 L605.0,206.8 L605.7,206.7 L606.4,206.7 L607.1,206.6 L607.8,206.6 L608.5,206.5 L609.3,206.4 L610.0,206.4 L610.7,206.3 L611.4,206.3 L612.1,206.2 L612.9,206.2 L613.6,206.1 L614.3,206.0 L615.0,206.0 L615.7,205.9 L616.4,205.9 L617.2,205.8 L617.9,205.8 L618.6,205.7 L619.3,205.7 L620.0,205.6 L620.8,205.6 L621.5,205.5 L622.2,205.4 L622.9,205.4 L623.6,205.3 L624.3,205.3 L625.1,205.2 L625.8,205.2 L626.5,205.1"/>
<path d="M238.8,394.1 L239.5,376.4 L240.2,359.3 L240.9,342.8 L241.6,326.8 L242.3,311.4 L243.1,296.6 L243.8,282.7 L244.5,269.6 L245.2,257.6 L245.9,247.4 L246.6,244.4 L247.4,244.6 L248.1,244.9 L248.8,245.1 L249.5,245.2 L250.2,245.3 L251.0,245.4 L251.7,245.4 L252.4,245.3 L253.1,245.2 L253.8,245.0 L254.5,244.7 L255.3,244.5 L256.0,244.1 L256.7,243.7 L257.4,243.3 L258.1,242.8 L258.9,242.2 L259.6,241.7 L260.3,241.0 L261.0,240.3 L261.7,239.6 L262.4,238.9 L263.2,238.1 L263.9,237.3 L264.6,236.4 L265.3,235.6 L266.0,234.7 L266.8,233.8 L267.5,232.9 L268.2,231.9 L268.9,231.0 L269.6,230.0 L270.3,229.1 L271.1,228.1 L271.8,227.2 L272.5,226.3 L273.2,225.3 L273.9,224.4 L274.7,223.5 L275.4,222.7 L276.1,221.8 L276.8,221.0 L277.5,220.2 L278.2,219.5 L279.0,218.8 L279.7,218.1 L280.4,217.4 L281.1,216.8 L281.8,216.2 L282.6,215.7 L283.3,215.2 L284.0,214.7 L284.7,214.3 L285.4,214.0 L286.1,213.6 L286.9,213.3 L287.6,213.1 L288.3,212.9 L289.0,212.7 L289.7,212.6 L290.4,212.5 L291.2,212.4 L291.9,212.3 L292.6,212.3 L293.3,212.3 L294.0,212.4 L294.8,212.4 L295.5,212.5 L296.2,212.6 L296.9,212.6 L297.6,212.7 L298.3,212.9 L299.1,213.0 L299.8,213.1 L300.5,213.2 L301.2,213.3 L301.9,213.3 L302.7,213.4 L303.4,213.5 L304.1,213.5 L304.8,213.5 L305.5,213.5 L306.2,213.5 L307.0,213.4 L307.7,213.3 L308.4,213.2 L309.1,213.0 L309.8,212.8 L310.6,212.6 L311.3,212.3 L312.0,212.0 L312.7,211.7 L313.4,211.3 L314.1,210.8 L314.9,210.4 L315.6,209.8 L316.3,209.3 L317.0,208.7 L317.7,208.1 L318.5,207.4 L319.2,206.7 L319.9,206.0 L320.6,205.2 L321.3,204.4 L322.0,203.6 L322.8,202.8 L323.5,201.9 L324.2,201.0 L324.9,200.2 L325.6,199.2 L326.4,198.3 L327.1,197.4 L327.8,196.5 L328.5,195.6 L329.2,194.6 L329.9,193.7 L330.7,192.8 L331.4,191.9 L332.1,191.0 L332.8,190.2 L333.5,189.3 L334.3,188.5 L335.0,187.7 L335.7,187.0 L336.4,186.2 L337.1,185.6 L337.8,184.9 L338.6,184.4 L339.3,183.8 L340.0,183.4 L340.7,182.9 L341.4,182.6 L342.1,182.3 L342.9,182.0 L343.6,181.8 L344.3,181.7 L345.0,181.6 L345.7,181.5 L346.5,181.5 L347.2,181.6 L347.9,181.7 L348.6,181.8 L349.3,182.0 L350.0,182.2 L350.8,182.4 L351.5,182.7 L352.2,182.9 L352.9,183.3 L353.6,183.6 L354.4,183.9 L355.1,184.3 L355.8,184.6 L356.5,185.0 L357.2,185.4 L357.9,185.9 L358.7,186.3 L359.4,186.8 L360.1,187.2 L360.8,187.7 L361.5,188.1 L362.3,188.5 L363.0,189.0 L363.7,189.4 L364.4,189.8 L365.1,190.2 L365.8,190.5 L366.6,190.9 L367.3,191.2 L368.0,191.5 L368.7,191.8 L369.4,192.1 L370.2,192.4 L370.9,192.7 L371.6,193.0 L372.3,193.2 L373.0,193.5 L373.7,193.7 L374.5,194.0 L375.2,194.2 L375.9,194.4 L376.6,194.6 L377.3,194.7 L378.1,194.9 L378.8,195.0 L379.5,195.1 L380.2,195.2 L380.9,195.3 L381.6,195.3 L382.4,195.4 L383.1,195.5 L383.8,195.5 L384.5,195.6 L385.2,195.6 L386.0,195.7 L386.7,195.8 L387.4,195.8 L388.1,195.9 L388.8,196.0 L389.5,196.1 L390.3,196.1 L391.0,196.2 L391.7,196.3 L392.4,196.4 L393.1,196.5 L393.9,196.6 L394.6,196.6 L395.3,196.7 L396.0,196.8 L396.7,196.9 L397.4,197.0 L398.2,197.1 L398.9,197.2 L399.6,197.3 L400.3,197.4 L401.0,197.5 L401.7,197.6 L402.5,197.7 L403.2,197.8 L403.9,197.8 L404.6,197.9 L405.3,198.0 L406.1,198.1 L406.8,198.2 L407.5,198.4 L408.2,198.5 L408.9,198.6 L409.6,198.7 L410.4,198.8 L411.1,198.9 L411.8,199.0 L412.5,199.2 L413.2,199.3 L414.0,199.4 L414.7,199.5 L415.4,199.7 L416.1,199.8 L416.8,199.9 L417.5,200.1 L418.3,200.2 L419.0,200.3 L419.7,200.5 L420.4,200.6 L421.1,200.7 L421.9,200.9 L422.6,201.0 L423.3,201.2 L424.0,201.3 L424.7,201.5 L425.4,201.6 L426.2,201.8 L426.9,201.9 L427.6,202.1 L428.3,202.2 L429.0,202.4 L429.8,202.5 L430.5,202.7 L431.2,202.8 L431.9,203.0 L432.6,203.2 L433.3,203.3 L434.1,203.5 L434.8,203.7 L435.5,203.8 L436.2,204.0 L436.9,204.2 L437.7,204.4 L438.4,204.5 L439.1,204.7 L439.8,204.9 L440.5,205.1 L441.2,205.2 L442.0,205.4 L442.7,205.5 L443.4,205.7 L444.1,205.8 L444.8,206.0 L445.6,206.1 L446.3,206.2 L447.0,206.3 L447.7,206.5 L448.4,206.6 L449.1,206.7 L449.9,206.8 L450.6,206.9 L451.3,207.0 L452.0,207.1 L452.7,207.2 L453.4,207.3 L454.2,207.4 L454.9,207.4 L455.6,207.5 L456.3,207.6 L457.0,207.7 L457.8,207.7 L458.5,207.8 L459.2,207.9 L459.9,207.9 L460.6,208.0 L461.3,208.0 L462.1,208.1 L462.8,208.1 L463.5,208.2 L464.2,208.2 L464.9,208.2 L465.7,208.3 L466.4,208.3 L467.1,208.4 L467.8,208.4 L468.5,208.4 L469.2,208.5 L470.0,208.5 L470.7,208.6 L471.4,208.6 L472.1,208.7 L472.8,208.7 L473.6,208.7 L474.3,208.8 L475.0,208.8 L475.7,208.9 L476.4,208.9 L477.1,209.0 L477.9,209.0 L478.6,209.1 L479.3,209.1 L480.0,209.2 L480.7,209.2 L481.5,209.2 L482.2,209.3 L482.9,209.3 L483.6,209.4 L484.3,209.4 L485.0,209.4 L485.8,209.5 L486.5,209.5 L487.2,209.6 L487.9,209.6 L488.6,209.6 L489.4,209.7 L490.1,209.7 L490.8,209.7 L491.5,209.8 L492.2,209.8 L492.9,209.9 L493.7,210.0 L494.4,210.0 L495.1,210.1 L495.8,210.2 L496.5,210.3 L497.2,210.4 L498.0,210.5 L498.7,210.6 L499.4,210.7 L500.1,210.8 L500.8,210.9 L501.6,211.0 L502.3,211.1 L503.0,211.2 L503.7,211.3 L504.4,211.4 L505.1,211.5 L505.9,211.7 L506.6,211.8 L507.3,211.9 L508.0,212.1 L508.7,212.2 L509.5,212.3 L510.2,212.5 L510.9,212.6 L511.6,212.8 L512.3,212.9 L513.0,213.0 L513.8,213.1 L514.5,213.2 L515.2,213.3 L515.9,213.4 L516.6,213.5 L517.4,213.5 L518.1,213.6 L518.8,213.6 L519.5,213.7 L520.2,213.8 L520.9,213.8 L521.7,213.8 L522.4,213.9 L523.1,213.9 L523.8,213.9 L524.5,214.0 L525.3,214.0 L526.0,214.0 L526.7,214.0 L527.4,214.0 L528.1,214.0 L528.8,214.0 L529.6,214.0 L530.3,214.0 L531.0,214.0 L531.7,214.0 L532.4,213.9 L533.2,213.9 L533.9,213.9 L534.6,213.8 L535.3,213.7 L536.0,213.7 L536.7,213.6 L537.5,213.5 L538.2,213.4 L538.9,213.3 L539.6,213.2 L540.3,213.1 L541.1,213.0 L541.8,212.9 L542.5,212.8 L543.2,212.7 L543.9,212.6 L544.6,212.5 L545.4,212.4 L546.1,212.3 L546.8,212.1 L547.5,212.0 L548.2,211.9 L549.0,211.8 L549.7,211.7 L550.4,211.6 L551.1,211.4 L551.8,211.3 L552.5,211.2 L553.3,211.1 L554.0,210.9 L554.7,210.8 L555.4,210.7 L556.1,210.5 L556.8,210.4 L557.6,210.3 L558.3,210.1 L559.0,210.0 L559.7,209.9 L560.4,209.8 L561.2,209.7 L561.9,209.6 L562.6,209.5 L563.3,209.4 L564.0,209.3 L564.7,209.2 L565.5,209.2 L566.2,209.1 L566.9,209.0 L567.6,208.9 L568.3,208.8 L569.1,208.7 L569.8,208.7 L570.5,208.6 L571.2,208.5 L571.9,208.4 L572.6,208.3 L573.4,208.3 L574.1,208.2 L574.8,208.1 L575.5,208.1 L576.2,208.0 L577.0,207.9 L577.7,207.8 L578.4,207.8 L579.1,207.7 L579.8,207.6 L580.5,207.6 L581.3,207.5 L582.0,207.4 L582.7,207.4 L583.4,207.3 L584.1,207.3 L584.9,207.2 L585.6,207.1 L586.3,207.1 L587.0,207.0 L587.7,206.9 L588.4,206.9 L589.2,206.8 L589.9,206.8 L590.6,206.7 L591.3,206.6 L592.0,206.6 L592.8,206.5 L593.5,206.5 L594.2,206.4 L594.9,206.3 L595.6,206.3 L596.3,206.2 L597.1,206.2 L597.8,206.1 L598.5,206.0 L599.2,206.0 L599.9,205.9 L600.7,205.9 L601.4,205.8 L602.1,205.8 L602.8,205.7 L603.5,205.6 L604.2,205.6 L605.0,205.5 L605.7,205.5 L606.4,205.4 L607.1,205.4 L607.8,205.3 L608.5,205.3 L609.3,205.2 L610.0,205.2 L610.7,205.1 L611.4,205.1 L612.1,205.0 L612.9,205.0 L613.6,204.9 L614.3,204.9 L615.0,204.8 L615.7,204.8 L616.4,204.7 L617.2,204.7 L617.9,204.6 L618.6,204.6 L619.3,204.6 L620.0,204.5 L620.8,204.5 L621.5,204.4 L622.2,204.4 L622.9,204.3 L623.6,204.3 L624.3,204.3 L625.1,204.2 L625.8,204.2 L626.5,204.2"/>
<path d="M238.8,382.8 L239.5,368.4 L240.2,354.1 L240.9,339.9 L241.6,325.9 L242.3,312.2 L243.1,298.8 L243.8,285.8 L244.5,273.4 L245.2,261.9 L245.9,251.8 L246.6,248.4 L247.4,248.0 L248.1,247.5 L248.8,246.8 L249.5,246.1 L250.2,245.4 L251.0,244.6 L251.7,243.7 L252.4,242.9 L253.1,241.9 L253.8,241.0 L254.5,240.1 L255.3,239.1 L256.0,238.1 L256.7,237.1 L257.4,236.1 L258.1,235.1 L258.9,234.1 L259.6,233.1 L260.3,232.0 L261.0,231.0 L261.7,230.0 L262.4,228.9 L263.2,227.9 L263.9,226.8 L264.6,225.8 L265.3,224.8 L266.0,223.7 L266.8,222.7 L267.5,221.7 L268.2,220.7 L268.9,219.7 L269.6,218.7 L270.3,217.8 L271.1,216.8 L271.8,215.9 L272.5,215.0 L273.2,214.2 L273.9,213.3 L274.7,212.5 L275.4,211.7 L276.1,211.0 L276.8,210.3 L277.5,209.6 L278.2,209.0 L279.0,208.4 L279.7,207.8 L280.4,207.3 L281.1,206.9 L281.8,206.4 L282.6,206.0 L283.3,205.7 L284.0,205.4 L284.7,205.1 L285.4,204.9 L286.1,204.7 L286.9,204.6 L287.6,204.5 L288.3,204.4 L289.0,204.3 L289.7,204.3 L290.4,204.3 L291.2,204.3 L291.9,204.4 L292.6,204.4 L293.3,204.5 L294.0,204.6 L294.8,204.7 L295.5,204.8 L296.2,204.9 L296.9,205.0 L297.6,205.1 L298.3,205.2 L299.1,205.3 L299.8,205.4 L300.5,205.4 L301.2,205.4 L301.9,205.4 L302.7,205.4 L303.4,205.4 L304.1,205.3 L304.8,205.2 L305.5,205.1 L306.2,204.9 L307.0,204.7 L307.7,204.5 L308.4,204.2 L309.1,203.9 L309.8,203.6 L310.6,203.2 L311.3,202.8 L312.0,202.3 L312.7,201.8 L313.4,201.3 L314.1,200.7 L314.9,200.1 L315.6,199.5 L316.3,198.8 L317.0,198.1 L317.7,197.4 L318.5,196.6 L319.2,195.8 L319.9,195.0 L320.6,194.2 L321.3,193.4 L322.0,192.5 L322.8,191.7 L323.5,190.8 L324.2,190.0 L324.9,189.1 L325.6,188.2 L326.4,187.4 L327.1,186.5 L327.8,185.7 L328.5,184.9 L329.2,184.1 L329.9,183.3 L330.7,182.5 L331.4,181.8 L332.1,181.1 L332.8,180.5 L333.5,179.8 L334.3,179.3 L335.0,178.7 L335.7,178.2 L336.4,177.7 L337.1,177.3 L337.8,177.0 L338.6,176.7 L339.3,176.5 L340.0,176.3 L340.7,176.2 L341.4,176.2 L342.1,176.2 L342.9,176.3 L343.6,176.4 L344.3,176.5 L345.0,176.8 L345.7,177.0 L346.5,177.3 L347.2,177.7 L347.9,178.0 L348.6,178.4 L349.3,178.9 L350.0,179.3 L350.8,179.8 L351.5,180.3 L352.2,180.8 L352.9,181.3 L353.6,181.8 L354.4,182.4 L355.1,182.9 L355.8,183.4 L356.5,183.9 L357.2,184.5 L357.9,185.1 L358.7,185.6 L359.4,186.2 L360.1,186.7 L360.8,187.2 L361.5,187.8 L362.3,188.3 L363.0,188.8 L363.7,189.2 L364.4,189.7 L365.1,190.1 L365.8,190.5 L366.6,190.9 L367.3,191.3 L368.0,191.6 L368.7,191.9 L369.4,192.3 L370.2,192.6 L370.9,192.9 L371.6,193.2 L372.3,193.5 L373.0,193.7 L373.7,194.0 L374.5,194.3 L375.2,194.5 L375.9,194.7 L376.6,194.9 L377.3,195.1 L378.1,195.3 L378.8,195.5 L379.5,195.6 L380.2,195.8 L380.9,195.9 L381.6,196.0 L382.4,196.1 L383.1,196.2 L383.8,196.3 L384.5,196.4 L385.2,196.5 L386.0,196.7 L386.7,196.8 L387.4,196.9 L388.1,197.1 L388.8,197.2 L389.5,197.3 L390.3,197.5 L391.0,197.7 L391.7,197.8 L392.4,198.0 L393.1,198.1 L393.9,198.3 L394.6,198.4 L395.3,198.6 L396.0,198.7 L396.7,198.9 L397.4,199.0 L398.2,199.2 L398.9,199.3 L399.6,199.4 L400.3,199.6 L401.0,199.7 L401.7,199.9 L402.5,200.0 L403.2,200.1 L403.9,200.3 L404.6,200.4 L405.3,200.5 L406.1,200.7 L406.8,200.8 L407.5,201.0 L408.2,201.1 L408.9,201.3 L409.6,201.4 L410.4,201.6 L411.1,201.7 L411.8,201.9 L412.5,202.0 L413.2,202.2 L414.0,202.3 L414.7,202.5 L415.4,202.6 L416.1,202.8 L416.8,202.9 L417.5,203.1 L418.3,203.3 L419.0,203.4 L419.7,203.6 L420.4,203.7 L421.1,203.9 L421.9,204.1 L422.6,204.2 L423.3,204.4 L424.0,204.5 L424.7,204.7 L425.4,204.9 L426.2,205.0 L426.9,205.2 L427.6,205.4 L428.3,205.5 L429.0,205.7 L429.8,205.8 L430.5,206.0 L431.2,206.2 L431.9,206.3 L432.6,206.5 L433.3,206.6 L434.1,206.8 L434.8,206.9 L435.5,207.1 L436.2,207.2 L436.9,207.4 L437.7,207.5 L438.4,207.6 L439.1,207.8 L439.8,207.9 L440.5,208.0 L441.2,208.1 L442.0,208.2 L442.7,208.3 L443.4,208.4 L444.1,208.5 L444.8,208.6 L445.6,208.7 L446.3,208.8 L447.0,208.8 L447.7,208.9 L448.4,209.0 L449.1,209.0 L449.9,209.1 L450.6,209.1 L451.3,209.2 L452.0,209.2 L452.7,209.3 L453.4,209.3 L454.2,209.3 L454.9,209.4 L455.6,209.4 L456.3,209.4 L457.0,209.4 L457.8,209.5 L458.5,209.5 L459.2,209.5 L459.9,209.5 L460.6,209.5 L461.3,209.6 L462.1,209.6 L462.8,209.6 L463.5,209.6 L464.2,209.6 L464.9,209.6 L465.7,209.6 L466.4,209.6 L467.1,209.6 L467.8,209.6 L468.5,209.6 L469.2,209.6 L470.0,209.6 L470.7,209.6 L471.4,209.7 L472.1,209.7 L472.8,209.7 L473.6,209.8 L474.3,209.8 L475.0,209.8 L475.7,209.9 L476.4,209.9 L477.1,209.9 L477.9,209.9 L478.6,210.0 L479.3,210.0 L480.0,210.0 L480.7,210.0 L481.5,210.1 L482.2,210.1 L482.9,210.1 L483.6,210.1 L484.3,210.2 L485.0,210.2 L485.8,210.2 L486.5,210.2 L487.2,210.2 L487.9,210.3 L488.6,210.3 L489.4,210.3 L490.1,210.3 L490.8,210.3 L491.5,210.4 L492.2,210.4 L492.9,210.4 L493.7,210.5 L494.4,210.5 L495.1,210.6 L495.8,210.7 L496.5,210.8 L497.2,210.8 L498.0,210.9 L498.7,211.0 L499.4,211.1 L500.1,211.2 L500.8,211.3 L501.6,211.4 L502.3,211.5 L503.0,211.5 L503.7,211.6 L504.4,211.7 L505.1,211.8 L505.9,211.9 L506.6,212.0 L507.3,212.1 L508.0,212.2 L508.7,212.3 L509.5,212.4 L510.2,212.6 L510.9,212.7 L511.6,212.8 L512.3,212.9 L513.0,213.0 L513.8,213.0 L514.5,213.1 L515.2,213.2 L515.9,213.2 L516.6,213.2 L517.4,213.2 L518.1,213.3 L518.8,213.3 L519.5,213.3 L520.2,213.3 L520.9,213.3 L521.7,213.3 L522.4,213.3 L523.1,213.3 L523.8,213.3 L524.5,213.3 L525.3,213.3 L526.0,213.2 L526.7,213.2 L527.4,213.2 L528.1,213.1 L528.8,213.1 L529.6,213.0 L530.3,213.0 L531.0,212.9 L531.7,212.9 L532.4,212.8 L533.2,212.7 L533.9,212.6 L534.6,212.5 L535.3,212.4 L536.0,212.3 L536.7,212.2 L537.5,212.1 L538.2,212.0 L538.9,211.9 L539.6,211.8 L540.3,211.7 L541.1,211.5 L541.8,211.4 L542.5,211.3 L543.2,211.2 L543.9,211.0 L544.6,210.9 L545.4,210.8 L546.1,210.7 L546.8,210.5 L547.5,210.4 L548.2,210.3 L549.0,210.2 L549.7,210.1 L550.4,209.9 L551.1,209.8 L551.8,209.7 L552.5,209.6 L553.3,209.4 L554.0,209.3 L554.7,209.2 L555.4,209.1 L556.1,208.9 L556.8,208.8 L557.6,208.7 L558.3,208.6 L559.0,208.5 L559.7,208.4 L560.4,208.3 L561.2,208.2 L561.9,208.1 L562.6,208.0 L563.3,207.9 L564.0,207.8 L564.7,207.7 L565.5,207.7 L566.2,207.6 L566.9,207.5 L567.6,207.4 L568.3,207.3 L569.1,207.3 L569.8,207.2 L570.5,207.1 L571.2,207.1 L571.9,207.0 L572.6,206.9 L573.4,206.8 L574.1,206.8 L574.8,206.7 L575.5,206.6 L576.2,206.6 L577.0,206.5 L577.7,206.5 L578.4,206.4 L579.1,206.3 L579.8,206.3 L580.5,206.2 L581.3,206.1 L582.0,206.1 L582.7,206.0 L583.4,206.0 L584.1,205.9 L584.9,205.8 L585.6,205.8 L586.3,205.7 L587.0,205.7 L587.7,205.6 L588.4,205.6 L589.2,205.5 L589.9,205.4 L590.6,205.4 L591.3,205.3 L592.0,205.3 L592.8,205.2 L593.5,205.2 L594.2,205.1 L594.9,205.1 L595.6,205.0 L596.3,205.0 L597.1,204.9 L597.8,204.9 L598.5,204.8 L599.2,204.8 L599.9,204.7 L600.7,204.7 L601.4,204.6 L602.1,204.6 L602.8,204.5 L603.5,204.5 L604.2,204.4 L605.0,204.4 L605.7,204.4 L606.4,204.3 L607.1,204.3 L607.8,204.2 L608.5,204.2 L609.3,204.2 L610.0,204.1 L610.7,204.1 L611.4,204.1 L612.1,204.0 L612.9,204.0 L613.6,203.9 L614.3,203.9 L615.0,203.9 L615.7,203.9 L616.4,203.8 L617.2,203.8 L617.9,203.8 L618.6,203.7 L619.3,203.7 L620.0,203.7 L620.8,203.7 L621.5,203.6 L622.2,203.6 L622.9,203.6 L623.6,203.6 L624.3,203.5 L625.1,203.5 L625.8,203.5 L626.5,203.5"/>
<path d="M238.8,350.2 L239.5,340.8 L240.2,331.0 L240.9,321.0 L241.6,310.7 L242.3,300.2 L243.1,289.8 L243.8,279.4 L244.5,269.2 L245.2,259.6 L245.9,250.9 L246.6,247.4 L247.4,246.3 L248.1,245.1 L248.8,243.7 L249.5,242.3 L250.2,240.8 L251.0,239.2 L251.7,237.7 L252.4,236.1 L253.1,234.5 L253.8,232.9 L254.5,231.3 L255.3,229.8 L256.0,228.3 L256.7,226.8 L257.4,225.4 L258.1,224.0 L258.9,222.6 L259.6,221.3 L260.3,220.0 L261.0,218.7 L261.7,217.5 L262.4,216.3 L263.2,215.1 L263.9,214.0 L264.6,212.9 L265.3,211.8 L266.0,210.8 L266.8,209.7 L267.5,208.8 L268.2,207.8 L268.9,206.9 L269.6,206.0 L270.3,205.2 L271.1,204.3 L271.8,203.5 L272.5,202.8 L273.2,202.1 L273.9,201.4 L274.7,200.8 L275.4,200.2 L276.1,199.6 L276.8,199.1 L277.5,198.6 L278.2,198.2 L279.0,197.8 L279.7,197.5 L280.4,197.2 L281.1,196.9 L281.8,196.7 L282.6,196.5 L283.3,196.3 L284.0,196.2 L284.7,196.1 L285.4,196.1 L286.1,196.1 L286.9,196.1 L287.6,196.1 L288.3,196.2 L289.0,196.2 L289.7,196.3 L290.4,196.5 L291.2,196.6 L291.9,196.7 L292.6,196.8 L293.3,197.0 L294.0,197.1 L294.8,197.2 L295.5,197.4 L296.2,197.5 L296.9,197.6 L297.6,197.7 L298.3,197.7 L299.1,197.8 L299.8,197.8 L300.5,197.8 L301.2,197.8 L301.9,197.7 L302.7,197.6 L303.4,197.5 L304.1,197.3 L304.8,197.1 L305.5,196.9 L306.2,196.6 L307.0,196.3 L307.7,196.0 L308.4,195.6 L309.1,195.2 L309.8,194.7 L310.6,194.2 L311.3,193.7 L312.0,193.2 L312.7,192.6 L313.4,192.0 L314.1,191.3 L314.9,190.7 L315.6,190.0 L316.3,189.3 L317.0,188.5 L317.7,187.8 L318.5,187.0 L319.2,186.3 L319.9,185.5 L320.6,184.7 L321.3,183.9 L322.0,183.2 L322.8,182.4 L323.5,181.6 L324.2,180.9 L324.9,180.2 L325.6,179.4 L326.4,178.8 L327.1,178.1 L327.8,177.4 L328.5,176.8 L329.2,176.3 L329.9,175.7 L330.7,175.2 L331.4,174.8 L332.1,174.3 L332.8,173.9 L333.5,173.6 L334.3,173.3 L335.0,173.1 L335.7,172.9 L336.4,172.7 L337.1,172.6 L337.8,172.6 L338.6,172.7 L339.3,172.8 L340.0,173.0 L340.7,173.2 L341.4,173.5 L342.1,173.8 L342.9,174.2 L343.6,174.6 L344.3,175.1 L345.0,175.6 L345.7,176.1 L346.5,176.7 L347.2,177.3 L347.9,177.9 L348.6,178.5 L349.3,179.1 L350.0,179.8 L350.8,180.5 L351.5,181.1 L352.2,181.8 L352.9,182.4 L353.6,183.1 L354.4,183.7 L355.1,184.4 L355.8,185.0 L356.5,185.6 L357.2,186.2 L357.9,186.9 L358.7,187.5 L359.4,188.0 L360.1,188.6 L360.8,189.2 L361.5,189.7 L362.3,190.2 L363.0,190.7 L363.7,191.2 L364.4,191.6 L365.1,192.0 L365.8,192.4 L366.6,192.8 L367.3,193.2 L368.0,193.5 L368.7,193.8 L369.4,194.1 L370.2,194.4 L370.9,194.7 L371.6,195.0 L372.3,195.3 L373.0,195.6 L373.7,195.8 L374.5,196.1 L375.2,196.3 L375.9,196.5 L376.6,196.7 L377.3,196.9 L378.1,197.1 L378.8,197.3 L379.5,197.5 L380.2,197.6 L380.9,197.8 L381.6,197.9 L382.4,198.0 L383.1,198.2 L383.8,198.3 L384.5,198.5 L385.2,198.7 L386.0,198.8 L386.7,199.0 L387.4,199.2 L388.1,199.4 L388.8,199.6 L389.5,199.8 L390.3,200.0 L391.0,200.2 L391.7,200.4 L392.4,200.6 L393.1,200.8 L393.9,201.0 L394.6,201.2 L395.3,201.4 L396.0,201.6 L396.7,201.8 L397.4,201.9 L398.2,202.1 L398.9,202.3 L399.6,202.5 L400.3,202.6 L401.0,202.8 L401.7,203.0 L402.5,203.1 L403.2,203.3 L403.9,203.5 L404.6,203.6 L405.3,203.8 L406.1,203.9 L406.8,204.1 L407.5,204.3 L408.2,204.4 L408.9,204.6 L409.6,204.8 L410.4,204.9 L411.1,205.1 L411.8,205.3 L412.5,205.4 L413.2,205.6 L414.0,205.8 L414.7,205.9 L415.4,206.1 L416.1,206.3 L416.8,206.4 L417.5,206.6 L418.3,206.8 L419.0,206.9 L419.7,207.1 L420.4,207.2 L421.1,207.4 L421.9,207.6 L422.6,207.7 L423.3,207.9 L424.0,208.0 L424.7,208.2 L425.4,208.4 L426.2,208.5 L426.9,208.7 L427.6,208.8 L428.3,209.0 L429.0,209.1 L429.8,209.3 L430.5,209.4 L431.2,209.5 L431.9,209.7 L432.6,209.8 L433.3,210.0 L434.1,210.1 L434.8,210.2 L435.5,210.3 L436.2,210.4 L436.9,210.5 L437.7,210.6 L438.4,210.6 L439.1,210.7 L439.8,210.8 L440.5,210.8 L441.2,210.9 L442.0,210.9 L442.7,210.9 L443.4,211.0 L444.1,211.0 L444.8,211.0 L445.6,211.0 L446.3,211.1 L447.0,211.1 L447.7,211.1 L448.4,211.1 L449.1,211.1 L449.9,211.1 L450.6,211.1 L451.3,211.1 L452.0,211.1 L452.7,211.0 L453.4,211.0 L454.2,211.0 L454.9,211.0 L455.6,210.9 L456.3,210.9 L457.0,210.9 L457.8,210.9 L458.5,210.9 L459.2,210.8 L459.9,210.8 L460.6,210.8 L461.3,210.7 L462.1,210.7 L462.8,210.7 L463.5,210.6 L464.2,210.6 L464.9,210.6 L465.7,210.5 L466.4,210.5 L467.1,210.5 L467.8,210.4 L468.5,210.4 L469.2,210.4 L470.0,210.4 L470.7,210.4 L471.4,210.4 L472.1,210.4 L472.8,210.4 L473.6,210.4 L474.3,210.4 L475.0,210.4 L475.7,210.5 L476.4,210.5 L477.1,210.5 L477.9,210.5 L478.6,210.5 L479.3,210.5 L480.0,210.5 L480.7,210.5 L481.5,210.5 L482.2,210.5 L482.9,210.5 L483.6,210.5 L484.3,210.5 L485.0,210.5 L485.8,210.5 L486.5,210.5 L487.2,210.5 L487.9,210.5 L488.6,210.5 L489.4,210.5 L490.1,210.5 L490.8,210.5 L491.5,210.5 L492.2,210.5 L492.9,210.5 L493.7,210.6 L494.4,210.6 L495.1,210.6 L495.8,210.7 L496.5,210.7 L497.2,210.8 L498.0,210.9 L498.7,210.9 L499.4,211.0 L500.1,211.1 L500.8,211.1 L501.6,211.2 L502.3,211.2 L503.0,211.3 L503.7,211.3 L504.4,211.4 L505.1,211.5 L505.9,211.5 L506.6,211.6 L507.3,211.7 L508.0,211.7 L508.7,211.8 L509.5,211.9 L510.2,211.9 L510.9,212.0 L511.6,212.1 L512.3,212.1 L513.0,212.2 L513.8,212.2 L514.5,212.2 L515.2,212.2 L515.9,212.2 L516.6,212.2 L517.4,212.2 L518.1,212.2 L518.8,212.1 L519.5,212.1 L520.2,212.1 L520.9,212.0 L521.7,212.0 L522.4,211.9 L523.1,211.9 L523.8,211.8 L524.5,211.8 L525.3,211.7 L526.0,211.7 L526.7,211.6 L527.4,211.5 L528.1,211.4 L528.8,211.4 L529.6,211.3 L530.3,211.2 L531.0,211.1 L531.7,211.0 L532.4,210.9 L533.2,210.8 L533.9,210.7 L534.6,210.6 L535.3,210.5 L536.0,210.4 L536.7,210.2 L537.5,210.1 L538.2,210.0 L538.9,209.9 L539.6,209.7 L540.3,209.6 L541.1,209.5 L541.8,209.3 L542.5,209.2 L543.2,209.1 L543.9,209.0 L544.6,208.8 L545.4,208.7 L546.1,208.6 L546.8,208.5 L547.5,208.4 L548.2,208.2 L549.0,208.1 L549.7,208.0 L550.4,207.9 L551.1,207.8 L551.8,207.7 L552.5,207.6 L553.3,207.5 L554.0,207.4 L554.7,207.3 L555.4,207.2 L556.1,207.1 L556.8,207.0 L557.6,206.9 L558.3,206.8 L559.0,206.7 L559.7,206.6 L560.4,206.6 L561.2,206.5 L561.9,206.4 L562.6,206.3 L563.3,206.3 L564.0,206.2 L564.7,206.1 L565.5,206.1 L566.2,206.0 L566.9,205.9 L567.6,205.9 L568.3,205.8 L569.1,205.7 L569.8,205.7 L570.5,205.6 L571.2,205.6 L571.9,205.5 L572.6,205.5 L573.4,205.4 L574.1,205.4 L574.8,205.3 L575.5,205.3 L576.2,205.2 L577.0,205.2 L577.7,205.1 L578.4,205.1 L579.1,205.0 L579.8,205.0 L580.5,204.9 L581.3,204.9 L582.0,204.8 L582.7,204.8 L583.4,204.7 L584.1,204.7 L584.9,204.6 L585.6,204.6 L586.3,204.5 L587.0,204.5 L587.7,204.4 L588.4,204.4 L589.2,204.3 L589.9,204.3 L590.6,204.3 L591.3,204.2 L592.0,204.2 L592.8,204.1 L593.5,204.1 L594.2,204.0 L594.9,204.0 L595.6,204.0 L596.3,203.9 L597.1,203.9 L597.8,203.9 L598.5,203.8 L599.2,203.8 L599.9,203.8 L600.7,203.7 L601.4,203.7 L602.1,203.7 L602.8,203.6 L603.5,203.6 L604.2,203.6 L605.0,203.6 L605.7,203.5 L606.4,203.5 L607.1,203.5 L607.8,203.5 L608.5,203.4 L609.3,203.4 L610.0,203.4 L610.7,203.4 L611.4,203.4 L612.1,203.4 L612.9,203.3 L613.6,203.3 L614.3,203.3 L615.0,203.3 L615.7,203.3 L616.4,203.3 L617.2,203.3 L617.9,203.2 L618.6,203.2 L619.3,203.2 L620.0,203.2 L620.8,203.2 L621.5,203.2 L622.2,203.2 L622.9,203.2 L623.6,203.2 L624.3,203.2 L625.1,203.2 L625.8,203.2 L626.5,203.2"/>
<path d="M238.8,300.4 L239.5,297.1 L240.2,293.0 L240.9,288.2 L241.6,282.9 L242.3,277.0 L243.1,270.8 L243.8,264.2 L244.5,257.5 L245.2,250.9 L245.9,244.6 L246.6,241.6 L247.4,239.9 L248.1,238.1 L248.8,236.2 L249.5,234.2 L250.2,232.1 L251.0,230.0 L251.7,227.9 L252.4,225.8 L253.1,223.7 L253.8,221.6 L254.5,219.7 L255.3,217.8 L256.0,215.9 L256.7,214.1 L257.4,212.4 L258.1,210.8 L258.9,209.2 L259.6,207.7 L260.3,206.3 L261.0,205.0 L261.7,203.7 L262.4,202.5 L263.2,201.3 L263.9,200.2 L264.6,199.2 L265.3,198.2 L266.0,197.3 L266.8,196.4 L267.5,195.6 L268.2,194.8 L268.9,194.0 L269.6,193.4 L270.3,192.7 L271.1,192.1 L271.8,191.6 L272.5,191.0 L273.2,190.6 L273.9,190.1 L274.7,189.8 L275.4,189.4 L276.1,189.1 L276.8,188.9 L277.5,188.6 L278.2,188.5 L279.0,188.3 L279.7,188.2 L280.4,188.2 L281.1,188.1 L281.8,188.1 L282.6,188.2 L283.3,188.2 L284.0,188.3 L284.7,188.4 L285.4,188.5 L286.1,188.7 L286.9,188.9 L287.6,189.0 L288.3,189.2 L289.0,189.4 L289.7,189.6 L290.4,189.8 L291.2,190.0 L291.9,190.2 L292.6,190.4 L293.3,190.6 L294.0,190.8 L294.8,190.9 L295.5,191.1 L296.2,191.2 L296.9,191.3 L297.6,191.3 L298.3,191.4 L299.1,191.4 L299.8,191.3 L300.5,191.3 L301.2,191.2 L301.9,191.1 L302.7,190.9 L303.4,190.7 L304.1,190.5 L304.8,190.2 L305.5,189.9 L306.2,189.5 L307.0,189.2 L307.7,188.7 L308.4,188.3 L309.1,187.8 L309.8,187.3 L310.6,186.8 L311.3,186.2 L312.0,185.7 L312.7,185.1 L313.4,184.4 L314.1,183.8 L314.9,183.2 L315.6,182.5 L316.3,181.8 L317.0,181.2 L317.7,180.5 L318.5,179.8 L319.2,179.2 L319.9,178.5 L320.6,177.9 L321.3,177.2 L322.0,176.6 L322.8,176.0 L323.5,175.5 L324.2,174.9 L324.9,174.4 L325.6,174.0 L326.4,173.5 L327.1,173.1 L327.8,172.7 L328.5,172.4 L329.2,172.1 L329.9,171.9 L330.7,171.7 L331.4,171.5 L332.1,171.4 L332.8,171.4 L333.5,171.4 L334.3,171.4 L335.0,171.5 L335.7,171.6 L336.4,171.8 L337.1,172.1 L337.8,172.4 L338.6,172.8 L339.3,173.2 L340.0,173.7 L340.7,174.2 L341.4,174.8 L342.1,175.4 L342.9,176.0 L343.6,176.7 L344.3,177.4 L345.0,178.1 L345.7,178.9 L346.5,179.6 L347.2,180.4 L347.9,181.2 L348.6,182.0 L349.3,182.7 L350.0,183.5 L350.8,184.3 L351.5,185.0 L352.2,185.8 L352.9,186.5 L353.6,187.2 L354.4,187.9 L355.1,188.6 L355.8,189.2 L356.5,189.8 L357.2,190.5 L357.9,191.1 L358.7,191.6 L359.4,192.2 L360.1,192.7 L360.8,193.2 L361.5,193.7 L362.3,194.2 L363.0,194.6 L363.7,195.0 L364.4,195.4 L365.1,195.8 L365.8,196.1 L366.6,196.4 L367.3,196.7 L368.0,197.0 L368.7,197.3 L369.4,197.5 L370.2,197.8 L370.9,198.0 L371.6,198.3 L372.3,198.5 L373.0,198.7 L373.7,199.0 L374.5,199.2 L375.2,199.4 L375.9,199.6 L376.6,199.8 L377.3,199.9 L378.1,200.1 L378.8,200.3 L379.5,200.4 L380.2,200.6 L380.9,200.7 L381.6,200.9 L382.4,201.1 L383.1,201.2 L383.8,201.4 L384.5,201.6 L385.2,201.8 L386.0,202.0 L386.7,202.2 L387.4,202.4 L388.1,202.6 L388.8,202.8 L389.5,203.0 L390.3,203.3 L391.0,203.5 L391.7,203.7 L392.4,204.0 L393.1,204.2 L393.9,204.4 L394.6,204.6 L395.3,204.8 L396.0,205.1 L396.7,205.3 L397.4,205.5 L398.2,205.7 L398.9,205.8 L399.6,206.0 L400.3,206.2 L401.0,206.4 L401.7,206.5 L402.5,206.7 L403.2,206.9 L403.9,207.0 L404.6,207.2 L405.3,207.4 L406.1,207.5 L406.8,207.7 L407.5,207.9 L408.2,208.0 L408.9,208.2 L409.6,208.4 L410.4,208.5 L411.1,208.7 L411.8,208.8 L412.5,209.0 L413.2,209.2 L414.0,209.3 L414.7,209.5 L415.4,209.6 L416.1,209.8 L416.8,209.9 L417.5,210.1 L418.3,210.2 L419.0,210.4 L419.7,210.5 L420.4,210.7 L421.1,210.8 L421.9,211.0 L422.6,211.1 L423.3,211.2 L424.0,211.4 L424.7,211.5 L425.4,211.6 L426.2,211.8 L426.9,211.9 L427.6,212.0 L428.3,212.1 L429.0,212.3 L429.8,212.4 L430.5,212.5 L431.2,212.6 L431.9,212.7 L432.6,212.8 L433.3,212.9 L434.1,213.0 L434.8,213.0 L435.5,213.1 L436.2,213.1 L436.9,213.1 L437.7,213.2 L438.4,213.2 L439.1,213.2 L439.8,213.1 L440.5,213.1 L441.2,213.1 L442.0,213.1 L442.7,213.0 L443.4,213.0 L444.1,213.0 L444.8,212.9 L445.6,212.9 L446.3,212.8 L447.0,212.8 L447.7,212.8 L448.4,212.7 L449.1,212.6 L449.9,212.6 L450.6,212.5 L451.3,212.4 L452.0,212.4 L452.7,212.3 L453.4,212.2 L454.2,212.1 L454.9,212.1 L455.6,212.0 L456.3,211.9 L457.0,211.9 L457.8,211.8 L458.5,211.7 L459.2,211.7 L459.9,211.6 L460.6,211.5 L461.3,211.5 L462.1,211.4 L462.8,211.3 L463.5,211.2 L464.2,211.2 L464.9,211.1 L465.7,211.0 L466.4,211.0 L467.1,210.9 L467.8,210.8 L468.5,210.8 L469.2,210.8 L470.0,210.7 L470.7,210.7 L471.4,210.7 L472.1,210.7 L472.8,210.7 L473.6,210.6 L474.3,210.6 L475.0,210.6 L475.7,210.6 L476.4,210.6 L477.1,210.6 L477.9,210.6 L478.6,210.5 L479.3,210.5 L480.0,210.5 L480.7,210.5 L481.5,210.5 L482.2,210.5 L482.9,210.4 L483.6,210.4 L484.3,210.4 L485.0,210.4 L485.8,210.4 L486.5,210.3 L487.2,210.3 L487.9,210.3 L488.6,210.3 L489.4,210.2 L490.1,210.2 L490.8,210.2 L491.5,210.2 L492.2,210.2 L492.9,210.2 L493.7,210.2 L494.4,210.2 L495.1,210.2 L495.8,210.2 L496.5,210.3 L497.2,210.3 L498.0,210.3 L498.7,210.3 L499.4,210.4 L500.1,210.4 L500.8,210.4 L501.6,210.5 L502.3,210.5 L503.0,210.5 L503.7,210.5 L504.4,210.5 L505.1,210.5 L505.9,210.6 L506.6,210.6 L507.3,210.6 L508.0,210.6 L508.7,210.7 L509.5,210.7 L510.2,210.7 L510.9,210.7 L511.6,210.7 L512.3,210.7 L513.0,210.7 L513.8,210.7 L514.5,210.7 L515.2,210.6 L515.9,210.6 L516.6,210.5 L517.4,210.5 L518.1,210.4 L518.8,210.3 L519.5,210.3 L520.2,210.2 L520.9,210.1 L521.7,210.0 L522.4,209.9 L523.1,209.9 L523.8,209.8 L524.5,209.7 L525.3,209.6 L526.0,209.5 L526.7,209.4 L527.4,209.3 L528.1,209.2 L528.8,209.1 L529.6,209.0 L530.3,208.9 L531.0,208.8 L531.7,208.6 L532.4,208.5 L533.2,208.4 L533.9,208.3 L534.6,208.2 L535.3,208.0 L536.0,207.9 L536.7,207.8 L537.5,207.7 L538.2,207.6 L538.9,207.4 L539.6,207.3 L540.3,207.2 L541.1,207.1 L541.8,207.0 L542.5,206.9 L543.2,206.7 L543.9,206.6 L544.6,206.5 L545.4,206.4 L546.1,206.3 L546.8,206.2 L547.5,206.1 L548.2,206.0 L549.0,205.9 L549.7,205.8 L550.4,205.7 L551.1,205.7 L551.8,205.6 L552.5,205.5 L553.3,205.4 L554.0,205.4 L554.7,205.3 L555.4,205.2 L556.1,205.2 L556.8,205.1 L557.6,205.1 L558.3,205.0 L559.0,205.0 L559.7,204.9 L560.4,204.9 L561.2,204.8 L561.9,204.8 L562.6,204.7 L563.3,204.7 L564.0,204.6 L564.7,204.6 L565.5,204.5 L566.2,204.5 L566.9,204.5 L567.6,204.4 L568.3,204.4 L569.1,204.3 L569.8,204.3 L570.5,204.3 L571.2,204.2 L571.9,204.2 L572.6,204.2 L573.4,204.1 L574.1,204.1 L574.8,204.1 L575.5,204.0 L576.2,204.0 L577.0,204.0 L577.7,203.9 L578.4,203.9 L579.1,203.9 L579.8,203.9 L580.5,203.8 L581.3,203.8 L582.0,203.8 L582.7,203.7 L583.4,203.7 L584.1,203.7 L584.9,203.6 L585.6,203.6 L586.3,203.6 L587.0,203.5 L587.7,203.5 L588.4,203.5 L589.2,203.5 L589.9,203.4 L590.6,203.4 L591.3,203.4 L592.0,203.4 L592.8,203.3 L593.5,203.3 L594.2,203.3 L594.9,203.3 L595.6,203.3 L596.3,203.2 L597.1,203.2 L597.8,203.2 L598.5,203.2 L599.2,203.2 L599.9,203.2 L600.7,203.2 L601.4,203.1 L602.1,203.1 L602.8,203.1 L603.5,203.1 L604.2,203.1 L605.0,203.1 L605.7,203.1 L606.4,203.1 L607.1,203.1 L607.8,203.1 L608.5,203.1 L609.3,203.1 L610.0,203.1 L610.7,203.1 L611.4,203.1 L612.1,203.1 L612.9,203.1 L613.6,203.1 L614.3,203.1 L615.0,203.1 L615.7,203.1 L616.4,203.1 L617.2,203.1 L617.9,203.2 L618.6,203.2 L619.3,203.2 L620.0,203.2 L620.8,203.2 L621.5,203.2 L622.2,203.2 L622.9,203.3 L623.6,203.3 L624.3,203.3 L625.1,203.3 L625.8,203.3 L626.5,203.3"/>
<path d="M238.8,239.3 L239.5,242.4 L240.2,244.6 L240.9,245.7 L241.6,245.9 L242.3,245.4 L243.1,244.1 L243.8,242.1 L244.5,239.7 L245.2,236.8 L245.9,233.8 L246.6,231.5 L247.4,229.5 L248.1,227.4 L248.8,225.1 L249.5,222.7 L250.2,220.3 L251.0,217.9 L251.7,215.5 L252.4,213.1 L253.1,210.8 L253.8,208.6 L254.5,206.4 L255.3,204.4 L256.0,202.4 L256.7,200.5 L257.4,198.8 L258.1,197.1 L258.9,195.6 L259.6,194.1 L260.3,192.7 L261.0,191.5 L261.7,190.3 L262.4,189.2 L263.2,188.2 L263.9,187.3 L264.6,186.4 L265.3,185.7 L266.0,184.9 L266.8,184.3 L267.5,183.7 L268.2,183.2 L268.9,182.7 L269.6,182.3 L270.3,182.0 L271.1,181.7 L271.8,181.4 L272.5,181.2 L273.2,181.0 L273.9,180.9 L274.7,180.8 L275.4,180.8 L276.1,180.8 L276.8,180.8 L277.5,180.8 L278.2,180.9 L279.0,181.1 L279.7,181.2 L280.4,181.4 L281.1,181.6 L281.8,181.8 L282.6,182.1 L283.3,182.3 L284.0,182.6 L284.7,182.9 L285.4,183.2 L286.1,183.5 L286.9,183.8 L287.6,184.1 L288.3,184.4 L289.0,184.7 L289.7,185.0 L290.4,185.3 L291.2,185.5 L291.9,185.8 L292.6,186.0 L293.3,186.2 L294.0,186.4 L294.8,186.5 L295.5,186.7 L296.2,186.7 L296.9,186.8 L297.6,186.8 L298.3,186.8 L299.1,186.8 L299.8,186.7 L300.5,186.6 L301.2,186.5 L301.9,186.3 L302.7,186.1 L303.4,185.8 L304.1,185.5 L304.8,185.2 L305.5,184.9 L306.2,184.5 L307.0,184.1 L307.7,183.7 L308.4,183.2 L309.1,182.8 L309.8,182.3 L310.6,181.8 L311.3,181.2 L312.0,180.7 L312.7,180.2 L313.4,179.6 L314.1,179.1 L314.9,178.5 L315.6,178.0 L316.3,177.4 L317.0,176.9 L317.7,176.4 L318.5,175.9 L319.2,175.4 L319.9,174.9 L320.6,174.5 L321.3,174.1 L322.0,173.7 L322.8,173.4 L323.5,173.1 L324.2,172.8 L324.9,172.6 L325.6,172.4 L326.4,172.3 L327.1,172.2 L327.8,172.1 L328.5,172.1 L329.2,172.2 L329.9,172.3 L330.7,172.4 L331.4,172.6 L332.1,172.8 L332.8,173.1 L333.5,173.4 L334.3,173.8 L335.0,174.2 L335.7,174.6 L336.4,175.1 L337.1,175.7 L337.8,176.3 L338.6,176.9 L339.3,177.6 L340.0,178.4 L340.7,179.1 L341.4,179.9 L342.1,180.7 L342.9,181.6 L343.6,182.4 L344.3,183.3 L345.0,184.1 L345.7,185.0 L346.5,185.9 L347.2,186.7 L347.9,187.6 L348.6,188.4 L349.3,189.2 L350.0,190.0 L350.8,190.8 L351.5,191.6 L352.2,192.3 L352.9,193.0 L353.6,193.7 L354.4,194.3 L355.1,194.9 L355.8,195.5 L356.5,196.1 L357.2,196.6 L357.9,197.1 L358.7,197.6 L359.4,198.1 L360.1,198.5 L360.8,198.9 L361.5,199.3 L362.3,199.6 L363.0,200.0 L363.7,200.3 L364.4,200.5 L365.1,200.8 L365.8,201.0 L366.6,201.3 L367.3,201.5 L368.0,201.7 L368.7,201.9 L369.4,202.1 L370.2,202.2 L370.9,202.4 L371.6,202.6 L372.3,202.7 L373.0,202.9 L373.7,203.0 L374.5,203.2 L375.2,203.3 L375.9,203.5 L376.6,203.6 L377.3,203.7 L378.1,203.9 L378.8,204.0 L379.5,204.2 L380.2,204.3 L380.9,204.4 L381.6,204.6 L382.4,204.8 L383.1,204.9 L383.8,205.1 L384.5,205.3 L385.2,205.5 L386.0,205.7 L386.7,205.9 L387.4,206.1 L388.1,206.3 L388.8,206.5 L389.5,206.8 L390.3,207.0 L391.0,207.2 L391.7,207.4 L392.4,207.7 L393.1,207.9 L393.9,208.1 L394.6,208.3 L395.3,208.5 L396.0,208.7 L396.7,208.9 L397.4,209.1 L398.2,209.3 L398.9,209.5 L399.6,209.7 L400.3,209.8 L401.0,210.0 L401.7,210.1 L402.5,210.3 L403.2,210.4 L403.9,210.6 L404.6,210.7 L405.3,210.9 L406.1,211.0 L406.8,211.2 L407.5,211.3 L408.2,211.5 L408.9,211.6 L409.6,211.8 L410.4,211.9 L411.1,212.0 L411.8,212.2 L412.5,212.3 L413.2,212.4 L414.0,212.6 L414.7,212.7 L415.4,212.8 L416.1,212.9 L416.8,213.1 L417.5,213.2 L418.3,213.3 L419.0,213.4 L419.7,213.5 L420.4,213.6 L421.1,213.7 L421.9,213.9 L422.6,214.0 L423.3,214.1 L424.0,214.2 L424.7,214.2 L425.4,214.3 L426.2,214.4 L426.9,214.5 L427.6,214.6 L428.3,214.7 L429.0,214.7 L429.8,214.8 L430.5,214.9 L431.2,214.9 L431.9,215.0 L432.6,215.0 L433.3,215.1 L434.1,215.1 L434.8,215.1 L435.5,215.1 L436.2,215.1 L436.9,215.0 L437.7,215.0 L438.4,214.9 L439.1,214.8 L439.8,214.8 L440.5,214.7 L441.2,214.6 L442.0,214.5 L442.7,214.4 L443.4,214.3 L444.1,214.2 L444.8,214.1 L445.6,214.0 L446.3,213.9 L447.0,213.8 L447.7,213.7 L448.4,213.6 L449.1,213.5 L449.9,213.4 L450.6,213.2 L451.3,213.1 L452.0,213.0 L452.7,212.9 L453.4,212.8 L454.2,212.6 L454.9,212.5 L455.6,212.4 L456.3,212.3 L457.0,212.2 L457.8,212.1 L458.5,212.0 L459.2,211.9 L459.9,211.8 L460.6,211.7 L461.3,211.6 L462.1,211.5 L462.8,211.4 L463.5,211.3 L464.2,211.2 L464.9,211.1 L465.7,211.0 L466.4,210.9 L467.1,210.8 L467.8,210.8 L468.5,210.7 L469.2,210.6 L470.0,210.6 L470.7,210.5 L471.4,210.5 L472.1,210.5 L472.8,210.4 L473.6,210.4 L474.3,210.4 L475.0,210.3 L475.7,210.3 L476.4,210.3 L477.1,210.2 L477.9,210.2 L478.6,210.1 L479.3,210.1 L480.0,210.1 L480.7,210.0 L481.5,210.0 L482.2,210.0 L482.9,209.9 L483.6,209.9 L484.3,209.8 L485.0,209.8 L485.8,209.8 L486.5,209.7 L487.2,209.7 L487.9,209.7 L488.6,209.6 L489.4,209.6 L490.1,209.5 L490.8,209.5 L491.5,209.5 L492.2,209.4 L492.9,209.4 L493.7,209.4 L494.4,209.4 L495.1,209.4 L495.8,209.4 L496.5,209.3 L497.2,209.3 L498.0,209.3 L498.7,209.3 L499.4,209.3 L500.1,209.3 L500.8,209.3 L501.6,209.3 L502.3,209.3 L503.0,209.2 L503.7,209.2 L504.4,209.2 L505.1,209.2 L505.9,209.1 L506.6,209.1 L507.3,209.1 L508.0,209.1 L508.7,209.0 L509.5,209.0 L510.2,209.0 L510.9,208.9 L511.6,208.9 L512.3,208.8 L513.0,208.8 L513.8,208.7 L514.5,208.6 L515.2,208.5 L515.9,208.5 L516.6,208.4 L517.4,208.3 L518.1,208.2 L518.8,208.1 L519.5,208.0 L520.2,207.9 L520.9,207.8 L521.7,207.7 L522.4,207.6 L523.1,207.5 L523.8,207.3 L524.5,207.2 L525.3,207.1 L526.0,207.0 L526.7,206.9 L527.4,206.8 L528.1,206.7 L528.8,206.5 L529.6,206.4 L530.3,206.3 L531.0,206.2 L531.7,206.1 L532.4,205.9 L533.2,205.8 L533.9,205.7 L534.6,205.6 L535.3,205.5 L536.0,205.4 L536.7,205.2 L537.5,205.1 L538.2,205.0 L538.9,204.9 L539.6,204.8 L540.3,204.7 L541.1,204.6 L541.8,204.6 L542.5,204.5 L543.2,204.4 L543.9,204.3 L544.6,204.2 L545.4,204.2 L546.1,204.1 L546.8,204.0 L547.5,203.9 L548.2,203.9 L549.0,203.8 L549.7,203.8 L550.4,203.7 L551.1,203.7 L551.8,203.6 L552.5,203.6 L553.3,203.5 L554.0,203.5 L554.7,203.5 L555.4,203.5 L556.1,203.5 L556.8,203.5 L557.6,203.4 L558.3,203.4 L559.0,203.4 L559.7,203.4 L560.4,203.4 L561.2,203.4 L561.9,203.4 L562.6,203.3 L563.3,203.3 L564.0,203.3 L564.7,203.3 L565.5,203.3 L566.2,203.3 L566.9,203.3 L567.6,203.2 L568.3,203.2 L569.1,203.2 L569.8,203.2 L570.5,203.2 L571.2,203.2 L571.9,203.2 L572.6,203.2 L573.4,203.2 L574.1,203.2 L574.8,203.2 L575.5,203.2 L576.2,203.1 L577.0,203.1 L577.7,203.1 L578.4,203.1 L579.1,203.1 L579.8,203.1 L580.5,203.1 L581.3,203.1 L582.0,203.1 L582.7,203.1 L583.4,203.0 L584.1,203.0 L584.9,203.0 L585.6,203.0 L586.3,203.0 L587.0,203.0 L587.7,203.0 L588.4,203.0 L589.2,203.0 L589.9,203.0 L590.6,203.0 L591.3,203.0 L592.0,203.0 L592.8,203.0 L593.5,203.0 L594.2,203.0 L594.9,203.0 L595.6,203.0 L596.3,203.0 L597.1,203.0 L597.8,203.0 L598.5,203.0 L599.2,203.0 L599.9,203.0 L600.7,203.0 L601.4,203.0 L602.1,203.0 L602.8,203.0 L603.5,203.1 L604.2,203.1 L605.0,203.1 L605.7,203.1 L606.4,203.1 L607.1,203.1 L607.8,203.2 L608.5,203.2 L609.3,203.2 L610.0,203.2 L610.7,203.2 L611.4,203.3 L612.1,203.3 L612.9,203.3 L613.6,203.3 L614.3,203.4 L615.0,203.4 L615.7,203.4 L616.4,203.4 L617.2,203.5 L617.9,203.5 L618.6,203.5 L619.3,203.6 L620.0,203.6 L620.8,203.6 L621.5,203.7 L622.2,203.7 L622.9,203.7 L623.6,203.8 L624.3,203.8 L625.1,203.8 L625.8,203.9 L626.5,203.9"/>
<path d="M238.8,174.2 L239.5,183.5 L240.2,191.6 L240.9,198.5 L241.6,204.3 L242.3,209.0 L243.1,212.9 L243.8,215.8 L244.5,217.9 L245.2,219.2 L245.9,219.7 L246.6,218.4 L247.4,216.4 L248.1,214.1 L248.8,211.8 L249.5,209.4 L250.2,206.9 L251.0,204.5 L251.7,202.1 L252.4,199.8 L253.1,197.5 L253.8,195.3 L254.5,193.2 L255.3,191.3 L256.0,189.4 L256.7,187.7 L257.4,186.1 L258.1,184.6 L258.9,183.2 L259.6,182.0 L260.3,180.8 L261.0,179.8 L261.7,178.9 L262.4,178.0 L263.2,177.3 L263.9,176.7 L264.6,176.1 L265.3,175.6 L266.0,175.2 L266.8,174.9 L267.5,174.7 L268.2,174.5 L268.9,174.3 L269.6,174.2 L270.3,174.2 L271.1,174.2 L271.8,174.3 L272.5,174.4 L273.2,174.6 L273.9,174.7 L274.7,175.0 L275.4,175.2 L276.1,175.5 L276.8,175.8 L277.5,176.2 L278.2,176.5 L279.0,176.9 L279.7,177.3 L280.4,177.7 L281.1,178.1 L281.8,178.5 L282.6,179.0 L283.3,179.4 L284.0,179.8 L284.7,180.3 L285.4,180.7 L286.1,181.1 L286.9,181.5 L287.6,181.9 L288.3,182.3 L289.0,182.6 L289.7,183.0 L290.4,183.3 L291.2,183.6 L291.9,183.8 L292.6,184.1 L293.3,184.3 L294.0,184.4 L294.8,184.6 L295.5,184.7 L296.2,184.7 L296.9,184.8 L297.6,184.8 L298.3,184.7 L299.1,184.6 L299.8,184.5 L300.5,184.4 L301.2,184.2 L301.9,184.0 L302.7,183.8 L303.4,183.5 L304.1,183.2 L304.8,182.9 L305.5,182.5 L306.2,182.2 L307.0,181.8 L307.7,181.4 L308.4,181.0 L309.1,180.6 L309.8,180.2 L310.6,179.7 L311.3,179.3 L312.0,178.9 L312.7,178.5 L313.4,178.0 L314.1,177.6 L314.9,177.3 L315.6,176.9 L316.3,176.5 L317.0,176.2 L317.7,175.9 L318.5,175.6 L319.2,175.4 L319.9,175.2 L320.6,175.0 L321.3,174.9 L322.0,174.8 L322.8,174.8 L323.5,174.8 L324.2,174.8 L324.9,174.9 L325.6,175.0 L326.4,175.2 L327.1,175.4 L327.8,175.7 L328.5,176.0 L329.2,176.4 L329.9,176.8 L330.7,177.2 L331.4,177.7 L332.1,178.3 L332.8,178.8 L333.5,179.5 L334.3,180.1 L335.0,180.8 L335.7,181.5 L336.4,182.3 L337.1,183.0 L337.8,183.9 L338.6,184.7 L339.3,185.6 L340.0,186.5 L340.7,187.4 L341.4,188.3 L342.1,189.2 L342.9,190.2 L343.6,191.1 L344.3,192.0 L345.0,192.9 L345.7,193.8 L346.5,194.6 L347.2,195.5 L347.9,196.3 L348.6,197.1 L349.3,197.8 L350.0,198.6 L350.8,199.3 L351.5,199.9 L352.2,200.6 L352.9,201.2 L353.6,201.7 L354.4,202.3 L355.1,202.7 L355.8,203.2 L356.5,203.6 L357.2,204.0 L357.9,204.4 L358.7,204.7 L359.4,205.0 L360.1,205.3 L360.8,205.5 L361.5,205.8 L362.3,206.0 L363.0,206.1 L363.7,206.3 L364.4,206.4 L365.1,206.6 L365.8,206.7 L366.6,206.8 L367.3,206.9 L368.0,207.0 L368.7,207.1 L369.4,207.1 L370.2,207.2 L370.9,207.3 L371.6,207.4 L372.3,207.4 L373.0,207.5 L373.7,207.6 L374.5,207.6 L375.2,207.7 L375.9,207.8 L376.6,207.8 L377.3,207.9 L378.1,208.0 L378.8,208.1 L379.5,208.2 L380.2,208.3 L380.9,208.4 L381.6,208.6 L382.4,208.7 L383.1,208.8 L383.8,209.0 L384.5,209.2 L385.2,209.3 L386.0,209.5 L386.7,209.7 L387.4,209.9 L388.1,210.1 L388.8,210.3 L389.5,210.5 L390.3,210.7 L391.0,210.9 L391.7,211.1 L392.4,211.3 L393.1,211.5 L393.9,211.7 L394.6,211.8 L395.3,212.0 L396.0,212.2 L396.7,212.4 L397.4,212.5 L398.2,212.7 L398.9,212.8 L399.6,212.9 L400.3,213.1 L401.0,213.2 L401.7,213.3 L402.5,213.4 L403.2,213.6 L403.9,213.7 L404.6,213.8 L405.3,213.9 L406.1,214.0 L406.8,214.1 L407.5,214.3 L408.2,214.4 L408.9,214.5 L409.6,214.6 L410.4,214.7 L411.1,214.8 L411.8,214.9 L412.5,215.0 L413.2,215.0 L414.0,215.1 L414.7,215.2 L415.4,215.3 L416.1,215.4 L416.8,215.4 L417.5,215.5 L418.3,215.6 L419.0,215.6 L419.7,215.7 L420.4,215.8 L421.1,215.8 L421.9,215.9 L422.6,215.9 L423.3,216.0 L424.0,216.0 L424.7,216.1 L425.4,216.1 L426.2,216.2 L426.9,216.2 L427.6,216.2 L428.3,216.2 L429.0,216.3 L429.8,216.3 L430.5,216.3 L431.2,216.3 L431.9,216.3 L432.6,216.3 L433.3,216.3 L434.1,216.2 L434.8,216.2 L435.5,216.1 L436.2,216.0 L436.9,215.9 L437.7,215.8 L438.4,215.7 L439.1,215.5 L439.8,215.4 L440.5,215.3 L441.2,215.1 L442.0,215.0 L442.7,214.8 L443.4,214.6 L444.1,214.5 L444.8,214.4 L445.6,214.2 L446.3,214.1 L447.0,213.9 L447.7,213.8 L448.4,213.6 L449.1,213.5 L449.9,213.3 L450.6,213.2 L451.3,213.0 L452.0,212.9 L452.7,212.7 L453.4,212.6 L454.2,212.4 L454.9,212.3 L455.6,212.1 L456.3,212.0 L457.0,211.9 L457.8,211.7 L458.5,211.6 L459.2,211.5 L459.9,211.4 L460.6,211.3 L461.3,211.2 L462.1,211.0 L462.8,210.9 L463.5,210.8 L464.2,210.7 L464.9,210.6 L465.7,210.5 L466.4,210.4 L467.1,210.3 L467.8,210.2 L468.5,210.1 L469.2,210.0 L470.0,210.0 L470.7,209.9 L471.4,209.8 L472.1,209.8 L472.8,209.7 L473.6,209.7 L474.3,209.6 L475.0,209.6 L475.7,209.5 L476.4,209.5 L477.1,209.4 L477.9,209.4 L478.6,209.3 L479.3,209.3 L480.0,209.2 L480.7,209.2 L481.5,209.1 L482.2,209.1 L482.9,209.0 L483.6,209.0 L484.3,208.9 L485.0,208.9 L485.8,208.8 L486.5,208.8 L487.2,208.7 L487.9,208.7 L488.6,208.6 L489.4,208.6 L490.1,208.5 L490.8,208.5 L491.5,208.4 L492.2,208.4 L492.9,208.3 L493.7,208.3 L494.4,208.2 L495.1,208.2 L495.8,208.2 L496.5,208.1 L497.2,208.1 L498.0,208.0 L498.7,208.0 L499.4,208.0 L500.1,207.9 L500.8,207.9 L501.6,207.8 L502.3,207.8 L503.0,207.7 L503.7,207.6 L504.4,207.6 L505.1,207.5 L505.9,207.4 L506.6,207.4 L507.3,207.3 L508.0,207.2 L508.7,207.1 L509.5,207.1 L510.2,207.0 L510.9,206.9 L511.6,206.8 L512.3,206.7 L513.0,206.6 L513.8,206.5 L514.5,206.4 L515.2,206.3 L515.9,206.2 L516.6,206.0 L517.4,205.9 L518.1,205.8 L518.8,205.7 L519.5,205.6 L520.2,205.5 L520.9,205.3 L521.7,205.2 L522.4,205.1 L523.1,205.0 L523.8,204.8 L524.5,204.7 L525.3,204.6 L526.0,204.5 L526.7,204.4 L527.4,204.2 L528.1,204.1 L528.8,204.0 L529.6,203.9 L530.3,203.8 L531.0,203.7 L531.7,203.5 L532.4,203.4 L533.2,203.3 L533.9,203.2 L534.6,203.1 L535.3,203.0 L536.0,203.0 L536.7,202.9 L537.5,202.8 L538.2,202.7 L538.9,202.6 L539.6,202.6 L540.3,202.5 L541.1,202.5 L541.8,202.4 L542.5,202.4 L543.2,202.3 L543.9,202.3 L544.6,202.2 L545.4,202.2 L546.1,202.2 L546.8,202.1 L547.5,202.1 L548.2,202.1 L549.0,202.1 L549.7,202.0 L550.4,202.0 L551.1,202.0 L551.8,202.0 L552.5,202.0 L553.3,202.1 L554.0,202.1 L554.7,202.1 L555.4,202.1 L556.1,202.2 L556.8,202.2 L557.6,202.2 L558.3,202.3 L559.0,202.3 L559.7,202.3 L560.4,202.3 L561.2,202.4 L561.9,202.4 L562.6,202.4 L563.3,202.4 L564.0,202.4 L564.7,202.4 L565.5,202.4 L566.2,202.5 L566.9,202.5 L567.6,202.5 L568.3,202.5 L569.1,202.5 L569.8,202.6 L570.5,202.6 L571.2,202.6 L571.9,202.6 L572.6,202.6 L573.4,202.6 L574.1,202.7 L574.8,202.7 L575.5,202.7 L576.2,202.7 L577.0,202.7 L577.7,202.8 L578.4,202.8 L579.1,202.8 L579.8,202.8 L580.5,202.8 L581.3,202.8 L582.0,202.8 L582.7,202.8 L583.4,202.9 L584.1,202.9 L584.9,202.9 L585.6,202.9 L586.3,202.9 L587.0,202.9 L587.7,202.9 L588.4,202.9 L589.2,203.0 L589.9,203.0 L590.6,203.0 L591.3,203.0 L592.0,203.0 L592.8,203.0 L593.5,203.1 L594.2,203.1 L594.9,203.1 L595.6,203.1 L596.3,203.2 L597.1,203.2 L597.8,203.2 L598.5,203.2 L599.2,203.3 L599.9,203.3 L600.7,203.3 L601.4,203.3 L602.1,203.4 L602.8,203.4 L603.5,203.4 L604.2,203.5 L605.0,203.5 L605.7,203.5 L606.4,203.6 L607.1,203.6 L607.8,203.7 L608.5,203.7 L609.3,203.7 L610.0,203.8 L610.7,203.8 L611.4,203.8 L612.1,203.9 L612.9,203.9 L613.6,204.0 L614.3,204.0 L615.0,204.1 L615.7,204.1 L616.4,204.1 L617.2,204.2 L617.9,204.2 L618.6,204.3 L619.3,204.3 L620.0,204.4 L620.8,204.4 L621.5,204.5 L622.2,204.5 L622.9,204.6 L623.6,204.6 L624.3,204.7 L625.1,204.7 L625.8,204.8 L626.5,204.8"/>
<path d="M238.8,113.1 L239.5,127.4 L240.2,140.4 L240.9,152.2 L241.6,162.9 L242.3,172.4 L243.1,180.9 L243.8,188.3 L244.5,194.7 L245.2,200.0 L245.9,204.0 L246.6,204.0 L247.4,202.0 L248.1,200.0 L248.8,197.9 L249.5,195.7 L250.2,193.5 L251.0,191.4 L251.7,189.3 L252.4,187.2 L253.1,185.3 L253.8,183.4 L254.5,181.7 L255.3,180.0 L256.0,178.5 L256.7,177.2 L257.4,175.9 L258.1,174.8 L258.9,173.7 L259.6,172.8 L260.3,172.1 L261.0,171.4 L261.7,170.8 L262.4,170.4 L263.2,170.0 L263.9,169.7 L264.6,169.5 L265.3,169.4 L266.0,169.3 L266.8,169.4 L267.5,169.5 L268.2,169.6 L268.9,169.8 L269.6,170.1 L270.3,170.4 L271.1,170.7 L271.8,171.1 L272.5,171.5 L273.2,172.0 L273.9,172.5 L274.7,173.0 L275.4,173.5 L276.1,174.0 L276.8,174.6 L277.5,175.2 L278.2,175.7 L279.0,176.3 L279.7,176.9 L280.4,177.5 L281.1,178.1 L281.8,178.7 L282.6,179.2 L283.3,179.8 L284.0,180.3 L284.7,180.8 L285.4,181.3 L286.1,181.8 L286.9,182.3 L287.6,182.7 L288.3,183.1 L289.0,183.5 L289.7,183.8 L290.4,184.1 L291.2,184.4 L291.9,184.7 L292.6,184.9 L293.3,185.0 L294.0,185.2 L294.8,185.3 L295.5,185.3 L296.2,185.4 L296.9,185.4 L297.6,185.3 L298.3,185.3 L299.1,185.1 L299.8,185.0 L300.5,184.9 L301.2,184.7 L301.9,184.5 L302.7,184.2 L303.4,184.0 L304.1,183.7 L304.8,183.4 L305.5,183.1 L306.2,182.8 L307.0,182.5 L307.7,182.2 L308.4,181.9 L309.1,181.6 L309.8,181.3 L310.6,181.0 L311.3,180.7 L312.0,180.4 L312.7,180.2 L313.4,179.9 L314.1,179.7 L314.9,179.6 L315.6,179.4 L316.3,179.3 L317.0,179.2 L317.7,179.2 L318.5,179.2 L319.2,179.2 L319.9,179.3 L320.6,179.4 L321.3,179.6 L322.0,179.8 L322.8,180.0 L323.5,180.3 L324.2,180.6 L324.9,181.0 L325.6,181.5 L326.4,181.9 L327.1,182.5 L327.8,183.0 L328.5,183.6 L329.2,184.3 L329.9,184.9 L330.7,185.6 L331.4,186.4 L332.1,187.2 L332.8,188.0 L333.5,188.8 L334.3,189.7 L335.0,190.5 L335.7,191.4 L336.4,192.3 L337.1,193.3 L337.8,194.2 L338.6,195.2 L339.3,196.1 L340.0,197.1 L340.7,198.0 L341.4,198.9 L342.1,199.8 L342.9,200.7 L343.6,201.6 L344.3,202.5 L345.0,203.3 L345.7,204.1 L346.5,204.8 L347.2,205.6 L347.9,206.3 L348.6,206.9 L349.3,207.5 L350.0,208.1 L350.8,208.6 L351.5,209.1 L352.2,209.6 L352.9,210.0 L353.6,210.4 L354.4,210.7 L355.1,211.0 L355.8,211.3 L356.5,211.6 L357.2,211.8 L357.9,211.9 L358.7,212.1 L359.4,212.2 L360.1,212.3 L360.8,212.3 L361.5,212.4 L362.3,212.4 L363.0,212.4 L363.7,212.4 L364.4,212.4 L365.1,212.3 L365.8,212.3 L366.6,212.3 L367.3,212.3 L368.0,212.2 L368.7,212.2 L369.4,212.2 L370.2,212.1 L370.9,212.1 L371.6,212.1 L372.3,212.0 L373.0,212.0 L373.7,212.0 L374.5,212.0 L375.2,211.9 L375.9,211.9 L376.6,211.9 L377.3,211.9 L378.1,212.0 L378.8,212.0 L379.5,212.1 L380.2,212.1 L380.9,212.2 L381.6,212.3 L382.4,212.4 L383.1,212.5 L383.8,212.6 L384.5,212.8 L385.2,212.9 L386.0,213.0 L386.7,213.2 L387.4,213.3 L388.1,213.4 L388.8,213.6 L389.5,213.7 L390.3,213.9 L391.0,214.0 L391.7,214.2 L392.4,214.3 L393.1,214.5 L393.9,214.6 L394.6,214.7 L395.3,214.9 L396.0,215.0 L396.7,215.1 L397.4,215.2 L398.2,215.3 L398.9,215.4 L399.6,215.5 L400.3,215.6 L401.0,215.6 L401.7,215.7 L402.5,215.8 L403.2,215.9 L403.9,215.9 L404.6,216.0 L405.3,216.1 L406.1,216.1 L406.8,216.2 L407.5,216.3 L408.2,216.3 L408.9,216.4 L409.6,216.4 L410.4,216.5 L411.1,216.5 L411.8,216.6 L412.5,216.6 L413.2,216.6 L414.0,216.7 L414.7,216.7 L415.4,216.7 L416.1,216.7 L416.8,216.8 L417.5,216.8 L418.3,216.8 L419.0,216.8 L419.7,216.8 L420.4,216.8 L421.1,216.8 L421.9,216.8 L422.6,216.8 L423.3,216.8 L424.0,216.8 L424.7,216.8 L425.4,216.8 L426.2,216.8 L426.9,216.7 L427.6,216.7 L428.3,216.7 L429.0,216.6 L429.8,216.6 L430.5,216.5 L431.2,216.5 L431.9,216.4 L432.6,216.4 L433.3,216.3 L434.1,216.2 L434.8,216.1 L435.5,216.0 L436.2,215.9 L436.9,215.7 L437.7,215.5 L438.4,215.4 L439.1,215.2 L439.8,215.0 L440.5,214.8 L441.2,214.6 L442.0,214.4 L442.7,214.3 L443.4,214.1 L444.1,213.9 L444.8,213.7 L445.6,213.5 L446.3,213.4 L447.0,213.2 L447.7,213.0 L448.4,212.9 L449.1,212.7 L449.9,212.5 L450.6,212.4 L451.3,212.2 L452.0,212.0 L452.7,211.8 L453.4,211.7 L454.2,211.5 L454.9,211.4 L455.6,211.2 L456.3,211.1 L457.0,210.9 L457.8,210.8 L458.5,210.7 L459.2,210.6 L459.9,210.4 L460.6,210.3 L461.3,210.2 L462.1,210.1 L462.8,209.9 L463.5,209.8 L464.2,209.7 L464.9,209.6 L465.7,209.5 L466.4,209.4 L467.1,209.3 L467.8,209.2 L468.5,209.1 L469.2,209.0 L470.0,209.0 L470.7,208.9 L471.4,208.8 L472.1,208.8 L472.8,208.7 L473.6,208.6 L474.3,208.6 L475.0,208.5 L475.7,208.5 L476.4,208.4 L477.1,208.3 L477.9,208.3 L478.6,208.2 L479.3,208.2 L480.0,208.1 L480.7,208.0 L481.5,208.0 L482.2,207.9 L482.9,207.9 L483.6,207.8 L484.3,207.7 L485.0,207.7 L485.8,207.6 L486.5,207.6 L487.2,207.5 L487.9,207.5 L488.6,207.4 L489.4,207.3 L490.1,207.3 L490.8,207.2 L491.5,207.2 L492.2,207.1 L492.9,207.0 L493.7,207.0 L494.4,206.9 L495.1,206.9 L495.8,206.8 L496.5,206.7 L497.2,206.7 L498.0,206.6 L498.7,206.5 L499.4,206.4 L500.1,206.4 L500.8,206.3 L501.6,206.2 L502.3,206.1 L503.0,206.0 L503.7,205.9 L504.4,205.9 L505.1,205.8 L505.9,205.7 L506.6,205.6 L507.3,205.4 L508.0,205.3 L508.7,205.2 L509.5,205.1 L510.2,205.0 L510.9,204.8 L511.6,204.7 L512.3,204.6 L513.0,204.4 L513.8,204.3 L514.5,204.2 L515.2,204.0 L515.9,203.9 L516.6,203.8 L517.4,203.7 L518.1,203.5 L518.8,203.4 L519.5,203.3 L520.2,203.2 L520.9,203.1 L521.7,202.9 L522.4,202.8 L523.1,202.7 L523.8,202.6 L524.5,202.5 L525.3,202.3 L526.0,202.2 L526.7,202.1 L527.4,202.0 L528.1,201.9 L528.8,201.8 L529.6,201.7 L530.3,201.6 L531.0,201.5 L531.7,201.4 L532.4,201.3 L533.2,201.3 L533.9,201.2 L534.6,201.1 L535.3,201.1 L536.0,201.0 L536.7,201.0 L537.5,200.9 L538.2,200.9 L538.9,200.9 L539.6,200.8 L540.3,200.8 L541.1,200.8 L541.8,200.8 L542.5,200.8 L543.2,200.8 L543.9,200.8 L544.6,200.8 L545.4,200.8 L546.1,200.8 L546.8,200.8 L547.5,200.8 L548.2,200.9 L549.0,200.9 L549.7,200.9 L550.4,200.9 L551.1,201.0 L551.8,201.0 L552.5,201.1 L553.3,201.1 L554.0,201.2 L554.7,201.3 L555.4,201.3 L556.1,201.4 L556.8,201.5 L557.6,201.5 L558.3,201.6 L559.0,201.7 L559.7,201.7 L560.4,201.8 L561.2,201.9 L561.9,201.9 L562.6,201.9 L563.3,202.0 L564.0,202.0 L564.7,202.1 L565.5,202.1 L566.2,202.2 L566.9,202.2 L567.6,202.3 L568.3,202.3 L569.1,202.3 L569.8,202.4 L570.5,202.4 L571.2,202.5 L571.9,202.5 L572.6,202.6 L573.4,202.6 L574.1,202.7 L574.8,202.7 L575.5,202.7 L576.2,202.8 L577.0,202.8 L577.7,202.9 L578.4,202.9 L579.1,202.9 L579.8,203.0 L580.5,203.0 L581.3,203.0 L582.0,203.1 L582.7,203.1 L583.4,203.1 L584.1,203.2 L584.9,203.2 L585.6,203.2 L586.3,203.3 L587.0,203.3 L587.7,203.3 L588.4,203.4 L589.2,203.4 L589.9,203.4 L590.6,203.5 L591.3,203.5 L592.0,203.5 L592.8,203.6 L593.5,203.6 L594.2,203.7 L594.9,203.7 L595.6,203.7 L596.3,203.8 L597.1,203.8 L597.8,203.9 L598.5,203.9 L599.2,204.0 L599.9,204.0 L600.7,204.0 L601.4,204.1 L602.1,204.1 L602.8,204.2 L603.5,204.2 L604.2,204.3 L605.0,204.3 L605.7,204.4 L606.4,204.4 L607.1,204.5 L607.8,204.5 L608.5,204.6 L609.3,204.6 L610.0,204.7 L610.7,204.7 L611.4,204.8 L612.1,204.8 L612.9,204.9 L613.6,204.9 L614.3,205.0 L615.0,205.0 L615.7,205.1 L616.4,205.2 L617.2,205.2 L617.9,205.3 L618.6,205.3 L619.3,205.4 L620.0,205.4 L620.8,205.5 L621.5,205.5 L622.2,205.6 L622.9,205.7 L623.6,205.7 L624.3,205.8 L625.1,205.8 L625.8,205.9 L626.5,205.9"/>
<path d="M238.8,63.3 L239.5,80.8 L240.2,97.3 L240.9,112.6 L241.6,126.8 L242.3,140.0 L243.1,152.1 L243.8,163.1 L244.5,173.0 L245.2,181.7 L245.9,188.7 L246.6,189.8 L247.4,188.3 L248.1,186.7 L248.8,185.0 L249.5,183.3 L250.2,181.7 L251.0,180.1 L251.7,178.5 L252.4,177.0 L253.1,175.6 L253.8,174.3 L254.5,173.1 L255.3,172.0 L256.0,171.1 L256.7,170.2 L257.4,169.4 L258.1,168.8 L258.9,168.2 L259.6,167.8 L260.3,167.5 L261.0,167.2 L261.7,167.1 L262.4,167.0 L263.2,167.1 L263.9,167.2 L264.6,167.4 L265.3,167.6 L266.0,168.0 L266.8,168.3 L267.5,168.8 L268.2,169.2 L268.9,169.8 L269.6,170.3 L270.3,170.9 L271.1,171.6 L271.8,172.2 L272.5,172.9 L273.2,173.6 L273.9,174.3 L274.7,175.0 L275.4,175.8 L276.1,176.5 L276.8,177.3 L277.5,178.0 L278.2,178.7 L279.0,179.4 L279.7,180.1 L280.4,180.8 L281.1,181.5 L281.8,182.2 L282.6,182.8 L283.3,183.4 L284.0,184.0 L284.7,184.5 L285.4,185.0 L286.1,185.5 L286.9,186.0 L287.6,186.4 L288.3,186.8 L289.0,187.1 L289.7,187.4 L290.4,187.7 L291.2,188.0 L291.9,188.1 L292.6,188.3 L293.3,188.4 L294.0,188.5 L294.8,188.6 L295.5,188.6 L296.2,188.6 L296.9,188.5 L297.6,188.5 L298.3,188.4 L299.1,188.3 L299.8,188.1 L300.5,188.0 L301.2,187.8 L301.9,187.6 L302.7,187.4 L303.4,187.2 L304.1,187.0 L304.8,186.8 L305.5,186.5 L306.2,186.3 L307.0,186.1 L307.7,185.9 L308.4,185.7 L309.1,185.6 L309.8,185.4 L310.6,185.3 L311.3,185.2 L312.0,185.1 L312.7,185.1 L313.4,185.1 L314.1,185.1 L314.9,185.1 L315.6,185.2 L316.3,185.4 L317.0,185.5 L317.7,185.8 L318.5,186.0 L319.2,186.3 L319.9,186.7 L320.6,187.0 L321.3,187.5 L322.0,187.9 L322.8,188.5 L323.5,189.0 L324.2,189.6 L324.9,190.3 L325.6,190.9 L326.4,191.7 L327.1,192.4 L327.8,193.2 L328.5,194.0 L329.2,194.8 L329.9,195.7 L330.7,196.6 L331.4,197.5 L332.1,198.4 L332.8,199.4 L333.5,200.3 L334.3,201.3 L335.0,202.2 L335.7,203.2 L336.4,204.2 L337.1,205.1 L337.8,206.1 L338.6,207.0 L339.3,207.9 L340.0,208.8 L340.7,209.7 L341.4,210.5 L342.1,211.3 L342.9,212.1 L343.6,212.8 L344.3,213.5 L345.0,214.1 L345.7,214.7 L346.5,215.3 L347.2,215.8 L347.9,216.3 L348.6,216.7 L349.3,217.1 L350.0,217.5 L350.8,217.8 L351.5,218.0 L352.2,218.2 L352.9,218.4 L353.6,218.6 L354.4,218.7 L355.1,218.8 L355.8,218.9 L356.5,218.9 L357.2,218.9 L357.9,218.8 L358.7,218.8 L359.4,218.7 L360.1,218.6 L360.8,218.4 L361.5,218.3 L362.3,218.1 L363.0,218.0 L363.7,217.8 L364.4,217.6 L365.1,217.5 L365.8,217.3 L366.6,217.1 L367.3,217.0 L368.0,216.8 L368.7,216.7 L369.4,216.6 L370.2,216.4 L370.9,216.3 L371.6,216.1 L372.3,216.0 L373.0,215.9 L373.7,215.8 L374.5,215.7 L375.2,215.6 L375.9,215.5 L376.6,215.4 L377.3,215.4 L378.1,215.3 L378.8,215.3 L379.5,215.3 L380.2,215.3 L380.9,215.3 L381.6,215.4 L382.4,215.4 L383.1,215.5 L383.8,215.6 L384.5,215.6 L385.2,215.7 L386.0,215.8 L386.7,215.8 L387.4,215.9 L388.1,216.0 L388.8,216.1 L389.5,216.2 L390.3,216.2 L391.0,216.3 L391.7,216.4 L392.4,216.5 L393.1,216.5 L393.9,216.6 L394.6,216.7 L395.3,216.7 L396.0,216.8 L396.7,216.8 L397.4,216.9 L398.2,216.9 L398.9,216.9 L399.6,217.0 L400.3,217.0 L401.0,217.0 L401.7,217.0 L402.5,217.1 L403.2,217.1 L403.9,217.1 L404.6,217.1 L405.3,217.1 L406.1,217.1 L406.8,217.1 L407.5,217.1 L408.2,217.1 L408.9,217.1 L409.6,217.1 L410.4,217.1 L411.1,217.1 L411.8,217.1 L412.5,217.1 L413.2,217.0 L414.0,217.0 L414.7,217.0 L415.4,216.9 L416.1,216.9 L416.8,216.9 L417.5,216.8 L418.3,216.8 L419.0,216.7 L419.7,216.7 L420.4,216.6 L421.1,216.6 L421.9,216.5 L422.6,216.5 L423.3,216.4 L424.0,216.4 L424.7,216.3 L425.4,216.2 L426.2,216.1 L426.9,216.1 L427.6,216.0 L428.3,215.9 L429.0,215.8 L429.8,215.7 L430.5,215.6 L431.2,215.5 L431.9,215.4 L432.6,215.3 L433.3,215.2 L434.1,215.1 L434.8,214.9 L435.5,214.8 L436.2,214.6 L436.9,214.4 L437.7,214.2 L438.4,214.0 L439.1,213.8 L439.8,213.6 L440.5,213.4 L441.2,213.2 L442.0,213.0 L442.7,212.8 L443.4,212.6 L444.1,212.4 L444.8,212.2 L445.6,212.1 L446.3,211.9 L447.0,211.7 L447.7,211.5 L448.4,211.4 L449.1,211.2 L449.9,211.0 L450.6,210.8 L451.3,210.7 L452.0,210.5 L452.7,210.4 L453.4,210.2 L454.2,210.1 L454.9,209.9 L455.6,209.8 L456.3,209.6 L457.0,209.5 L457.8,209.4 L458.5,209.3 L459.2,209.1 L459.9,209.0 L460.6,208.9 L461.3,208.8 L462.1,208.7 L462.8,208.6 L463.5,208.5 L464.2,208.4 L464.9,208.3 L465.7,208.2 L466.4,208.1 L467.1,208.0 L467.8,207.9 L468.5,207.8 L469.2,207.8 L470.0,207.7 L470.7,207.6 L471.4,207.6 L472.1,207.5 L472.8,207.4 L473.6,207.4 L474.3,207.3 L475.0,207.2 L475.7,207.2 L476.4,207.1 L477.1,207.1 L477.9,207.0 L478.6,206.9 L479.3,206.9 L480.0,206.8 L480.7,206.7 L481.5,206.7 L482.2,206.6 L482.9,206.6 L483.6,206.5 L484.3,206.4 L485.0,206.4 L485.8,206.3 L486.5,206.3 L487.2,206.2 L487.9,206.1 L488.6,206.1 L489.4,206.0 L490.1,206.0 L490.8,205.9 L491.5,205.9 L492.2,205.8 L492.9,205.7 L493.7,205.7 L494.4,205.6 L495.1,205.5 L495.8,205.4 L496.5,205.3 L497.2,205.3 L498.0,205.2 L498.7,205.1 L499.4,205.0 L500.1,204.9 L500.8,204.8 L501.6,204.7 L502.3,204.6 L503.0,204.5 L503.7,204.4 L504.4,204.2 L505.1,204.1 L505.9,204.0 L506.6,203.9 L507.3,203.7 L508.0,203.6 L508.7,203.5 L509.5,203.3 L510.2,203.2 L510.9,203.0 L511.6,202.9 L512.3,202.7 L513.0,202.6 L513.8,202.4 L514.5,202.3 L515.2,202.1 L515.9,202.0 L516.6,201.9 L517.4,201.8 L518.1,201.7 L518.8,201.6 L519.5,201.4 L520.2,201.3 L520.9,201.2 L521.7,201.1 L522.4,201.0 L523.1,200.9 L523.8,200.8 L524.5,200.7 L525.3,200.6 L526.0,200.5 L526.7,200.4 L527.4,200.4 L528.1,200.3 L528.8,200.2 L529.6,200.1 L530.3,200.1 L531.0,200.0 L531.7,199.9 L532.4,199.9 L533.2,199.8 L533.9,199.8 L534.6,199.8 L535.3,199.8 L536.0,199.8 L536.7,199.8 L537.5,199.8 L538.2,199.8 L538.9,199.8 L539.6,199.8 L540.3,199.8 L541.1,199.9 L541.8,199.9 L542.5,199.9 L543.2,200.0 L543.9,200.0 L544.6,200.1 L545.4,200.1 L546.1,200.2 L546.8,200.2 L547.5,200.3 L548.2,200.3 L549.0,200.4 L549.7,200.5 L550.4,200.5 L551.1,200.6 L551.8,200.7 L552.5,200.8 L553.3,200.9 L554.0,201.0 L554.7,201.1 L555.4,201.2 L556.1,201.3 L556.8,201.4 L557.6,201.5 L558.3,201.6 L559.0,201.7 L559.7,201.8 L560.4,201.9 L561.2,202.0 L561.9,202.0 L562.6,202.1 L563.3,202.2 L564.0,202.2 L564.7,202.3 L565.5,202.4 L566.2,202.4 L566.9,202.5 L567.6,202.6 L568.3,202.6 L569.1,202.7 L569.8,202.8 L570.5,202.8 L571.2,202.9 L571.9,203.0 L572.6,203.0 L573.4,203.1 L574.1,203.1 L574.8,203.2 L575.5,203.3 L576.2,203.3 L577.0,203.4 L577.7,203.4 L578.4,203.5 L579.1,203.5 L579.8,203.6 L580.5,203.6 L581.3,203.7 L582.0,203.7 L582.7,203.8 L583.4,203.8 L584.1,203.9 L584.9,203.9 L585.6,204.0 L586.3,204.0 L587.0,204.1 L587.7,204.1 L588.4,204.2 L589.2,204.2 L589.9,204.3 L590.6,204.3 L591.3,204.4 L592.0,204.4 L592.8,204.5 L593.5,204.5 L594.2,204.6 L594.9,204.6 L595.6,204.7 L596.3,204.8 L597.1,204.8 L597.8,204.9 L598.5,204.9 L599.2,205.0 L599.9,205.0 L600.7,205.1 L601.4,205.1 L602.1,205.2 L602.8,205.3 L603.5,205.3 L604.2,205.4 L605.0,205.4 L605.7,205.5 L606.4,205.5 L607.1,205.6 L607.8,205.7 L608.5,205.7 L609.3,205.8 L610.0,205.8 L610.7,205.9 L611.4,206.0 L612.1,206.0 L612.9,206.1 L613.6,206.1 L614.3,206.2 L615.0,206.2 L615.7,206.3 L616.4,206.4 L617.2,206.4 L617.9,206.5 L618.6,206.5 L619.3,206.6 L620.0,206.7 L620.8,206.7 L621.5,206.8 L622.2,206.8 L622.9,206.9 L623.6,206.9 L624.3,207.0 L625.1,207.1 L625.8,207.1 L626.5,207.2"/>
<path d="M238.8,30.7 L239.5,49.5 L240.2,67.3 L240.9,84.3 L241.6,100.3 L242.3,115.5 L243.1,129.8 L243.8,143.1 L244.5,155.4 L245.2,166.4 L245.9,175.5 L246.6,177.7 L247.4,176.8 L248.1,175.8 L248.8,174.8 L249.5,173.8 L250.2,172.9 L251.0,172.0 L251.7,171.2 L252.4,170.4 L253.1,169.8 L253.8,169.2 L254.5,168.6 L255.3,168.2 L256.0,167.9 L256.7,167.6 L257.4,167.5 L258.1,167.4 L258.9,167.4 L259.6,167.5 L260.3,167.6 L261.0,167.8 L261.7,168.1 L262.4,168.5 L263.2,169.0 L263.9,169.5 L264.6,170.0 L265.3,170.6 L266.0,171.2 L266.8,171.9 L267.5,172.6 L268.2,173.4 L268.9,174.2 L269.6,175.0 L270.3,175.8 L271.1,176.7 L271.8,177.5 L272.5,178.4 L273.2,179.2 L273.9,180.1 L274.7,180.9 L275.4,181.8 L276.1,182.6 L276.8,183.5 L277.5,184.3 L278.2,185.1 L279.0,185.8 L279.7,186.6 L280.4,187.3 L281.1,188.0 L281.8,188.6 L282.6,189.2 L283.3,189.8 L284.0,190.4 L284.7,190.9 L285.4,191.4 L286.1,191.8 L286.9,192.2 L287.6,192.6 L288.3,192.9 L289.0,193.1 L289.7,193.4 L290.4,193.6 L291.2,193.8 L291.9,193.9 L292.6,194.0 L293.3,194.0 L294.0,194.1 L294.8,194.1 L295.5,194.0 L296.2,194.0 L296.9,193.9 L297.6,193.8 L298.3,193.7 L299.1,193.6 L299.8,193.5 L300.5,193.3 L301.2,193.2 L301.9,193.0 L302.7,192.9 L303.4,192.8 L304.1,192.6 L304.8,192.5 L305.5,192.4 L306.2,192.3 L307.0,192.2 L307.7,192.2 L308.4,192.1 L309.1,192.1 L309.8,192.2 L310.6,192.2 L311.3,192.3 L312.0,192.4 L312.7,192.6 L313.4,192.8 L314.1,193.1 L314.9,193.3 L315.6,193.7 L316.3,194.0 L317.0,194.4 L317.7,194.9 L318.5,195.4 L319.2,195.9 L319.9,196.5 L320.6,197.1 L321.3,197.7 L322.0,198.4 L322.8,199.1 L323.5,199.9 L324.2,200.7 L324.9,201.5 L325.6,202.3 L326.4,203.2 L327.1,204.1 L327.8,205.0 L328.5,205.9 L329.2,206.9 L329.9,207.8 L330.7,208.8 L331.4,209.7 L332.1,210.7 L332.8,211.6 L333.5,212.6 L334.3,213.5 L335.0,214.5 L335.7,215.4 L336.4,216.3 L337.1,217.2 L337.8,218.0 L338.6,218.8 L339.3,219.6 L340.0,220.3 L340.7,221.0 L341.4,221.6 L342.1,222.2 L342.9,222.7 L343.6,223.2 L344.3,223.7 L345.0,224.1 L345.7,224.4 L346.5,224.7 L347.2,225.0 L347.9,225.2 L348.6,225.3 L349.3,225.4 L350.0,225.5 L350.8,225.6 L351.5,225.6 L352.2,225.5 L352.9,225.5 L353.6,225.4 L354.4,225.3 L355.1,225.1 L355.8,225.0 L356.5,224.8 L357.2,224.5 L357.9,224.3 L358.7,224.0 L359.4,223.7 L360.1,223.4 L360.8,223.1 L361.5,222.8 L362.3,222.5 L363.0,222.2 L363.7,221.9 L364.4,221.6 L365.1,221.3 L365.8,221.0 L366.6,220.7 L367.3,220.5 L368.0,220.2 L368.7,220.0 L369.4,219.8 L370.2,219.5 L370.9,219.3 L371.6,219.1 L372.3,218.9 L373.0,218.7 L373.7,218.5 L374.5,218.3 L375.2,218.1 L375.9,218.0 L376.6,217.8 L377.3,217.7 L378.1,217.6 L378.8,217.5 L379.5,217.5 L380.2,217.4 L380.9,217.4 L381.6,217.4 L382.4,217.4 L383.1,217.4 L383.8,217.4 L384.5,217.4 L385.2,217.4 L386.0,217.4 L386.7,217.4 L387.4,217.4 L388.1,217.4 L388.8,217.4 L389.5,217.4 L390.3,217.4 L391.0,217.4 L391.7,217.4 L392.4,217.4 L393.1,217.4 L393.9,217.4 L394.6,217.4 L395.3,217.4 L396.0,217.4 L396.7,217.4 L397.4,217.3 L398.2,217.3 L398.9,217.3 L399.6,217.2 L400.3,217.2 L401.0,217.1 L401.7,217.1 L402.5,217.1 L403.2,217.0 L403.9,217.0 L404.6,216.9 L405.3,216.9 L406.1,216.8 L406.8,216.8 L407.5,216.7 L408.2,216.7 L408.9,216.6 L409.6,216.6 L410.4,216.5 L411.1,216.4 L411.8,216.3 L412.5,216.3 L413.2,216.2 L414.0,216.1 L414.7,216.0 L415.4,215.9 L416.1,215.9 L416.8,215.8 L417.5,215.7 L418.3,215.6 L419.0,215.5 L419.7,215.4 L420.4,215.3 L421.1,215.2 L421.9,215.1 L422.6,215.0 L423.3,214.9 L424.0,214.7 L424.7,214.6 L425.4,214.5 L426.2,214.4 L426.9,214.3 L427.6,214.2 L428.3,214.0 L429.0,213.9 L429.8,213.8 L430.5,213.6 L431.2,213.5 L431.9,213.4 L432.6,213.2 L433.3,213.1 L434.1,212.9 L434.8,212.7 L435.5,212.6 L436.2,212.4 L436.9,212.2 L437.7,212.0 L438.4,211.8 L439.1,211.6 L439.8,211.4 L440.5,211.2 L441.2,211.0 L442.0,210.8 L442.7,210.6 L443.4,210.4 L444.1,210.3 L444.8,210.1 L445.6,209.9 L446.3,209.8 L447.0,209.6 L447.7,209.4 L448.4,209.3 L449.1,209.1 L449.9,209.0 L450.6,208.8 L451.3,208.7 L452.0,208.6 L452.7,208.4 L453.4,208.3 L454.2,208.2 L454.9,208.1 L455.6,207.9 L456.3,207.8 L457.0,207.7 L457.8,207.6 L458.5,207.5 L459.2,207.4 L459.9,207.3 L460.6,207.2 L461.3,207.2 L462.1,207.1 L462.8,207.0 L463.5,206.9 L464.2,206.8 L464.9,206.8 L465.7,206.7 L466.4,206.6 L467.1,206.6 L467.8,206.5 L468.5,206.4 L469.2,206.4 L470.0,206.3 L470.7,206.3 L471.4,206.2 L472.1,206.1 L472.8,206.1 L473.6,206.0 L474.3,206.0 L475.0,205.9 L475.7,205.8 L476.4,205.8 L477.1,205.7 L477.9,205.7 L478.6,205.6 L479.3,205.6 L480.0,205.5 L480.7,205.4 L481.5,205.4 L482.2,205.3 L482.9,205.3 L483.6,205.2 L484.3,205.2 L485.0,205.1 L485.8,205.1 L486.5,205.0 L487.2,205.0 L487.9,204.9 L488.6,204.9 L489.4,204.8 L490.1,204.8 L490.8,204.7 L491.5,204.7 L492.2,204.6 L492.9,204.5 L493.7,204.5 L494.4,204.4 L495.1,204.3 L495.8,204.2 L496.5,204.1 L497.2,204.0 L498.0,203.9 L498.7,203.8 L499.4,203.7 L500.1,203.6 L500.8,203.5 L501.6,203.4 L502.3,203.3 L503.0,203.2 L503.7,203.0 L504.4,202.9 L505.1,202.8 L505.9,202.7 L506.6,202.5 L507.3,202.4 L508.0,202.3 L508.7,202.1 L509.5,201.9 L510.2,201.8 L510.9,201.6 L511.6,201.5 L512.3,201.3 L513.0,201.2 L513.8,201.1 L514.5,200.9 L515.2,200.8 L515.9,200.7 L516.6,200.6 L517.4,200.5 L518.1,200.4 L518.8,200.3 L519.5,200.2 L520.2,200.1 L520.9,200.1 L521.7,200.0 L522.4,199.9 L523.1,199.8 L523.8,199.8 L524.5,199.7 L525.3,199.6 L526.0,199.6 L526.7,199.5 L527.4,199.5 L528.1,199.4 L528.8,199.4 L529.6,199.3 L530.3,199.3 L531.0,199.3 L531.7,199.3 L532.4,199.3 L533.2,199.3 L533.9,199.3 L534.6,199.3 L535.3,199.3 L536.0,199.4 L536.7,199.4 L537.5,199.4 L538.2,199.5 L538.9,199.5 L539.6,199.6 L540.3,199.7 L541.1,199.7 L541.8,199.8 L542.5,199.9 L543.2,200.0 L543.9,200.1 L544.6,200.1 L545.4,200.2 L546.1,200.3 L546.8,200.4 L547.5,200.5 L548.2,200.6 L549.0,200.7 L549.7,200.8 L550.4,200.9 L551.1,201.0 L551.8,201.1 L552.5,201.2 L553.3,201.3 L554.0,201.5 L554.7,201.6 L555.4,201.7 L556.1,201.8 L556.8,202.0 L557.6,202.1 L558.3,202.2 L559.0,202.3 L559.7,202.4 L560.4,202.5 L561.2,202.6 L561.9,202.7 L562.6,202.8 L563.3,202.9 L564.0,203.0 L564.7,203.1 L565.5,203.1 L566.2,203.2 L566.9,203.3 L567.6,203.4 L568.3,203.5 L569.1,203.5 L569.8,203.6 L570.5,203.7 L571.2,203.8 L571.9,203.8 L572.6,203.9 L573.4,204.0 L574.1,204.1 L574.8,204.1 L575.5,204.2 L576.2,204.3 L577.0,204.3 L577.7,204.4 L578.4,204.5 L579.1,204.5 L579.8,204.6 L580.5,204.7 L581.3,204.7 L582.0,204.8 L582.7,204.8 L583.4,204.9 L584.1,205.0 L584.9,205.0 L585.6,205.1 L586.3,205.1 L587.0,205.2 L587.7,205.3 L588.4,205.3 L589.2,205.4 L589.9,205.4 L590.6,205.5 L591.3,205.6 L592.0,205.6 L592.8,205.7 L593.5,205.7 L594.2,205.8 L594.9,205.9 L595.6,205.9 L596.3,206.0 L597.1,206.0 L597.8,206.1 L598.5,206.2 L599.2,206.2 L599.9,206.3 L600.7,206.3 L601.4,206.4 L602.1,206.5 L602.8,206.5 L603.5,206.6 L604.2,206.6 L605.0,206.7 L605.7,206.8 L606.4,206.8 L607.1,206.9 L607.8,206.9 L608.5,207.0 L609.3,207.1 L610.0,207.1 L610.7,207.2 L611.4,207.2 L612.1,207.3 L612.9,207.3 L613.6,207.4 L614.3,207.5 L615.0,207.5 L615.7,207.6 L616.4,207.6 L617.2,207.7 L617.9,207.7 L618.6,207.8 L619.3,207.8 L620.0,207.9 L620.8,207.9 L621.5,208.0 L622.2,208.1 L622.9,208.1 L623.6,208.2 L624.3,208.2 L625.1,208.3 L625.8,208.3 L626.5,208.4"/>
</g>
<use href="#cw" transform="translate(1.6,0)"/>
<path d="M109.5,0.5 H626.5" fill="none" stroke="#b0b0b0" stroke-width="1"/>
<path d="M109.5,0 V412.9 M109.0,412.4 H627.1" fill="none" stroke="#404040" stroke-width="1"/>
<line x1="626.5" y1="0" x2="626.5" y2="412.9" stroke="#262626" stroke-width="1.2"/>
<g><line x1="174.4" y1="412.4" x2="174.4" y2="407.4" class="tk"/><line x1="174.4" y1="0.5" x2="174.4" y2="5.5" class="tk"/><line x1="238.9" y1="412.4" x2="238.9" y2="407.4" class="tk"/><line x1="238.9" y1="0.5" x2="238.9" y2="5.5" class="tk"/><line x1="302.5" y1="412.4" x2="302.5" y2="407.4" class="tk"/><line x1="302.5" y1="0.5" x2="302.5" y2="5.5" class="tk"/><line x1="367.5" y1="412.4" x2="367.5" y2="407.4" class="tk"/><line x1="367.5" y1="0.5" x2="367.5" y2="5.5" class="tk"/><line x1="432.5" y1="412.4" x2="432.5" y2="407.4" class="tk"/><line x1="432.5" y1="0.5" x2="432.5" y2="5.5" class="tk"/><line x1="497.2" y1="412.4" x2="497.2" y2="407.4" class="tk"/><line x1="497.2" y1="0.5" x2="497.2" y2="5.5" class="tk"/><line x1="561.5" y1="412.4" x2="561.5" y2="407.4" class="tk"/><line x1="561.5" y1="0.5" x2="561.5" y2="5.5" class="tk"/><line x1="109.5" y1="19.5" x2="114.5" y2="19.5" class="tk"/><line x1="626.5" y1="19.5" x2="621.5" y2="19.5" class="tk"/><line x1="109.5" y1="56.6" x2="114.5" y2="56.6" class="tk"/><line x1="626.5" y1="56.6" x2="621.5" y2="56.6" class="tk"/><line x1="109.5" y1="94.5" x2="114.5" y2="94.5" class="tk"/><line x1="626.5" y1="94.5" x2="621.5" y2="94.5" class="tk"/><line x1="109.5" y1="131.5" x2="114.5" y2="131.5" class="tk"/><line x1="626.5" y1="131.5" x2="621.5" y2="131.5" class="tk"/><line x1="109.5" y1="169.3" x2="114.5" y2="169.3" class="tk"/><line x1="626.5" y1="169.3" x2="621.5" y2="169.3" class="tk"/><line x1="109.5" y1="206.7" x2="114.5" y2="206.7" class="tk"/><line x1="626.5" y1="206.7" x2="621.5" y2="206.7" class="tk"/><line x1="109.5" y1="244.2" x2="114.5" y2="244.2" class="tk"/><line x1="626.5" y1="244.2" x2="621.5" y2="244.2" class="tk"/><line x1="109.5" y1="281.8" x2="114.5" y2="281.8" class="tk"/><line x1="626.5" y1="281.8" x2="621.5" y2="281.8" class="tk"/><line x1="109.5" y1="319.5" x2="114.5" y2="319.5" class="tk"/><line x1="626.5" y1="319.5" x2="621.5" y2="319.5" class="tk"/><line x1="109.5" y1="356.5" x2="114.5" y2="356.5" class="tk"/><line x1="626.5" y1="356.5" x2="621.5" y2="356.5" class="tk"/><line x1="109.5" y1="394.0" x2="114.5" y2="394.0" class="tk"/><line x1="626.5" y1="394.0" x2="621.5" y2="394.0" class="tk"/></g>
<rect x="302.05" y="55.3" width="129.7" height="280.4" rx="11" ry="11" fill="none" stroke="#ff0000" stroke-width="3.6"/>
<line x1="302.0" y1="331.2" x2="302.0" y2="392" stroke="#000" stroke-width="3.7" stroke-dasharray="11.2 13.25" stroke-linecap="round"/>
<line x1="432.4" y1="331.2" x2="432.4" y2="392" stroke="#000" stroke-width="3.7" stroke-dasharray="11.2 13.25" stroke-linecap="round"/>
<line x1="318" y1="361.8" x2="416" y2="361.8" stroke="#000" stroke-width="3.6"/>
<polygon points="304.2,361.8 324,355.1 324,368.5" fill="#000"/>
<polygon points="430.6,361.8 410.8,355.1 410.8,368.5" fill="#000"/>
<text x="371" y="386.8" text-anchor="middle" class="an">W cycles</text>
<text x="370.2" y="89.6" text-anchor="middle" class="an">Data</text>
<text x="370.2" y="112.5" text-anchor="middle" class="an">Window</text>
<rect x="460.3" y="14.85" width="96.75" height="80.9" fill="#fff" stroke="#000" stroke-width="1.9"/>
<text x="479.39" y="37.7" class="an">Zone </text><path d="M763 0H583V1147Q518 1085 412.5 1023T223 930V1104Q374 1175 487 1276T647 1472H763Z" transform="translate(527.21,37.7) scale(0.00913,-0.00913)" fill="#000"/>
<text x="508.5" y="60.0" text-anchor="middle" class="an">operating</text>
<text x="508.5" y="83.8" text-anchor="middle" class="an">time (T<tspan font-size="12.3px" dy="1.8">OP</tspan><tspan dy="-1.8">)</tspan></text>
<line x1="459.8" y1="96.0" x2="445" y2="108" stroke="#000" stroke-width="1.9"/>
<polygon points="433.9,116.9 443.1,101.5 451.0,111.3" fill="#000"/>
<g><text x="101.75" y="436.7" class="tl">-</text><path d="M763 0H583V1147Q518 1085 412.5 1023T223 930V1104Q374 1175 487 1276T647 1472H763Z" transform="translate(108.08,436.7) scale(0.00928,-0.00928)" fill="#1a1a1a"/><text x="159.03" y="436.7" class="tl">-0.5</text><text x="233.62" y="436.7" class="tl">0</text><text x="290.10" y="436.7" class="tl">0.5</text><path d="M763 0H583V1147Q518 1085 412.5 1023T223 930V1104Q374 1175 487 1276T647 1472H763Z" transform="translate(361.92,436.7) scale(0.00928,-0.00928)" fill="#1a1a1a"/><path d="M763 0H583V1147Q518 1085 412.5 1023T223 930V1104Q374 1175 487 1276T647 1472H763Z" transform="translate(419.30,436.7) scale(0.00928,-0.00928)" fill="#1a1a1a"/><text x="429.86" y="436.7" class="tl">.5</text><text x="490.52" y="436.7" class="tl">2</text><text x="548.00" y="436.7" class="tl">2.5</text><text x="619.82" y="436.7" class="tl">3</text></g>
<g><path d="M763 0H583V1147Q518 1085 412.5 1023T223 930V1104Q374 1175 487 1276T647 1472H763Z" transform="translate(91.44,27.8) scale(0.00928,-0.00928)" fill="#1a1a1a"/><text x="75.59" y="65.3" class="tl">0.8</text><text x="75.59" y="102.8" class="tl">0.6</text><text x="75.59" y="140.3" class="tl">0.4</text><text x="75.59" y="177.8" class="tl">0.2</text><text x="91.44" y="215.3" class="tl">0</text><text x="69.26" y="252.7" class="tl">-0.2</text><text x="69.26" y="290.2" class="tl">-0.4</text><text x="69.26" y="327.7" class="tl">-0.6</text><text x="69.26" y="365.2" class="tl">-0.8</text><text x="85.11" y="402.7" class="tl">-</text><path d="M763 0H583V1147Q518 1085 412.5 1023T223 930V1104Q374 1175 487 1276T647 1472H763Z" transform="translate(91.44,402.7) scale(0.00928,-0.00928)" fill="#1a1a1a"/></g>
<text x="353.6" y="464.4" text-anchor="middle" class="al">Time (cyc)</text>
<text transform="translate(58.3,209) rotate(-90)" text-anchor="middle" class="al">Voltage (pu)</text>
</svg>
</body></html>
